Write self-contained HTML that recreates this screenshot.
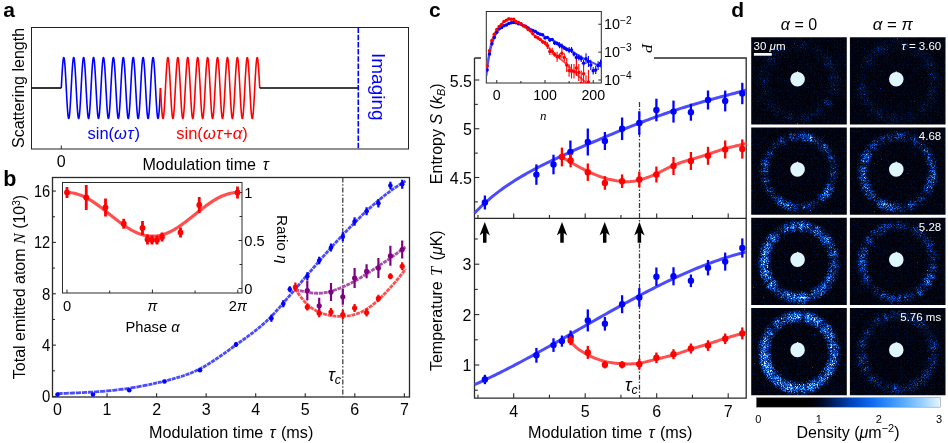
<!DOCTYPE html>
<html><head><meta charset="utf-8"><title>figure</title>
<style>html,body{margin:0;padding:0;background:#fff;}svg{display:block;isolation:isolate;}</style></head><body>
<svg width="948" height="443" viewBox="0 0 948 443">
<rect x="0" y="0" width="948" height="443" fill="#fff"/>
<g opacity="0.999">
<text x="3.2" y="17.2" font-size="21" text-anchor="start" fill="#000" font-family="Liberation Sans, sans-serif" font-weight="bold">a</text>
<text x="3.2" y="185.6" font-size="21.5" text-anchor="start" fill="#000" font-family="Liberation Sans, sans-serif" font-weight="bold">b</text>
<text x="429" y="17.2" font-size="21" text-anchor="start" fill="#000" font-family="Liberation Sans, sans-serif" font-weight="bold">c</text>
<text x="731.3" y="16.6" font-size="21" text-anchor="start" fill="#000" font-family="Liberation Sans, sans-serif" font-weight="bold">d</text>
<rect x="31.5" y="27.5" width="377.0" height="121.5" fill="none" stroke="#222" stroke-width="1"/>
<path d="M31.5 88.0L61.3 88.0" stroke="#000" stroke-width="1.6" fill="none"/>
<path d="M61.30 88.00L61.47 84.81L61.63 81.65L61.80 78.56L61.96 75.58L62.13 72.73L62.29 70.05L62.46 67.56L62.62 65.31L62.79 63.30L62.96 61.56L63.12 60.11L63.29 58.97L63.45 58.15L63.62 57.66L63.78 57.50L63.95 57.68L64.12 58.19L64.28 59.02L64.45 60.18L64.61 61.64L64.78 63.39L64.94 65.41L65.11 67.68L65.27 70.18L65.44 72.87L65.61 75.72L65.77 78.71L65.94 81.80L66.10 84.97L66.27 88.16L66.43 91.35L66.60 94.51L66.77 97.59L66.93 100.57L67.10 103.41L67.26 106.08L67.43 108.55L67.59 110.80L67.76 112.80L67.92 114.52L68.09 115.95L68.26 117.08L68.42 117.88L68.59 118.36L68.75 118.50L68.92 118.31L69.08 117.78L69.25 116.93L69.41 115.76L69.58 114.28L69.75 112.51L69.91 110.48L70.08 108.20L70.24 105.69L70.41 103.00L70.57 100.13L70.74 97.14L70.91 94.04L71.07 90.88L71.24 87.68L71.40 84.49L71.57 81.34L71.73 78.26L71.90 75.28L72.06 72.45L72.23 69.79L72.40 67.33L72.56 65.09L72.73 63.11L72.89 61.40L73.06 59.99L73.22 58.88L73.39 58.09L73.56 57.63L73.72 57.50L73.89 57.71L74.05 58.25L74.22 59.12L74.38 60.31L74.55 61.80L74.71 63.58L74.88 65.63L75.05 67.92L75.21 70.44L75.38 73.14L75.54 76.01L75.71 79.02L75.87 82.12L76.04 85.28L76.20 88.48L76.37 91.67L76.54 94.82L76.70 97.90L76.87 100.86L77.03 103.69L77.20 106.34L77.36 108.79L77.53 111.01L77.70 112.98L77.86 114.68L78.03 116.08L78.19 117.17L78.36 117.94L78.52 118.39L78.69 118.49L78.85 118.27L79.02 117.71L79.19 116.82L79.35 115.62L79.52 114.12L79.68 112.32L79.85 110.26L80.01 107.96L80.18 105.43L80.35 102.72L80.51 99.84L80.68 96.83L80.84 93.72L81.01 90.56L81.17 87.36L81.34 84.17L81.50 81.02L81.67 77.95L81.84 74.99L82.00 72.18L82.17 69.53L82.33 67.09L82.50 64.88L82.66 62.93L82.83 61.25L82.99 59.86L83.16 58.78L83.33 58.03L83.49 57.60L83.66 57.51L83.82 57.75L83.99 58.33L84.15 59.23L84.32 60.45L84.49 61.97L84.65 63.77L84.82 65.85L84.98 68.16L85.15 70.70L85.31 73.42L85.48 76.31L85.64 79.32L85.81 82.43L85.98 85.60L86.14 88.80L86.31 91.99L86.47 95.13L86.64 98.20L86.80 101.15L86.97 103.96L87.14 106.59L87.30 109.02L87.47 111.22L87.63 113.16L87.80 114.83L87.96 116.20L88.13 117.26L88.29 118.00L88.46 118.41L88.63 118.49L88.79 118.23L88.96 117.64L89.12 116.72L89.29 115.48L89.45 113.95L89.62 112.13L89.78 110.04L89.95 107.71L90.12 105.17L90.28 102.43L90.45 99.54L90.61 96.52L90.78 93.41L90.94 90.24L91.11 87.04L91.28 83.85L91.44 80.71L91.61 77.65L91.77 74.70L91.94 71.90L92.10 69.28L92.27 66.86L92.43 64.68L92.60 62.75L92.77 61.09L92.93 59.74L93.10 58.69L93.26 57.97L93.43 57.58L93.59 57.52L93.76 57.79L93.93 58.40L94.09 59.34L94.26 60.59L94.42 62.14L94.59 63.97L94.75 66.07L94.92 68.41L95.08 70.96L95.25 73.71L95.42 76.61L95.58 79.63L95.75 82.75L95.91 85.92L96.08 89.12L96.24 92.30L96.41 95.44L96.57 98.50L96.74 101.44L96.91 104.23L97.07 106.85L97.24 109.25L97.40 111.43L97.57 113.34L97.73 114.98L97.90 116.32L98.07 117.35L98.23 118.06L98.40 118.43L98.56 118.48L98.73 118.18L98.89 117.56L99.06 116.61L99.22 115.34L99.39 113.78L99.56 111.93L99.72 109.82L99.89 107.47L100.05 104.90L100.22 102.15L100.38 99.25L100.55 96.22L100.72 93.09L100.88 89.92L101.05 86.72L101.21 83.54L101.38 80.40L101.54 77.35L101.71 74.42L101.87 71.63L102.04 69.03L102.21 66.63L102.37 64.47L102.54 62.57L102.70 60.95L102.87 59.62L103.03 58.61L103.20 57.92L103.36 57.56L103.53 57.53L103.70 57.84L103.86 58.48L104.03 59.45L104.19 60.73L104.36 62.31L104.52 64.17L104.69 66.29L104.86 68.65L105.02 71.23L105.19 73.99L105.35 76.90L105.52 79.94L105.68 83.06L105.85 86.24L106.01 89.44L106.18 92.62L106.35 95.75L106.51 98.80L106.68 101.73L106.84 104.50L107.01 107.10L107.17 109.48L107.34 111.63L107.51 113.52L107.67 115.13L107.84 116.44L108.00 117.44L108.17 118.11L108.33 118.45L108.50 118.46L108.66 118.14L108.83 117.48L109.00 116.50L109.16 115.20L109.33 113.61L109.49 111.73L109.66 109.60L109.82 107.22L109.99 104.64L110.15 101.87L110.32 98.95L110.49 95.91L110.65 92.78L110.82 89.60L110.98 86.40L111.15 83.22L111.31 80.09L111.48 77.05L111.65 74.13L111.81 71.36L111.98 68.78L112.14 66.40L112.31 64.27L112.47 62.39L112.64 60.80L112.80 59.50L112.97 58.52L113.14 57.86L113.30 57.54L113.47 57.55L113.63 57.89L113.80 58.56L113.96 59.56L114.13 60.87L114.29 62.48L114.46 64.37L114.63 66.52L114.79 68.90L114.96 71.50L115.12 74.27L115.29 77.20L115.45 80.25L115.62 83.38L115.79 86.56L115.95 89.76L116.12 92.94L116.28 96.06L116.45 99.10L116.61 102.01L116.78 104.77L116.94 107.35L117.11 109.71L117.28 111.83L117.44 113.69L117.61 115.27L117.77 116.55L117.94 117.52L118.10 118.16L118.27 118.47L118.44 118.44L118.60 118.08L118.77 117.39L118.93 116.38L119.10 115.05L119.26 113.43L119.43 111.53L119.59 109.37L119.76 106.97L119.93 104.37L120.09 101.58L120.26 98.65L120.42 95.60L120.59 92.46L120.75 89.28L120.92 86.08L121.08 82.91L121.25 79.78L121.42 76.75L121.58 73.85L121.75 71.10L121.91 68.53L122.08 66.18L122.24 64.07L122.41 62.22L122.58 60.66L122.74 59.39L122.91 58.44L123.07 57.82L123.24 57.52L123.40 57.57L123.57 57.94L123.73 58.65L123.90 59.68L124.07 61.02L124.23 62.66L124.40 64.57L124.56 66.75L124.73 69.15L124.89 71.77L125.06 74.56L125.23 77.50L125.39 80.56L125.56 83.70L125.72 86.88L125.89 90.08L126.05 93.25L126.22 96.37L126.38 99.39L126.55 102.29L126.72 105.04L126.88 107.59L127.05 109.93L127.21 112.03L127.38 113.86L127.54 115.41L127.71 116.66L127.87 117.60L128.04 118.21L128.21 118.48L128.37 118.42L128.54 118.03L128.70 117.31L128.87 116.26L129.03 114.91L129.20 113.25L129.37 111.32L129.53 109.14L129.70 106.72L129.86 104.10L130.03 101.30L130.19 98.35L130.36 95.29L130.52 92.15L130.69 88.96L130.86 85.76L131.02 82.59L131.19 79.48L131.35 76.46L131.52 73.57L131.68 70.83L131.85 68.29L132.02 65.96L132.18 63.87L132.35 62.05L132.51 60.52L132.68 59.28L132.84 58.36L133.01 57.77L133.17 57.51L133.34 57.59L133.51 58.00L133.67 58.74L133.84 59.80L134.00 61.17L134.17 62.84L134.33 64.78L134.50 66.98L134.66 69.41L134.83 72.04L135.00 74.85L135.16 77.80L135.33 80.87L135.49 84.01L135.66 87.20L135.82 90.40L135.99 93.57L136.16 96.68L136.32 99.69L136.49 102.58L136.65 105.30L136.82 107.84L136.98 110.15L137.15 112.23L137.31 114.03L137.48 115.55L137.65 116.77L137.81 117.67L137.98 118.25L138.14 118.49L138.31 118.40L138.47 117.97L138.64 117.22L138.81 116.14L138.97 114.75L139.14 113.07L139.30 111.12L139.47 108.91L139.63 106.47L139.80 103.82L139.96 101.01L140.13 98.05L140.30 94.98L140.46 91.83L140.63 88.64L140.79 85.44L140.96 82.28L141.12 79.17L141.29 76.16L141.45 73.28L141.62 70.57L141.79 68.04L141.95 65.74L142.12 63.68L142.28 61.88L142.45 60.38L142.61 59.18L142.78 58.29L142.95 57.73L143.11 57.51L143.28 57.61L143.44 58.06L143.61 58.83L143.77 59.92L143.94 61.32L144.10 63.02L144.27 64.99L144.44 67.21L144.60 69.66L144.77 72.31L144.93 75.14L145.10 78.10L145.26 81.18L145.43 84.33L145.60 87.52L145.76 90.72L145.93 93.88L146.09 96.98L146.26 99.99L146.42 102.86L146.59 105.56L146.75 108.08L146.92 110.37L147.09 112.42L147.25 114.20L147.42 115.69L147.58 116.88L147.75 117.75L147.91 118.29L148.08 118.50L148.24 118.37L148.41 117.91L148.58 117.12L148.74 116.01L148.91 114.60L149.07 112.89L149.24 110.91L149.40 108.67L149.57 106.21L149.74 103.55L149.90 100.72L150.07 97.74L150.23 94.66L150.40 91.51L150.56 88.32L150.73 85.12L150.89 81.96L151.06 78.86L151.23 75.87L151.39 73.00L151.56 70.31L151.72 67.80L151.89 65.52L152.05 63.49L152.22 61.72L152.39 60.24L152.55 59.07L152.72 58.22L152.88 57.69L153.05 57.50L153.21 57.64L153.38 58.12L153.54 58.92L153.71 60.05L153.88 61.48L154.04 63.20L154.21 65.20L154.37 67.45L154.54 69.92L154.70 72.59L154.87 75.43L155.03 78.41L155.20 81.49L155.37 84.65L155.53 87.84L155.70 91.03L155.86 94.20L156.03 97.29L156.19 100.28L156.36 103.13L156.53 105.82L156.69 108.32L156.86 110.59L157.02 112.61L157.19 114.36L157.35 115.82L157.52 116.98L157.68 117.81L157.85 118.32L158.02 118.50L158.18 118.34L158.35 117.85L158.51 117.03L158.68 115.89L158.84 114.44L159.01 112.70L159.18 110.69L159.34 108.44L159.51 105.95L159.67 103.27L159.84 100.42L160.00 97.44L160.17 94.35L160.33 91.19L160.50 88.00" stroke="#0000ff" stroke-width="1.6" fill="none" stroke-linejoin="round"/>
<path d="M160.50 88.00L160.67 91.19L160.83 94.35L161.00 97.44L161.16 100.42L161.33 103.27L161.49 105.95L161.66 108.44L161.82 110.69L161.99 112.70L162.16 114.44L162.32 115.89L162.49 117.03L162.65 117.85L162.82 118.34L162.98 118.50L163.15 118.32L163.32 117.81L163.48 116.98L163.65 115.82L163.81 114.36L163.98 112.61L164.14 110.59L164.31 108.32L164.47 105.82L164.64 103.13L164.81 100.28L164.97 97.29L165.14 94.20L165.30 91.03L165.47 87.84L165.63 84.65L165.80 81.49L165.97 78.41L166.13 75.43L166.30 72.59L166.46 69.92L166.63 67.45L166.79 65.20L166.96 63.20L167.12 61.48L167.29 60.05L167.46 58.92L167.62 58.12L167.79 57.64L167.95 57.50L168.12 57.69L168.28 58.22L168.45 59.07L168.61 60.24L168.78 61.72L168.95 63.49L169.11 65.52L169.28 67.80L169.44 70.31L169.61 73.00L169.77 75.87L169.94 78.86L170.11 81.96L170.27 85.12L170.44 88.32L170.60 91.51L170.77 94.66L170.93 97.74L171.10 100.72L171.26 103.55L171.43 106.21L171.60 108.67L171.76 110.91L171.93 112.89L172.09 114.60L172.26 116.01L172.42 117.12L172.59 117.91L172.76 118.37L172.92 118.50L173.09 118.29L173.25 117.75L173.42 116.88L173.58 115.69L173.75 114.20L173.91 112.42L174.08 110.37L174.25 108.08L174.41 105.56L174.58 102.86L174.74 99.99L174.91 96.98L175.07 93.88L175.24 90.72L175.40 87.52L175.57 84.33L175.74 81.18L175.90 78.10L176.07 75.14L176.23 72.31L176.40 69.66L176.56 67.21L176.73 64.99L176.90 63.02L177.06 61.32L177.23 59.92L177.39 58.83L177.56 58.06L177.72 57.61L177.89 57.51L178.05 57.73L178.22 58.29L178.39 59.18L178.55 60.38L178.72 61.88L178.88 63.68L179.05 65.74L179.21 68.04L179.38 70.57L179.55 73.28L179.71 76.16L179.88 79.17L180.04 82.28L180.21 85.44L180.37 88.64L180.54 91.83L180.70 94.98L180.87 98.05L181.04 101.01L181.20 103.82L181.37 106.47L181.53 108.91L181.70 111.12L181.86 113.07L182.03 114.75L182.19 116.14L182.36 117.22L182.53 117.97L182.69 118.40L182.86 118.49L183.02 118.25L183.19 117.67L183.35 116.77L183.52 115.55L183.69 114.03L183.85 112.23L184.02 110.15L184.18 107.84L184.35 105.30L184.51 102.58L184.68 99.69L184.84 96.68L185.01 93.57L185.18 90.40L185.34 87.20L185.51 84.01L185.67 80.87L185.84 77.80L186.00 74.85L186.17 72.04L186.34 69.41L186.50 66.98L186.67 64.78L186.83 62.84L187.00 61.17L187.16 59.80L187.33 58.74L187.49 58.00L187.66 57.59L187.83 57.51L187.99 57.77L188.16 58.36L188.32 59.28L188.49 60.52L188.65 62.05L188.82 63.87L188.98 65.96L189.15 68.29L189.32 70.83L189.48 73.57L189.65 76.46L189.81 79.48L189.98 82.59L190.14 85.76L190.31 88.96L190.48 92.15L190.64 95.29L190.81 98.35L190.97 101.30L191.14 104.10L191.30 106.72L191.47 109.14L191.63 111.32L191.80 113.25L191.97 114.91L192.13 116.26L192.30 117.31L192.46 118.03L192.63 118.42L192.79 118.48L192.96 118.21L193.13 117.60L193.29 116.66L193.46 115.41L193.62 113.86L193.79 112.03L193.95 109.93L194.12 107.59L194.28 105.04L194.45 102.29L194.62 99.39L194.78 96.37L194.95 93.25L195.11 90.08L195.28 86.88L195.44 83.70L195.61 80.56L195.77 77.50L195.94 74.56L196.11 71.77L196.27 69.15L196.44 66.75L196.60 64.57L196.77 62.66L196.93 61.02L197.10 59.68L197.27 58.65L197.43 57.94L197.60 57.57L197.76 57.52L197.93 57.82L198.09 58.44L198.26 59.39L198.42 60.66L198.59 62.22L198.76 64.07L198.92 66.18L199.09 68.53L199.25 71.10L199.42 73.85L199.58 76.75L199.75 79.78L199.92 82.91L200.08 86.08L200.25 89.28L200.41 92.46L200.58 95.60L200.74 98.65L200.91 101.58L201.07 104.37L201.24 106.97L201.41 109.37L201.57 111.53L201.74 113.43L201.90 115.05L202.07 116.38L202.23 117.39L202.40 118.08L202.56 118.44L202.73 118.47L202.90 118.16L203.06 117.52L203.23 116.55L203.39 115.27L203.56 113.69L203.72 111.83L203.89 109.71L204.06 107.35L204.22 104.77L204.39 102.01L204.55 99.10L204.72 96.06L204.88 92.94L205.05 89.76L205.21 86.56L205.38 83.38L205.55 80.25L205.71 77.20L205.88 74.27L206.04 71.50L206.21 68.90L206.37 66.52L206.54 64.37L206.71 62.48L206.87 60.87L207.04 59.56L207.20 58.56L207.37 57.89L207.53 57.55L207.70 57.54L207.86 57.86L208.03 58.52L208.20 59.50L208.36 60.80L208.53 62.39L208.69 64.27L208.86 66.40L209.02 68.78L209.19 71.36L209.35 74.13L209.52 77.05L209.69 80.09L209.85 83.22L210.02 86.40L210.18 89.60L210.35 92.78L210.51 95.91L210.68 98.95L210.85 101.87L211.01 104.64L211.18 107.22L211.34 109.60L211.51 111.73L211.67 113.61L211.84 115.20L212.00 116.50L212.17 117.48L212.34 118.14L212.50 118.46L212.67 118.45L212.83 118.11L213.00 117.44L213.16 116.44L213.33 115.13L213.49 113.52L213.66 111.63L213.83 109.48L213.99 107.10L214.16 104.50L214.32 101.73L214.49 98.80L214.65 95.75L214.82 92.62L214.99 89.44L215.15 86.24L215.32 83.06L215.48 79.94L215.65 76.90L215.81 73.99L215.98 71.23L216.14 68.65L216.31 66.29L216.48 64.17L216.64 62.31L216.81 60.73L216.97 59.45L217.14 58.48L217.30 57.84L217.47 57.53L217.64 57.56L217.80 57.92L217.97 58.61L218.13 59.62L218.30 60.95L218.46 62.57L218.63 64.47L218.79 66.63L218.96 69.03L219.13 71.63L219.29 74.42L219.46 77.35L219.62 80.40L219.79 83.54L219.95 86.72L220.12 89.92L220.28 93.09L220.45 96.22L220.62 99.25L220.78 102.15L220.95 104.90L221.11 107.47L221.28 109.82L221.44 111.93L221.61 113.78L221.78 115.34L221.94 116.61L222.11 117.56L222.27 118.18L222.44 118.48L222.60 118.43L222.77 118.06L222.93 117.35L223.10 116.32L223.27 114.98L223.43 113.34L223.60 111.43L223.76 109.25L223.93 106.85L224.09 104.23L224.26 101.44L224.43 98.50L224.59 95.44L224.76 92.30L224.92 89.12L225.09 85.92L225.25 82.75L225.42 79.63L225.58 76.61L225.75 73.71L225.92 70.96L226.08 68.41L226.25 66.07L226.41 63.97L226.58 62.14L226.74 60.59L226.91 59.34L227.07 58.40L227.24 57.79L227.41 57.52L227.57 57.58L227.74 57.97L227.90 58.69L228.07 59.74L228.23 61.09L228.40 62.75L228.57 64.68L228.73 66.86L228.90 69.28L229.06 71.90L229.23 74.70L229.39 77.65L229.56 80.71L229.72 83.85L229.89 87.04L230.06 90.24L230.22 93.41L230.39 96.52L230.55 99.54L230.72 102.43L230.88 105.17L231.05 107.71L231.22 110.04L231.38 112.13L231.55 113.95L231.71 115.48L231.88 116.72L232.04 117.64L232.21 118.23L232.37 118.49L232.54 118.41L232.71 118.00L232.87 117.26L233.04 116.20L233.20 114.83L233.37 113.16L233.53 111.22L233.70 109.02L233.86 106.59L234.03 103.96L234.20 101.15L234.36 98.20L234.53 95.13L234.69 91.99L234.86 88.80L235.02 85.60L235.19 82.43L235.36 79.32L235.52 76.31L235.69 73.42L235.85 70.70L236.02 68.16L236.18 65.85L236.35 63.77L236.51 61.97L236.68 60.45L236.85 59.23L237.01 58.33L237.18 57.75L237.34 57.51L237.51 57.60L237.67 58.03L237.84 58.78L238.01 59.86L238.17 61.25L238.34 62.93L238.50 64.88L238.67 67.09L238.83 69.53L239.00 72.18L239.16 74.99L239.33 77.95L239.50 81.02L239.66 84.17L239.83 87.36L239.99 90.56L240.16 93.72L240.32 96.83L240.49 99.84L240.65 102.72L240.82 105.43L240.99 107.96L241.15 110.26L241.32 112.32L241.48 114.12L241.65 115.62L241.81 116.82L241.98 117.71L242.15 118.27L242.31 118.49L242.48 118.39L242.64 117.94L242.81 117.17L242.97 116.08L243.14 114.68L243.30 112.98L243.47 111.01L243.64 108.79L243.80 106.34L243.97 103.69L244.13 100.86L244.30 97.90L244.46 94.82L244.63 91.67L244.80 88.48L244.96 85.28L245.13 82.12L245.29 79.02L245.46 76.01L245.62 73.14L245.79 70.44L245.95 67.92L246.12 65.63L246.29 63.58L246.45 61.80L246.62 60.31L246.78 59.12L246.95 58.25L247.11 57.71L247.28 57.50L247.44 57.63L247.61 58.09L247.78 58.88L247.94 59.99L248.11 61.40L248.27 63.11L248.44 65.09L248.60 67.33L248.77 69.79L248.94 72.45L249.10 75.28L249.27 78.26L249.43 81.34L249.60 84.49L249.76 87.68L249.93 90.88L250.09 94.04L250.26 97.14L250.43 100.13L250.59 103.00L250.76 105.69L250.92 108.20L251.09 110.48L251.25 112.51L251.42 114.28L251.59 115.76L251.75 116.93L251.92 117.78L252.08 118.31L252.25 118.50L252.41 118.36L252.58 117.88L252.74 117.08L252.91 115.95L253.08 114.52L253.24 112.80L253.41 110.80L253.57 108.55L253.74 106.08L253.90 103.41L254.07 100.57L254.23 97.59L254.40 94.51L254.57 91.35L254.73 88.16L254.90 84.97L255.06 81.80L255.23 78.71L255.39 75.72L255.56 72.87L255.73 70.18L255.89 67.68L256.06 65.41L256.22 63.39L256.39 61.64L256.55 60.18L256.72 59.02L256.88 58.19L257.05 57.68L257.22 57.50L257.38 57.66L257.55 58.15L257.71 58.97L257.88 60.11L258.04 61.56L258.21 63.30L258.38 65.31L258.54 67.56L258.71 70.05L258.87 72.73L259.04 75.58L259.20 78.56L259.37 81.65L259.53 84.81L259.70 88.00" stroke="#ff0000" stroke-width="1.6" fill="none" stroke-linejoin="round"/>
<path d="M259.70 88.0L358 88.0" stroke="#000" stroke-width="1.6" fill="none"/>
<line x1="358.3" y1="27.5" x2="358.3" y2="149.0" stroke="#0000ff" stroke-width="1.6" stroke-dasharray="5.5 1.7"/>
<line x1="61.3" y1="149.0" x2="61.3" y2="145.5" stroke="#2a2a2a" stroke-width="1" />
<text x="61.3" y="166.8" font-size="16" text-anchor="middle" fill="#000" font-family="Liberation Sans, sans-serif" >0</text>
<text x="205.6" y="170" font-size="16.1" text-anchor="middle" fill="#000" font-family="Liberation Sans, sans-serif" >Modulation time <tspan font-style="italic" dx="2.2">τ</tspan></text>
<text x="0" y="0" font-size="16" text-anchor="middle" fill="#000" font-family="Liberation Sans, sans-serif" transform="translate(24.4,88) rotate(-90)">Scattering length</text>
<text x="0" y="0" font-size="19" text-anchor="middle" fill="#0000ff" font-family="Liberation Sans, sans-serif" transform="translate(372.2,86.8) rotate(90)">Imaging</text>
<text x="113.7" y="138.5" font-size="16.5" text-anchor="middle" fill="#0000ff" font-family="Liberation Sans, sans-serif" >sin(<tspan font-style="italic" letter-spacing="0.8">ωτ</tspan>)</text>
<text x="212" y="138.5" font-size="16.5" text-anchor="middle" fill="#ff0000" font-family="Liberation Sans, sans-serif" >sin(<tspan font-style="italic" letter-spacing="0.8">ωτ</tspan>+<tspan font-style="italic">α</tspan>)</text>
<rect x="52.5" y="177.5" width="357.0" height="219.5" fill="none" stroke="#2a2a2a" stroke-width="1.3"/>
<line x1="57.5" y1="397.0" x2="57.5" y2="393.2" stroke="#2a2a2a" stroke-width="1.1" />
<text x="57.5" y="415.3" font-size="16" text-anchor="middle" fill="#000" font-family="Liberation Sans, sans-serif" >0</text>
<line x1="107.05" y1="397.0" x2="107.05" y2="393.2" stroke="#2a2a2a" stroke-width="1.1" />
<text x="107.05" y="415.3" font-size="16" text-anchor="middle" fill="#000" font-family="Liberation Sans, sans-serif" >1</text>
<line x1="156.6" y1="397.0" x2="156.6" y2="393.2" stroke="#2a2a2a" stroke-width="1.1" />
<text x="156.6" y="415.3" font-size="16" text-anchor="middle" fill="#000" font-family="Liberation Sans, sans-serif" >2</text>
<line x1="206.14999999999998" y1="397.0" x2="206.14999999999998" y2="393.2" stroke="#2a2a2a" stroke-width="1.1" />
<text x="206.14999999999998" y="415.3" font-size="16" text-anchor="middle" fill="#000" font-family="Liberation Sans, sans-serif" >3</text>
<line x1="255.7" y1="397.0" x2="255.7" y2="393.2" stroke="#2a2a2a" stroke-width="1.1" />
<text x="255.7" y="415.3" font-size="16" text-anchor="middle" fill="#000" font-family="Liberation Sans, sans-serif" >4</text>
<line x1="305.25" y1="397.0" x2="305.25" y2="393.2" stroke="#2a2a2a" stroke-width="1.1" />
<text x="305.25" y="415.3" font-size="16" text-anchor="middle" fill="#000" font-family="Liberation Sans, sans-serif" >5</text>
<line x1="354.79999999999995" y1="397.0" x2="354.79999999999995" y2="393.2" stroke="#2a2a2a" stroke-width="1.1" />
<text x="354.79999999999995" y="415.3" font-size="16" text-anchor="middle" fill="#000" font-family="Liberation Sans, sans-serif" >6</text>
<line x1="404.34999999999997" y1="397.0" x2="404.34999999999997" y2="393.2" stroke="#2a2a2a" stroke-width="1.1" />
<text x="404.34999999999997" y="415.3" font-size="16" text-anchor="middle" fill="#000" font-family="Liberation Sans, sans-serif" >7</text>
<line x1="52.5" y1="396.5" x2="55.9" y2="396.5" stroke="#2a2a2a" stroke-width="1.1" />
<text x="50.2" y="402.4" font-size="16" text-anchor="end" fill="#000" font-family="Liberation Sans, sans-serif" textLength="8.3" lengthAdjust="spacingAndGlyphs">0</text>
<line x1="52.5" y1="370.82" x2="54.9" y2="370.82" stroke="#2a2a2a" stroke-width="1.1" />
<line x1="52.5" y1="345.14" x2="55.9" y2="345.14" stroke="#2a2a2a" stroke-width="1.1" />
<text x="50.2" y="351.03999999999996" font-size="16" text-anchor="end" fill="#000" font-family="Liberation Sans, sans-serif" textLength="8.3" lengthAdjust="spacingAndGlyphs">4</text>
<line x1="52.5" y1="319.46000000000004" x2="54.9" y2="319.46000000000004" stroke="#2a2a2a" stroke-width="1.1" />
<line x1="52.5" y1="293.78" x2="55.9" y2="293.78" stroke="#2a2a2a" stroke-width="1.1" />
<text x="50.2" y="299.67999999999995" font-size="16" text-anchor="end" fill="#000" font-family="Liberation Sans, sans-serif" textLength="8.3" lengthAdjust="spacingAndGlyphs">8</text>
<line x1="52.5" y1="268.1" x2="54.9" y2="268.1" stroke="#2a2a2a" stroke-width="1.1" />
<line x1="52.5" y1="242.42000000000002" x2="55.9" y2="242.42000000000002" stroke="#2a2a2a" stroke-width="1.1" />
<text x="50.2" y="248.32000000000002" font-size="16" text-anchor="end" fill="#000" font-family="Liberation Sans, sans-serif" textLength="16.2" lengthAdjust="spacingAndGlyphs">12</text>
<line x1="52.5" y1="216.74" x2="54.9" y2="216.74" stroke="#2a2a2a" stroke-width="1.1" />
<line x1="52.5" y1="191.06" x2="55.9" y2="191.06" stroke="#2a2a2a" stroke-width="1.1" />
<text x="50.2" y="196.96" font-size="16" text-anchor="end" fill="#000" font-family="Liberation Sans, sans-serif" textLength="16.2" lengthAdjust="spacingAndGlyphs">16</text>
<text x="231.2" y="438.3" font-size="16.2" text-anchor="middle" fill="#000" font-family="Liberation Sans, sans-serif" >Modulation time <tspan font-style="italic" dx="1.5">τ</tspan><tspan dx="1"> (ms)</tspan></text>
<text x="0" y="0" font-size="16" text-anchor="middle" fill="#000" font-family="Liberation Sans, sans-serif" transform="translate(24.7,287) rotate(-90)">Total emitted atom <tspan font-family="Liberation Serif, serif" font-style="italic">N</tspan> (10<tspan dy="-5" font-size="10">3</tspan><tspan dy="5">)</tspan></text>
<line x1="342.8" y1="177.5" x2="342.8" y2="397.0" stroke="#3a3a3a" stroke-width="1.25" stroke-dasharray="5 1.8 1.5 1.8"/>
<text x="341" y="381" font-size="17.5" text-anchor="end" fill="#000" font-family="Liberation Sans, sans-serif" ><tspan font-style="italic">τ</tspan><tspan font-style="italic" font-size="12.5" dy="3">c</tspan></text>
<path d="M57.50 393.60L59.25 393.54L61.00 393.48L62.75 393.41L64.49 393.35L66.24 393.29L67.99 393.22L69.74 393.16L71.49 393.09L73.24 393.02L74.99 392.95L76.74 392.87L78.48 392.79L80.23 392.71L81.98 392.63L83.73 392.54L85.48 392.45L87.23 392.36L88.98 392.26L90.73 392.15L92.47 392.05L94.22 391.93L95.97 391.81L97.72 391.69L99.47 391.56L101.22 391.43L102.97 391.29L104.72 391.14L106.46 390.98L108.21 390.82L109.96 390.65L111.71 390.48L113.46 390.30L115.21 390.11L116.96 389.91L118.71 389.70L120.45 389.48L122.20 389.26L123.95 389.02L125.70 388.78L127.45 388.53L129.20 388.26L130.95 387.99L132.70 387.71L134.44 387.42L136.19 387.12L137.94 386.80L139.69 386.48L141.44 386.16L143.19 385.82L144.94 385.47L146.69 385.12L148.43 384.76" stroke="#4a4aff" stroke-width="2.8" fill="none" stroke-dasharray="5.2 0.9"/>
<path d="M148.43 384.76L150.18 384.39L151.93 384.01L153.68 383.63L155.43 383.24L157.18 382.84L158.93 382.43L160.68 382.02L162.42 381.60L164.17 381.18L165.92 380.75L167.67 380.32L169.42 379.87L171.17 379.41L172.92 378.94L174.67 378.46L176.41 377.96L178.16 377.45L179.91 376.91L181.66 376.35L183.41 375.77L185.16 375.17L186.91 374.54L188.66 373.88L190.40 373.19L192.15 372.47L193.90 371.72L195.65 370.93L197.40 370.10L199.15 369.24L200.90 368.33L202.65 367.39L204.39 366.41L206.14 365.39L207.89 364.34L209.64 363.26L211.39 362.15L213.14 361.01L214.89 359.85L216.64 358.67L218.38 357.48L220.13 356.26L221.88 355.03L223.63 353.79L225.38 352.54L227.13 351.29L228.88 350.02L230.63 348.76L232.37 347.50L234.12 346.24L235.87 344.98L237.62 343.73L239.37 342.49L241.12 341.24L242.87 340.00L244.62 338.75L246.36 337.48L248.11 336.21L249.86 334.92L251.61 333.60L253.36 332.27L255.11 330.91L256.86 329.52L258.61 328.09L260.35 326.63L262.10 325.12L263.85 323.58L265.60 321.98L267.35 320.34L269.10 318.64L270.85 316.88L272.60 315.06L274.34 313.18L276.09 311.26L277.84 309.30L279.59 307.31L281.34 305.30L283.09 303.27L284.84 301.23L286.59 299.20L288.33 297.15L290.08 295.11L291.83 293.06L293.58 291.01L295.33 288.96L297.08 286.91L298.83 284.86L300.58 282.81L302.32 280.76L304.07 278.71L305.82 276.66L307.57 274.62L309.32 272.58L311.07 270.54L312.82 268.51L314.57 266.48L316.31 264.46L318.06 262.44L319.81 260.43L321.56 258.43L323.31 256.43L325.06 254.45L326.81 252.47L328.56 250.50L330.30 248.54L332.05 246.59L333.80 244.65L335.55 242.72L337.30 240.81L339.05 238.90L340.80 237.01L342.55 235.14L344.29 233.28L346.04 231.43L347.79 229.59L349.54 227.78L351.29 225.97L353.04 224.19L354.79 222.42L356.54 220.67L358.28 218.94L360.03 217.23L361.78 215.53L363.53 213.86L365.28 212.21L367.03 210.58L368.78 208.97L370.53 207.38L372.27 205.81L374.02 204.27L375.77 202.75L377.52 201.25L379.27 199.78L381.02 198.34L382.77 196.92L384.52 195.52L386.26 194.16L388.01 192.82L389.76 191.51L391.51 190.22L393.26 188.97L395.01 187.75L396.76 186.55L398.51 185.39L400.25 184.26L402.00 183.16L403.75 182.09L405.50 181.05" stroke="#4a4aff" stroke-width="2.8" fill="none" stroke-dasharray="4 0.8"/>
<path d="M295.25 289.50L296.36 289.75L297.48 290.01L298.59 290.26L299.70 290.52L300.82 290.78L301.93 291.04L303.05 291.29L304.16 291.53L305.27 291.76L306.39 291.99L307.50 292.20L308.61 292.40L309.73 292.58L310.84 292.75L311.95 292.89L313.07 293.02L314.18 293.12L315.30 293.20L316.41 293.25L317.52 293.27L318.64 293.27L319.75 293.23L320.86 293.16L321.98 293.06L323.09 292.92L324.20 292.76L325.32 292.58L326.43 292.36L327.55 292.13L328.66 291.87L329.77 291.58L330.89 291.28L332.00 290.96L333.11 290.62L334.23 290.26L335.34 289.89L336.45 289.49L337.57 289.09L338.68 288.66L339.80 288.23L340.91 287.77L342.02 287.31L343.14 286.83L344.25 286.34L345.36 285.84L346.48 285.33L347.59 284.80L348.70 284.26L349.82 283.71L350.93 283.15L352.05 282.57L353.16 281.98L354.27 281.37L355.39 280.76L356.50 280.13L357.61 279.48L358.73 278.83L359.84 278.16L360.95 277.49L362.07 276.80L363.18 276.11L364.30 275.41L365.41 274.70L366.52 273.99L367.64 273.26L368.75 272.54L369.86 271.81L370.98 271.07L372.09 270.34L373.20 269.60L374.32 268.86L375.43 268.12L376.55 267.38L377.66 266.64L378.77 265.91L379.89 265.17L381.00 264.44L382.11 263.70L383.23 262.97L384.34 262.23L385.45 261.48L386.57 260.73L387.68 259.97L388.80 259.20L389.91 258.42L391.02 257.63L392.14 256.82L393.25 256.01L394.36 255.18L395.48 254.35L396.59 253.52L397.70 252.69L398.82 251.85L399.93 251.03L401.05 250.20L402.16 249.38L403.27 248.58L404.39 247.78L405.50 247.00" stroke="#a850a8" stroke-width="2.8" fill="none" stroke-dasharray="4 0.8"/>
<path d="M295.25 288.50L296.36 290.39L297.48 292.18L298.59 293.89L299.70 295.50L300.82 297.02L301.93 298.46L303.05 299.82L304.16 301.10L305.27 302.31L306.39 303.44L307.50 304.50L308.61 305.50L309.73 306.43L310.84 307.30L311.95 308.11L313.07 308.87L314.18 309.57L315.30 310.23L316.41 310.84L317.52 311.40L318.64 311.93L319.75 312.41L320.86 312.86L321.98 313.28L323.09 313.67L324.20 314.02L325.32 314.34L326.43 314.64L327.55 314.91L328.66 315.16L329.77 315.38L330.89 315.58L332.00 315.76L333.11 315.92L334.23 316.06L335.34 316.18L336.45 316.28L337.57 316.35L338.68 316.41L339.80 316.44L340.91 316.44L342.02 316.43L343.14 316.38L344.25 316.31L345.36 316.22L346.48 316.10L347.59 315.96L348.70 315.79L349.82 315.60L350.93 315.38L352.05 315.13L353.16 314.86L354.27 314.56L355.39 314.24L356.50 313.89L357.61 313.51L358.73 313.10L359.84 312.65L360.95 312.18L362.07 311.66L363.18 311.12L364.30 310.53L365.41 309.90L366.52 309.24L367.64 308.53L368.75 307.78L369.86 306.99L370.98 306.16L372.09 305.30L373.20 304.41L374.32 303.48L375.43 302.53L376.55 301.55L377.66 300.54L378.77 299.51L379.89 298.46L381.00 297.39L382.11 296.30L383.23 295.19L384.34 294.06L385.45 292.91L386.57 291.75L387.68 290.56L388.80 289.36L389.91 288.15L391.02 286.92L392.14 285.68L393.25 284.42L394.36 283.14L395.48 281.84L396.59 280.52L397.70 279.17L398.82 277.81L399.93 276.41L401.05 274.99L402.16 273.54L403.27 272.06L404.39 270.55L405.50 269.00" stroke="#ff5050" stroke-width="2.8" fill="none" stroke-dasharray="4 0.8"/>
<line x1="57.50" y1="394.50" x2="57.50" y2="394.50" stroke="#0000ff" stroke-width="2.2"/>
<circle cx="57.50" cy="394.50" r="2.3" fill="#0000ff"/>
<line x1="93.00" y1="394.50" x2="93.00" y2="394.50" stroke="#0000ff" stroke-width="2.2"/>
<circle cx="93.00" cy="394.50" r="2.3" fill="#0000ff"/>
<line x1="129.25" y1="390.25" x2="129.25" y2="390.25" stroke="#0000ff" stroke-width="2.2"/>
<circle cx="129.25" cy="390.25" r="2.3" fill="#0000ff"/>
<line x1="164.50" y1="381.50" x2="164.50" y2="381.50" stroke="#0000ff" stroke-width="2.2"/>
<circle cx="164.50" cy="381.50" r="2.3" fill="#0000ff"/>
<line x1="200.00" y1="370.25" x2="200.00" y2="370.25" stroke="#0000ff" stroke-width="2.2"/>
<circle cx="200.00" cy="370.25" r="2.3" fill="#0000ff"/>
<line x1="236.00" y1="342.00" x2="236.00" y2="347.00" stroke="#0000ff" stroke-width="2.2"/>
<circle cx="236.00" cy="344.50" r="2.3" fill="#0000ff"/>
<line x1="271.40" y1="314.65" x2="271.40" y2="321.85" stroke="#0000ff" stroke-width="2.2"/>
<circle cx="271.40" cy="318.25" r="2.3" fill="#0000ff"/>
<line x1="283.30" y1="300.15" x2="283.30" y2="307.35" stroke="#0000ff" stroke-width="2.2"/>
<circle cx="283.30" cy="303.75" r="2.3" fill="#0000ff"/>
<line x1="289.80" y1="286.25" x2="289.80" y2="292.25" stroke="#0000ff" stroke-width="2.2"/>
<circle cx="289.80" cy="289.25" r="2.3" fill="#0000ff"/>
<line x1="307.30" y1="272.25" x2="307.30" y2="280.25" stroke="#0000ff" stroke-width="2.2"/>
<circle cx="307.30" cy="276.25" r="2.3" fill="#0000ff"/>
<line x1="319.20" y1="256.70" x2="319.20" y2="264.30" stroke="#0000ff" stroke-width="2.2"/>
<circle cx="319.20" cy="260.50" r="2.3" fill="#0000ff"/>
<line x1="331.00" y1="243.50" x2="331.00" y2="251.50" stroke="#0000ff" stroke-width="2.2"/>
<circle cx="331.00" cy="247.50" r="2.3" fill="#0000ff"/>
<line x1="342.80" y1="232.25" x2="342.80" y2="241.25" stroke="#0000ff" stroke-width="2.2"/>
<circle cx="342.80" cy="236.75" r="2.3" fill="#0000ff"/>
<line x1="354.60" y1="217.30" x2="354.60" y2="225.70" stroke="#0000ff" stroke-width="2.2"/>
<circle cx="354.60" cy="221.50" r="2.3" fill="#0000ff"/>
<line x1="366.60" y1="207.25" x2="366.60" y2="215.25" stroke="#0000ff" stroke-width="2.2"/>
<circle cx="366.60" cy="211.25" r="2.3" fill="#0000ff"/>
<line x1="378.40" y1="199.05" x2="378.40" y2="207.45" stroke="#0000ff" stroke-width="2.2"/>
<circle cx="378.40" cy="203.25" r="2.3" fill="#0000ff"/>
<line x1="390.40" y1="181.70" x2="390.40" y2="189.30" stroke="#0000ff" stroke-width="2.2"/>
<circle cx="390.40" cy="185.50" r="2.3" fill="#0000ff"/>
<line x1="402.20" y1="179.75" x2="402.20" y2="188.75" stroke="#0000ff" stroke-width="2.2"/>
<circle cx="402.20" cy="184.25" r="2.3" fill="#0000ff"/>
<line x1="307.30" y1="280.50" x2="307.30" y2="300.50" stroke="#800080" stroke-width="2.2"/>
<circle cx="307.30" cy="290.50" r="2.6" fill="#800080"/>
<line x1="319.20" y1="297.75" x2="319.20" y2="313.75" stroke="#800080" stroke-width="2.2"/>
<circle cx="319.20" cy="305.75" r="2.6" fill="#800080"/>
<line x1="331.00" y1="283.00" x2="331.00" y2="301.00" stroke="#800080" stroke-width="2.2"/>
<circle cx="331.00" cy="292.00" r="2.6" fill="#800080"/>
<line x1="342.80" y1="288.75" x2="342.80" y2="304.75" stroke="#800080" stroke-width="2.2"/>
<circle cx="342.80" cy="296.75" r="2.6" fill="#800080"/>
<line x1="354.60" y1="268.00" x2="354.60" y2="288.00" stroke="#800080" stroke-width="2.2"/>
<circle cx="354.60" cy="278.00" r="2.6" fill="#800080"/>
<line x1="366.60" y1="264.25" x2="366.60" y2="278.25" stroke="#800080" stroke-width="2.2"/>
<circle cx="366.60" cy="271.25" r="2.6" fill="#800080"/>
<line x1="378.40" y1="258.00" x2="378.40" y2="278.00" stroke="#800080" stroke-width="2.2"/>
<circle cx="378.40" cy="268.00" r="2.6" fill="#800080"/>
<line x1="390.40" y1="245.75" x2="390.40" y2="265.75" stroke="#800080" stroke-width="2.2"/>
<circle cx="390.40" cy="255.75" r="2.6" fill="#800080"/>
<line x1="402.20" y1="240.50" x2="402.20" y2="258.50" stroke="#800080" stroke-width="2.2"/>
<circle cx="402.20" cy="249.50" r="2.6" fill="#800080"/>
<line x1="295.40" y1="282.50" x2="295.40" y2="291.50" stroke="#ff0000" stroke-width="2.2"/>
<circle cx="295.40" cy="287.00" r="2.6" fill="#ff0000"/>
<line x1="307.30" y1="303.50" x2="307.30" y2="310.50" stroke="#ff0000" stroke-width="2.2"/>
<circle cx="307.30" cy="307.00" r="2.6" fill="#ff0000"/>
<line x1="319.20" y1="309.25" x2="319.20" y2="317.25" stroke="#ff0000" stroke-width="2.2"/>
<circle cx="319.20" cy="313.25" r="2.6" fill="#ff0000"/>
<line x1="331.00" y1="308.00" x2="331.00" y2="316.00" stroke="#ff0000" stroke-width="2.2"/>
<circle cx="331.00" cy="312.00" r="2.6" fill="#ff0000"/>
<line x1="342.80" y1="310.00" x2="342.80" y2="319.00" stroke="#ff0000" stroke-width="2.2"/>
<circle cx="342.80" cy="314.50" r="2.6" fill="#ff0000"/>
<line x1="354.60" y1="304.00" x2="354.60" y2="312.00" stroke="#ff0000" stroke-width="2.2"/>
<circle cx="354.60" cy="308.00" r="2.6" fill="#ff0000"/>
<line x1="366.60" y1="308.50" x2="366.60" y2="316.50" stroke="#ff0000" stroke-width="2.2"/>
<circle cx="366.60" cy="312.50" r="2.6" fill="#ff0000"/>
<line x1="378.40" y1="294.75" x2="378.40" y2="301.75" stroke="#ff0000" stroke-width="2.2"/>
<circle cx="378.40" cy="298.25" r="2.6" fill="#ff0000"/>
<line x1="390.40" y1="273.25" x2="390.40" y2="279.25" stroke="#ff0000" stroke-width="2.2"/>
<circle cx="390.40" cy="276.25" r="2.6" fill="#ff0000"/>
<line x1="402.20" y1="262.25" x2="402.20" y2="270.25" stroke="#ff0000" stroke-width="2.2"/>
<circle cx="402.20" cy="266.25" r="2.6" fill="#ff0000"/>
<rect x="62.5" y="182.5" width="179.5" height="110.5" fill="#fff" stroke="#2a2a2a" stroke-width="1"/>
<line x1="67.0" y1="293.0" x2="67.0" y2="289.5" stroke="#2a2a2a" stroke-width="1" />
<text x="67.0" y="311.3" font-size="14.7" text-anchor="middle" fill="#000" font-family="Liberation Sans, sans-serif" >0</text>
<line x1="109.7" y1="293.0" x2="109.7" y2="290.5" stroke="#2a2a2a" stroke-width="1" />
<line x1="152.4" y1="293.0" x2="152.4" y2="289.5" stroke="#2a2a2a" stroke-width="1" />
<text x="152.4" y="311.3" font-size="14.7" text-anchor="middle" fill="#000" font-family="Liberation Sans, sans-serif" ><tspan font-style="italic">π</tspan></text>
<line x1="195.10000000000002" y1="293.0" x2="195.10000000000002" y2="290.5" stroke="#2a2a2a" stroke-width="1" />
<line x1="237.8" y1="293.0" x2="237.8" y2="289.5" stroke="#2a2a2a" stroke-width="1" />
<text x="237.8" y="311.3" font-size="14.7" text-anchor="middle" fill="#000" font-family="Liberation Sans, sans-serif" >2<tspan font-style="italic">π</tspan></text>
<line x1="242.0" y1="288.5" x2="238.5" y2="288.5" stroke="#2a2a2a" stroke-width="1" />
<text x="244.3" y="293.7" font-size="14.7" text-anchor="start" fill="#000" font-family="Liberation Sans, sans-serif" >0</text>
<line x1="242.0" y1="264.5" x2="239.5" y2="264.5" stroke="#2a2a2a" stroke-width="1" />
<line x1="242.0" y1="240.5" x2="238.5" y2="240.5" stroke="#2a2a2a" stroke-width="1" />
<text x="244.3" y="245.7" font-size="14.7" text-anchor="start" fill="#000" font-family="Liberation Sans, sans-serif" >0.5</text>
<line x1="242.0" y1="216.5" x2="239.5" y2="216.5" stroke="#2a2a2a" stroke-width="1" />
<line x1="242.0" y1="192.5" x2="238.5" y2="192.5" stroke="#2a2a2a" stroke-width="1" />
<text x="244.3" y="197.7" font-size="14.7" text-anchor="start" fill="#000" font-family="Liberation Sans, sans-serif" >1</text>
<text x="152.5" y="332.3" font-size="14.7" text-anchor="middle" fill="#000" font-family="Liberation Sans, sans-serif" >Phase <tspan font-style="italic">α</tspan></text>
<text x="0" y="0" font-size="15.4" text-anchor="middle" fill="#000" font-family="Liberation Sans, sans-serif" transform="translate(276.5,239.3) rotate(90)">Ratio <tspan font-style="italic">η</tspan></text>
<path d="M67.00 192.50L68.44 192.53L69.87 192.62L71.31 192.77L72.74 192.99L74.18 193.26L75.61 193.59L77.05 193.97L78.48 194.42L79.92 194.92L81.35 195.47L82.79 196.08L84.22 196.74L85.66 197.45L87.09 198.20L88.53 199.00L89.96 199.84L91.40 200.72L92.84 201.64L94.27 202.60L95.71 203.59L97.14 204.61L98.58 205.65L100.01 206.72L101.45 207.81L102.88 208.92L104.32 210.04L105.75 211.18L107.19 212.32L108.62 213.48L110.06 214.63L111.49 215.78L112.93 216.93L114.36 218.07L115.80 219.20L117.24 220.32L118.67 221.42L120.11 222.50L121.54 223.56L122.98 224.59L124.41 225.59L125.85 226.56L127.28 227.50L128.72 228.40L130.15 229.27L131.59 230.09L133.02 230.86L134.46 231.59L135.89 232.28L137.33 232.91L138.76 233.49L140.20 234.02L141.64 234.49L143.07 234.91L144.51 235.27L145.94 235.57L147.38 235.81L148.81 235.99L150.25 236.11L151.68 236.17L153.12 236.17L154.55 236.11L155.99 235.99L157.42 235.81L158.86 235.57L160.29 235.27L161.73 234.91L163.16 234.49L164.60 234.02L166.04 233.49L167.47 232.91L168.91 232.28L170.34 231.59L171.78 230.86L173.21 230.09L174.65 229.27L176.08 228.40L177.52 227.50L178.95 226.56L180.39 225.59L181.82 224.59L183.26 223.56L184.69 222.50L186.13 221.42L187.56 220.32L189.00 219.20L190.44 218.07L191.87 216.93L193.31 215.78L194.74 214.63L196.18 213.48L197.61 212.32L199.05 211.18L200.48 210.04L201.92 208.92L203.35 207.81L204.79 206.72L206.22 205.65L207.66 204.61L209.09 203.59L210.53 202.60L211.96 201.64L213.40 200.72L214.84 199.84L216.27 199.00L217.71 198.20L219.14 197.45L220.58 196.74L222.01 196.08L223.45 195.47L224.88 194.92L226.32 194.42L227.75 193.97L229.19 193.59L230.62 193.26L232.06 192.99L233.49 192.77L234.93 192.62L236.36 192.53L237.80 192.50" stroke="#ff5050" stroke-width="3.2" fill="none"/>
<line x1="67.00" y1="187.00" x2="67.00" y2="198.00" stroke="#ff0000" stroke-width="2.8"/>
<circle cx="67.00" cy="192.50" r="2.9" fill="#ff0000"/>
<line x1="86.25" y1="185.00" x2="86.25" y2="210.00" stroke="#ff0000" stroke-width="2.8"/>
<circle cx="86.25" cy="197.50" r="2.9" fill="#ff0000"/>
<line x1="105.50" y1="198.50" x2="105.50" y2="216.50" stroke="#ff0000" stroke-width="2.8"/>
<circle cx="105.50" cy="207.50" r="2.9" fill="#ff0000"/>
<line x1="123.75" y1="218.75" x2="123.75" y2="228.75" stroke="#ff0000" stroke-width="2.8"/>
<circle cx="123.75" cy="223.75" r="2.9" fill="#ff0000"/>
<line x1="142.50" y1="221.00" x2="142.50" y2="235.00" stroke="#ff0000" stroke-width="2.8"/>
<circle cx="142.50" cy="228.00" r="2.9" fill="#ff0000"/>
<line x1="147.50" y1="234.50" x2="147.50" y2="244.50" stroke="#ff0000" stroke-width="2.8"/>
<circle cx="147.50" cy="239.50" r="2.9" fill="#ff0000"/>
<line x1="152.00" y1="235.50" x2="152.00" y2="244.50" stroke="#ff0000" stroke-width="2.8"/>
<circle cx="152.00" cy="240.00" r="2.9" fill="#ff0000"/>
<line x1="157.00" y1="235.50" x2="157.00" y2="244.50" stroke="#ff0000" stroke-width="2.8"/>
<circle cx="157.00" cy="240.00" r="2.9" fill="#ff0000"/>
<line x1="162.00" y1="232.50" x2="162.00" y2="241.50" stroke="#ff0000" stroke-width="2.8"/>
<circle cx="162.00" cy="237.00" r="2.9" fill="#ff0000"/>
<line x1="180.50" y1="227.50" x2="180.50" y2="237.50" stroke="#ff0000" stroke-width="2.8"/>
<circle cx="180.50" cy="232.50" r="2.9" fill="#ff0000"/>
<line x1="199.25" y1="197.00" x2="199.25" y2="213.00" stroke="#ff0000" stroke-width="2.8"/>
<circle cx="199.25" cy="205.00" r="2.9" fill="#ff0000"/>
<line x1="237.50" y1="186.50" x2="237.50" y2="198.50" stroke="#ff0000" stroke-width="2.8"/>
<circle cx="237.50" cy="192.50" r="2.9" fill="#ff0000"/>
<path d="M474.5 58.0L474.5 398.1L746.2 398.1L746.2 58.0L474.5 58.0" fill="none" stroke="#2a2a2a" stroke-width="1.3"/>
<line x1="474.5" y1="218.4" x2="746.2" y2="218.4" stroke="#2a2a2a" stroke-width="1.3" />
<line x1="477.95000000000005" y1="398.1" x2="477.95000000000005" y2="394.8" stroke="#2a2a2a" stroke-width="1.1" />
<line x1="477.95000000000005" y1="218.4" x2="477.95000000000005" y2="215.1" stroke="#2a2a2a" stroke-width="1.1" />
<line x1="513.7" y1="398.1" x2="513.7" y2="393.3" stroke="#2a2a2a" stroke-width="1.1" />
<line x1="513.7" y1="218.4" x2="513.7" y2="213.6" stroke="#2a2a2a" stroke-width="1.1" />
<text x="513.7" y="417" font-size="16" text-anchor="middle" fill="#000" font-family="Liberation Sans, sans-serif" >4</text>
<line x1="549.45" y1="398.1" x2="549.45" y2="394.8" stroke="#2a2a2a" stroke-width="1.1" />
<line x1="549.45" y1="218.4" x2="549.45" y2="215.1" stroke="#2a2a2a" stroke-width="1.1" />
<line x1="585.2" y1="398.1" x2="585.2" y2="393.3" stroke="#2a2a2a" stroke-width="1.1" />
<line x1="585.2" y1="218.4" x2="585.2" y2="213.6" stroke="#2a2a2a" stroke-width="1.1" />
<text x="585.2" y="417" font-size="16" text-anchor="middle" fill="#000" font-family="Liberation Sans, sans-serif" >5</text>
<line x1="620.95" y1="398.1" x2="620.95" y2="394.8" stroke="#2a2a2a" stroke-width="1.1" />
<line x1="620.95" y1="218.4" x2="620.95" y2="215.1" stroke="#2a2a2a" stroke-width="1.1" />
<line x1="656.7" y1="398.1" x2="656.7" y2="393.3" stroke="#2a2a2a" stroke-width="1.1" />
<line x1="656.7" y1="218.4" x2="656.7" y2="213.6" stroke="#2a2a2a" stroke-width="1.1" />
<text x="656.7" y="417" font-size="16" text-anchor="middle" fill="#000" font-family="Liberation Sans, sans-serif" >6</text>
<line x1="692.45" y1="398.1" x2="692.45" y2="394.8" stroke="#2a2a2a" stroke-width="1.1" />
<line x1="692.45" y1="218.4" x2="692.45" y2="215.1" stroke="#2a2a2a" stroke-width="1.1" />
<line x1="728.2" y1="398.1" x2="728.2" y2="393.3" stroke="#2a2a2a" stroke-width="1.1" />
<line x1="728.2" y1="218.4" x2="728.2" y2="213.6" stroke="#2a2a2a" stroke-width="1.1" />
<text x="728.2" y="417" font-size="16" text-anchor="middle" fill="#000" font-family="Liberation Sans, sans-serif" >7</text>
<line x1="474.5" y1="201.875" x2="477.8" y2="201.875" stroke="#2a2a2a" stroke-width="1.1" />
<line x1="474.5" y1="177.5" x2="479.3" y2="177.5" stroke="#2a2a2a" stroke-width="1.1" />
<text x="472" y="184.0" font-size="16" text-anchor="end" fill="#000" font-family="Liberation Sans, sans-serif" >4.5</text>
<line x1="474.5" y1="153.125" x2="477.8" y2="153.125" stroke="#2a2a2a" stroke-width="1.1" />
<line x1="474.5" y1="128.75" x2="479.3" y2="128.75" stroke="#2a2a2a" stroke-width="1.1" />
<text x="472" y="135.25" font-size="16" text-anchor="end" fill="#000" font-family="Liberation Sans, sans-serif" >5</text>
<line x1="474.5" y1="104.375" x2="477.8" y2="104.375" stroke="#2a2a2a" stroke-width="1.1" />
<line x1="474.5" y1="80.0" x2="479.3" y2="80.0" stroke="#2a2a2a" stroke-width="1.1" />
<text x="472" y="86.5" font-size="16" text-anchor="end" fill="#000" font-family="Liberation Sans, sans-serif" >5.5</text>
<line x1="474.5" y1="390.2" x2="477.8" y2="390.2" stroke="#2a2a2a" stroke-width="1.1" />
<line x1="474.5" y1="365.0" x2="479.3" y2="365.0" stroke="#2a2a2a" stroke-width="1.1" />
<text x="471.5" y="371.0" font-size="16" text-anchor="end" fill="#000" font-family="Liberation Sans, sans-serif" >1</text>
<line x1="474.5" y1="339.8" x2="477.8" y2="339.8" stroke="#2a2a2a" stroke-width="1.1" />
<line x1="474.5" y1="314.6" x2="479.3" y2="314.6" stroke="#2a2a2a" stroke-width="1.1" />
<text x="471.5" y="320.6" font-size="16" text-anchor="end" fill="#000" font-family="Liberation Sans, sans-serif" >2</text>
<line x1="474.5" y1="289.4" x2="477.8" y2="289.4" stroke="#2a2a2a" stroke-width="1.1" />
<line x1="474.5" y1="264.2" x2="479.3" y2="264.2" stroke="#2a2a2a" stroke-width="1.1" />
<text x="471.5" y="270.2" font-size="16" text-anchor="end" fill="#000" font-family="Liberation Sans, sans-serif" >3</text>
<line x1="474.5" y1="239.0" x2="477.8" y2="239.0" stroke="#2a2a2a" stroke-width="1.1" />
<text x="610.2" y="438.3" font-size="16.2" text-anchor="middle" fill="#000" font-family="Liberation Sans, sans-serif" >Modulation time <tspan font-style="italic" dx="1.5">τ</tspan><tspan dx="1"> (ms)</tspan></text>
<text x="0" y="0" font-size="16" text-anchor="middle" fill="#000" font-family="Liberation Sans, sans-serif" transform="translate(441.7,133.8) rotate(-90)">Entropy <tspan font-style="italic">S</tspan> (<tspan font-style="italic">k</tspan><tspan font-style="italic" font-size="11" dy="3">B</tspan><tspan dy="-3">)</tspan></text>
<text x="0" y="0" font-size="16" text-anchor="middle" fill="#000" font-family="Liberation Sans, sans-serif" transform="translate(442,300.7) rotate(-90)">Temperature <tspan font-family="Liberation Serif, serif" font-style="italic" dx="1">T</tspan><tspan dx="2"> (</tspan><tspan font-style="italic">μ</tspan>K)</text>
<line x1="639.5" y1="102" x2="639.5" y2="398.1" stroke="#3a3a3a" stroke-width="1.25" stroke-dasharray="5 1.8 1.5 1.8"/>
<text x="637.7" y="391" font-size="17.5" text-anchor="end" fill="#000" font-family="Liberation Sans, sans-serif" ><tspan font-style="italic">τ</tspan><tspan font-style="italic" font-size="12.5" dy="3">c</tspan></text>
<path d="M484.75 222L489.95 235.6L486.5 233L486.5 242.8L483.0 242.8L483.0 233L479.55 235.6Z" fill="#000"/>
<path d="M562 222L567.2 235.6L563.75 233L563.75 242.8L560.25 242.8L560.25 233L556.8 235.6Z" fill="#000"/>
<path d="M604.7 222L609.9000000000001 235.6L606.45 233L606.45 242.8L602.95 242.8L602.95 233L599.5 235.6Z" fill="#000"/>
<path d="M639.4 222L644.6 235.6L641.15 233L641.15 242.8L637.65 242.8L637.65 233L634.1999999999999 235.6Z" fill="#000"/>
<path d="M474.50 213.18L476.78 210.80L479.07 208.50L481.35 206.28L483.63 204.13L485.92 202.05L488.20 200.03L490.48 198.08L492.77 196.19L495.05 194.36L497.33 192.58L499.62 190.86L501.90 189.18L504.18 187.55L506.46 185.96L508.75 184.41L511.03 182.91L513.31 181.44L515.60 180.01L517.88 178.61L520.16 177.24L522.45 175.90L524.73 174.58L527.01 173.30L529.30 172.03L531.58 170.79L533.86 169.57L536.15 168.37L538.43 167.19L540.71 166.03L543.00 164.88L545.28 163.75L547.56 162.63L549.85 161.52L552.13 160.42L554.41 159.34L556.69 158.27L558.98 157.20L561.26 156.14L563.54 155.10L565.83 154.06L568.11 153.02L570.39 151.99L572.68 150.97L574.96 149.96L577.24 148.95L579.53 147.94L581.81 146.94L584.09 145.94L586.38 144.95L588.66 143.96L590.94 142.98L593.23 142.00L595.51 141.02L597.79 140.05L600.08 139.08L602.36 138.11L604.64 137.15L606.93 136.19L609.21 135.23L611.49 134.28L613.77 133.34L616.06 132.40L618.34 131.46L620.62 130.53L622.91 129.60L625.19 128.68L627.47 127.76L629.76 126.85L632.04 125.94L634.32 125.04L636.61 124.15L638.89 123.26L641.17 122.38L643.46 121.51L645.74 120.64L648.02 119.79L650.31 118.94L652.59 118.09L654.87 117.26L657.16 116.43L659.44 115.61L661.72 114.81L664.01 114.01L666.29 113.21L668.57 112.43L670.85 111.66L673.14 110.90L675.42 110.14L677.70 109.40L679.99 108.66L682.27 107.94L684.55 107.22L686.84 106.51L689.12 105.81L691.40 105.12L693.69 104.44L695.97 103.77L698.25 103.10L700.54 102.45L702.82 101.80L705.10 101.15L707.39 100.52L709.67 99.89L711.95 99.27L714.24 98.65L716.52 98.03L718.80 97.42L721.08 96.81L723.37 96.21L725.65 95.60L727.93 95.00L730.22 94.39L732.50 93.79L734.78 93.18L737.07 92.56L739.35 91.94L741.63 91.32L743.92 90.68L746.20 90.04" stroke="#4a4aff" stroke-width="3" fill="none"/>
<path d="M561.75 157.00L562.99 157.74L564.23 158.47L565.47 159.20L566.71 159.93L567.95 160.66L569.19 161.39L570.43 162.10L571.67 162.82L572.91 163.53L574.15 164.23L575.39 164.92L576.63 165.61L577.87 166.29L579.11 166.96L580.35 167.63L581.59 168.28L582.83 168.92L584.07 169.56L585.31 170.18L586.55 170.79L587.79 171.39L589.03 171.97L590.27 172.54L591.51 173.10L592.75 173.65L593.99 174.18L595.23 174.69L596.47 175.19L597.71 175.67L598.95 176.13L600.19 176.58L601.43 177.01L602.67 177.42L603.91 177.82L605.15 178.19L606.39 178.55L607.63 178.89L608.87 179.20L610.11 179.50L611.35 179.78L612.59 180.04L613.83 180.28L615.07 180.51L616.31 180.71L617.55 180.90L618.79 181.07L620.03 181.22L621.27 181.35L622.51 181.47L623.75 181.56L624.99 181.63L626.23 181.68L627.47 181.69L628.71 181.66L629.95 181.60L631.19 181.50L632.43 181.36L633.67 181.18L634.91 180.97L636.15 180.72L637.39 180.45L638.63 180.16L639.87 179.84L641.11 179.50L642.35 179.14L643.59 178.76L644.83 178.36L646.07 177.95L647.31 177.51L648.55 177.05L649.79 176.58L651.03 176.08L652.27 175.57L653.51 175.04L654.74 174.49L655.98 173.92L657.22 173.34L658.46 172.74L659.70 172.13L660.94 171.51L662.18 170.89L663.42 170.26L664.66 169.63L665.90 169.00L667.14 168.38L668.38 167.77L669.62 167.16L670.86 166.58L672.10 166.01L673.34 165.46L674.58 164.93L675.82 164.43L677.06 163.94L678.30 163.48L679.54 163.03L680.78 162.59L682.02 162.17L683.26 161.77L684.50 161.37L685.74 160.99L686.98 160.61L688.22 160.24L689.46 159.87L690.70 159.51L691.94 159.16L693.18 158.80L694.42 158.44L695.66 158.09L696.90 157.73L698.14 157.37L699.38 157.01L700.62 156.64L701.86 156.27L703.10 155.90L704.34 155.51L705.58 155.12L706.82 154.72L708.06 154.31L709.30 153.90L710.54 153.47L711.78 153.04L713.02 152.61L714.26 152.18L715.50 151.74L716.74 151.31L717.98 150.89L719.22 150.47L720.46 150.06L721.70 149.66L722.94 149.27L724.18 148.89L725.42 148.54L726.66 148.19L727.90 147.87L729.14 147.55L730.38 147.24L731.62 146.94L732.86 146.65L734.10 146.36L735.34 146.07L736.58 145.79L737.82 145.50L739.06 145.21L740.30 144.92L741.54 144.61L742.78 144.30L744.02 143.98L745.26 143.65L746.50 143.30" stroke="#ff5050" stroke-width="3" fill="none"/>
<path d="M474.50 384.66L476.78 383.64L479.06 382.61L481.34 381.56L483.63 380.51L485.91 379.44L488.19 378.36L490.47 377.27L492.75 376.17L495.03 375.06L497.32 373.94L499.60 372.81L501.88 371.67L504.16 370.52L506.44 369.36L508.72 368.19L511.00 367.01L513.29 365.82L515.57 364.63L517.85 363.43L520.13 362.22L522.41 361.00L524.69 359.78L526.97 358.55L529.26 357.31L531.54 356.07L533.82 354.82L536.10 353.57L538.38 352.31L540.66 351.04L542.95 349.78L545.23 348.50L547.51 347.22L549.79 345.94L552.07 344.66L554.35 343.37L556.63 342.08L558.92 340.78L561.20 339.49L563.48 338.19L565.76 336.89L568.04 335.59L570.32 334.28L572.61 332.98L574.89 331.67L577.17 330.37L579.45 329.06L581.73 327.75L584.01 326.45L586.29 325.14L588.58 323.84L590.86 322.53L593.14 321.23L595.42 319.93L597.70 318.63L599.98 317.34L602.26 316.04L604.55 314.75L606.83 313.47L609.11 312.18L611.39 310.90L613.67 309.63L615.95 308.35L618.24 307.09L620.52 305.82L622.80 304.57L625.08 303.31L627.36 302.07L629.64 300.83L631.92 299.59L634.21 298.37L636.49 297.14L638.77 295.93L641.05 294.72L643.33 293.52L645.61 292.33L647.89 291.15L650.18 289.98L652.46 288.81L654.74 287.65L657.02 286.51L659.30 285.37L661.58 284.24L663.87 283.12L666.15 282.01L668.43 280.92L670.71 279.83L672.99 278.76L675.27 277.69L677.55 276.64L679.84 275.60L682.12 274.58L684.40 273.56L686.68 272.56L688.96 271.57L691.24 270.60L693.53 269.64L695.81 268.69L698.09 267.76L700.37 266.84L702.65 265.94L704.93 265.05L707.21 264.18L709.50 263.32L711.78 262.48L714.06 261.66L716.34 260.85L718.62 260.06L720.90 259.28L723.18 258.53L725.47 257.79L727.75 257.07L730.03 256.37L732.31 255.68L734.59 255.02L736.87 254.37L739.16 253.75L741.44 253.14L743.72 252.55L746.00 251.99" stroke="#4a4aff" stroke-width="3" fill="none"/>
<path d="M570.60 341.80L571.78 343.10L572.95 344.32L574.13 345.47L575.31 346.56L576.49 347.58L577.66 348.53L578.84 349.43L580.02 350.28L581.19 351.09L582.37 351.85L583.55 352.57L584.73 353.25L585.90 353.90L587.08 354.53L588.26 355.13L589.43 355.71L590.61 356.28L591.79 356.82L592.97 357.34L594.14 357.84L595.32 358.32L596.50 358.77L597.68 359.21L598.85 359.62L600.03 360.02L601.21 360.39L602.38 360.73L603.56 361.06L604.74 361.36L605.92 361.64L607.09 361.90L608.27 362.13L609.45 362.35L610.62 362.55L611.80 362.73L612.98 362.89L614.16 363.04L615.33 363.17L616.51 363.29L617.69 363.40L618.86 363.49L620.04 363.58L621.22 363.65L622.40 363.72L623.57 363.77L624.75 363.82L625.93 363.86L627.10 363.89L628.28 363.90L629.46 363.90L630.64 363.88L631.81 363.85L632.99 363.80L634.17 363.73L635.34 363.64L636.52 363.53L637.70 363.40L638.88 363.25L640.05 363.07L641.23 362.86L642.41 362.64L643.59 362.40L644.76 362.14L645.94 361.86L647.12 361.58L648.29 361.28L649.47 360.98L650.65 360.67L651.83 360.35L653.00 360.04L654.18 359.73L655.36 359.42L656.53 359.12L657.71 358.82L658.89 358.53L660.07 358.25L661.24 357.97L662.42 357.69L663.60 357.41L664.77 357.14L665.95 356.85L667.13 356.57L668.31 356.28L669.48 355.98L670.66 355.68L671.84 355.36L673.01 355.04L674.19 354.70L675.37 354.35L676.55 353.98L677.72 353.61L678.90 353.23L680.08 352.84L681.26 352.45L682.43 352.05L683.61 351.65L684.79 351.25L685.96 350.85L687.14 350.45L688.32 350.05L689.50 349.66L690.67 349.27L691.85 348.90L693.03 348.52L694.20 348.16L695.38 347.80L696.56 347.44L697.74 347.09L698.91 346.74L700.09 346.39L701.27 346.04L702.44 345.69L703.62 345.34L704.80 344.98L705.98 344.63L707.15 344.26L708.33 343.90L709.51 343.52L710.68 343.14L711.86 342.76L713.04 342.38L714.22 341.99L715.39 341.60L716.57 341.21L717.75 340.82L718.92 340.43L720.10 340.04L721.28 339.65L722.46 339.27L723.63 338.89L724.81 338.52L725.99 338.16L727.17 337.80L728.34 337.44L729.52 337.09L730.70 336.74L731.87 336.40L733.05 336.06L734.23 335.72L735.41 335.38L736.58 335.05L737.76 334.71L738.94 334.37L740.11 334.03L741.29 333.69L742.47 333.35L743.65 333.00L744.82 332.65L746.00 332.30" stroke="#ff5050" stroke-width="3" fill="none"/>
<line x1="484.90" y1="195.50" x2="484.90" y2="209.50" stroke="#0000ff" stroke-width="2.3"/>
<circle cx="484.90" cy="202.50" r="3.2" fill="#0000ff"/>
<line x1="536.40" y1="164.40" x2="536.40" y2="184.80" stroke="#0000ff" stroke-width="2.3"/>
<circle cx="536.40" cy="174.60" r="3.2" fill="#0000ff"/>
<line x1="553.50" y1="154.70" x2="553.50" y2="174.30" stroke="#0000ff" stroke-width="2.3"/>
<circle cx="553.50" cy="164.50" r="3.2" fill="#0000ff"/>
<line x1="570.40" y1="140.50" x2="570.40" y2="163.50" stroke="#0000ff" stroke-width="2.3"/>
<circle cx="570.40" cy="152.00" r="3.2" fill="#0000ff"/>
<line x1="587.80" y1="128.50" x2="587.80" y2="155.50" stroke="#0000ff" stroke-width="2.3"/>
<circle cx="587.80" cy="142.00" r="3.2" fill="#0000ff"/>
<line x1="604.90" y1="132.00" x2="604.90" y2="150.00" stroke="#0000ff" stroke-width="2.3"/>
<circle cx="604.90" cy="141.00" r="3.2" fill="#0000ff"/>
<line x1="622.10" y1="117.50" x2="622.10" y2="140.10" stroke="#0000ff" stroke-width="2.3"/>
<circle cx="622.10" cy="128.80" r="3.2" fill="#0000ff"/>
<line x1="639.30" y1="111.20" x2="639.30" y2="134.80" stroke="#0000ff" stroke-width="2.3"/>
<circle cx="639.30" cy="123.00" r="3.2" fill="#0000ff"/>
<line x1="656.40" y1="98.70" x2="656.40" y2="121.30" stroke="#0000ff" stroke-width="2.3"/>
<circle cx="656.40" cy="110.00" r="3.2" fill="#0000ff"/>
<line x1="673.50" y1="100.60" x2="673.50" y2="122.60" stroke="#0000ff" stroke-width="2.3"/>
<circle cx="673.50" cy="111.60" r="3.2" fill="#0000ff"/>
<line x1="690.90" y1="103.70" x2="690.90" y2="120.70" stroke="#0000ff" stroke-width="2.3"/>
<circle cx="690.90" cy="112.20" r="3.2" fill="#0000ff"/>
<line x1="708.00" y1="90.50" x2="708.00" y2="109.50" stroke="#0000ff" stroke-width="2.3"/>
<circle cx="708.00" cy="100.00" r="3.2" fill="#0000ff"/>
<line x1="725.20" y1="90.60" x2="725.20" y2="111.40" stroke="#0000ff" stroke-width="2.3"/>
<circle cx="725.20" cy="101.00" r="3.2" fill="#0000ff"/>
<line x1="742.30" y1="82.80" x2="742.30" y2="104.20" stroke="#0000ff" stroke-width="2.3"/>
<circle cx="742.30" cy="93.50" r="3.2" fill="#0000ff"/>
<line x1="561.90" y1="147.60" x2="561.90" y2="166.40" stroke="#ff0000" stroke-width="2.3"/>
<circle cx="561.90" cy="157.00" r="3.2" fill="#ff0000"/>
<line x1="570.60" y1="153.70" x2="570.60" y2="167.30" stroke="#ff0000" stroke-width="2.3"/>
<circle cx="570.60" cy="160.50" r="3.2" fill="#ff0000"/>
<line x1="587.80" y1="163.50" x2="587.80" y2="180.90" stroke="#ff0000" stroke-width="2.3"/>
<circle cx="587.80" cy="172.20" r="3.2" fill="#ff0000"/>
<line x1="604.90" y1="176.20" x2="604.90" y2="189.80" stroke="#ff0000" stroke-width="2.3"/>
<circle cx="604.90" cy="183.00" r="3.2" fill="#ff0000"/>
<line x1="622.10" y1="174.40" x2="622.10" y2="188.00" stroke="#ff0000" stroke-width="2.3"/>
<circle cx="622.10" cy="181.20" r="3.2" fill="#ff0000"/>
<line x1="639.30" y1="171.50" x2="639.30" y2="187.30" stroke="#ff0000" stroke-width="2.3"/>
<circle cx="639.30" cy="179.40" r="3.2" fill="#ff0000"/>
<line x1="656.40" y1="166.50" x2="656.40" y2="182.50" stroke="#ff0000" stroke-width="2.3"/>
<circle cx="656.40" cy="174.50" r="3.2" fill="#ff0000"/>
<line x1="673.50" y1="157.00" x2="673.50" y2="175.00" stroke="#ff0000" stroke-width="2.3"/>
<circle cx="673.50" cy="166.00" r="3.2" fill="#ff0000"/>
<line x1="690.90" y1="152.00" x2="690.90" y2="170.00" stroke="#ff0000" stroke-width="2.3"/>
<circle cx="690.90" cy="161.00" r="3.2" fill="#ff0000"/>
<line x1="708.00" y1="146.80" x2="708.00" y2="164.80" stroke="#ff0000" stroke-width="2.3"/>
<circle cx="708.00" cy="155.80" r="3.2" fill="#ff0000"/>
<line x1="725.20" y1="140.50" x2="725.20" y2="158.50" stroke="#ff0000" stroke-width="2.3"/>
<circle cx="725.20" cy="149.50" r="3.2" fill="#ff0000"/>
<line x1="742.30" y1="139.40" x2="742.30" y2="158.60" stroke="#ff0000" stroke-width="2.3"/>
<circle cx="742.30" cy="149.00" r="3.2" fill="#ff0000"/>
<line x1="484.90" y1="374.80" x2="484.90" y2="384.20" stroke="#0000ff" stroke-width="2.3"/>
<circle cx="484.90" cy="379.50" r="3.2" fill="#0000ff"/>
<line x1="536.40" y1="347.90" x2="536.40" y2="362.70" stroke="#0000ff" stroke-width="2.3"/>
<circle cx="536.40" cy="355.30" r="3.2" fill="#0000ff"/>
<line x1="553.50" y1="338.30" x2="553.50" y2="351.90" stroke="#0000ff" stroke-width="2.3"/>
<circle cx="553.50" cy="345.10" r="3.2" fill="#0000ff"/>
<line x1="561.90" y1="335.50" x2="561.90" y2="346.70" stroke="#0000ff" stroke-width="2.3"/>
<circle cx="561.90" cy="341.10" r="3.2" fill="#0000ff"/>
<line x1="570.60" y1="330.50" x2="570.60" y2="343.30" stroke="#0000ff" stroke-width="2.3"/>
<circle cx="570.60" cy="336.90" r="3.2" fill="#0000ff"/>
<line x1="587.80" y1="309.40" x2="587.80" y2="331.40" stroke="#0000ff" stroke-width="2.3"/>
<circle cx="587.80" cy="320.40" r="3.2" fill="#0000ff"/>
<line x1="604.90" y1="317.00" x2="604.90" y2="330.60" stroke="#0000ff" stroke-width="2.3"/>
<circle cx="604.90" cy="323.80" r="3.2" fill="#0000ff"/>
<line x1="622.10" y1="295.20" x2="622.10" y2="313.20" stroke="#0000ff" stroke-width="2.3"/>
<circle cx="622.10" cy="304.20" r="3.2" fill="#0000ff"/>
<line x1="639.30" y1="288.10" x2="639.30" y2="306.70" stroke="#0000ff" stroke-width="2.3"/>
<circle cx="639.30" cy="297.40" r="3.2" fill="#0000ff"/>
<line x1="656.40" y1="267.50" x2="656.40" y2="285.90" stroke="#0000ff" stroke-width="2.3"/>
<circle cx="656.40" cy="276.70" r="3.2" fill="#0000ff"/>
<line x1="673.50" y1="267.30" x2="673.50" y2="285.30" stroke="#0000ff" stroke-width="2.3"/>
<circle cx="673.50" cy="276.30" r="3.2" fill="#0000ff"/>
<line x1="690.90" y1="274.50" x2="690.90" y2="287.10" stroke="#0000ff" stroke-width="2.3"/>
<circle cx="690.90" cy="280.80" r="3.2" fill="#0000ff"/>
<line x1="708.00" y1="260.00" x2="708.00" y2="275.40" stroke="#0000ff" stroke-width="2.3"/>
<circle cx="708.00" cy="267.70" r="3.2" fill="#0000ff"/>
<line x1="725.20" y1="252.60" x2="725.20" y2="270.60" stroke="#0000ff" stroke-width="2.3"/>
<circle cx="725.20" cy="261.60" r="3.2" fill="#0000ff"/>
<line x1="742.30" y1="238.40" x2="742.30" y2="257.60" stroke="#0000ff" stroke-width="2.3"/>
<circle cx="742.30" cy="248.00" r="3.2" fill="#0000ff"/>
<line x1="570.60" y1="336.10" x2="570.60" y2="345.10" stroke="#ff0000" stroke-width="2.3"/>
<circle cx="570.60" cy="340.60" r="3.2" fill="#ff0000"/>
<line x1="587.80" y1="345.90" x2="587.80" y2="358.90" stroke="#ff0000" stroke-width="2.3"/>
<circle cx="587.80" cy="352.40" r="3.2" fill="#ff0000"/>
<line x1="604.90" y1="361.20" x2="604.90" y2="368.40" stroke="#ff0000" stroke-width="2.3"/>
<circle cx="604.90" cy="364.80" r="3.2" fill="#ff0000"/>
<line x1="622.10" y1="361.20" x2="622.10" y2="368.40" stroke="#ff0000" stroke-width="2.3"/>
<circle cx="622.10" cy="364.80" r="3.2" fill="#ff0000"/>
<line x1="639.30" y1="359.00" x2="639.30" y2="369.60" stroke="#ff0000" stroke-width="2.3"/>
<circle cx="639.30" cy="364.30" r="3.2" fill="#ff0000"/>
<line x1="656.40" y1="352.50" x2="656.40" y2="363.10" stroke="#ff0000" stroke-width="2.3"/>
<circle cx="656.40" cy="357.80" r="3.2" fill="#ff0000"/>
<line x1="673.50" y1="349.20" x2="673.50" y2="359.20" stroke="#ff0000" stroke-width="2.3"/>
<circle cx="673.50" cy="354.20" r="3.2" fill="#ff0000"/>
<line x1="690.90" y1="343.50" x2="690.90" y2="353.50" stroke="#ff0000" stroke-width="2.3"/>
<circle cx="690.90" cy="348.50" r="3.2" fill="#ff0000"/>
<line x1="708.00" y1="340.30" x2="708.00" y2="350.90" stroke="#ff0000" stroke-width="2.3"/>
<circle cx="708.00" cy="345.60" r="3.2" fill="#ff0000"/>
<line x1="725.20" y1="333.50" x2="725.20" y2="344.10" stroke="#ff0000" stroke-width="2.3"/>
<circle cx="725.20" cy="338.80" r="3.2" fill="#ff0000"/>
<line x1="742.30" y1="327.40" x2="742.30" y2="339.40" stroke="#ff0000" stroke-width="2.3"/>
<circle cx="742.30" cy="333.40" r="3.2" fill="#ff0000"/>
<rect x="481" y="4" width="173" height="96" fill="#fff"/>
<rect x="486.3" y="11.5" width="114.99999999999994" height="71.5" fill="#fff" stroke="#2a2a2a" stroke-width="1"/>
<line x1="496.75" y1="83.0" x2="496.75" y2="80.0" stroke="#2a2a2a" stroke-width="1" />
<text x="496.75" y="99.8" font-size="14.2" text-anchor="middle" fill="#000" font-family="Liberation Sans, sans-serif" >0</text>
<line x1="520.875" y1="83.0" x2="520.875" y2="81.0" stroke="#2a2a2a" stroke-width="1" />
<line x1="545.0" y1="83.0" x2="545.0" y2="80.0" stroke="#2a2a2a" stroke-width="1" />
<text x="545.0" y="99.8" font-size="14.2" text-anchor="middle" fill="#000" font-family="Liberation Sans, sans-serif" >100</text>
<line x1="569.125" y1="83.0" x2="569.125" y2="81.0" stroke="#2a2a2a" stroke-width="1" />
<line x1="593.25" y1="83.0" x2="593.25" y2="80.0" stroke="#2a2a2a" stroke-width="1" />
<text x="593.25" y="99.8" font-size="14.2" text-anchor="middle" fill="#000" font-family="Liberation Sans, sans-serif" >200</text>
<line x1="601.3" y1="24.25" x2="598.3" y2="24.25" stroke="#2a2a2a" stroke-width="1" />
<text x="604.0" y="29.05" font-size="14.4" text-anchor="start" fill="#000" font-family="Liberation Sans, sans-serif" >10<tspan font-size="10.2" dy="-5.5">−2</tspan></text>
<line x1="601.3" y1="52.125" x2="598.3" y2="52.125" stroke="#2a2a2a" stroke-width="1" />
<text x="604.0" y="56.925" font-size="14.4" text-anchor="start" fill="#000" font-family="Liberation Sans, sans-serif" >10<tspan font-size="10.2" dy="-5.5">−3</tspan></text>
<line x1="601.3" y1="80.0" x2="598.3" y2="80.0" stroke="#2a2a2a" stroke-width="1" />
<text x="604.0" y="84.8" font-size="14.4" text-anchor="start" fill="#000" font-family="Liberation Sans, sans-serif" >10<tspan font-size="10.2" dy="-5.5">−4</tspan></text>
<text x="543.2" y="119.7" font-size="13" text-anchor="middle" fill="#000" font-family="Liberation Serif, serif" font-style="italic">n</text>
<text x="0" y="0" font-size="15.5" text-anchor="middle" fill="#000" font-family="Liberation Serif, serif" font-style="italic" transform="translate(642.3,48.3) rotate(90)">P</text>
<clipPath id="cj"><rect x="486.3" y="11.5" width="114.99999999999994" height="71.5"/></clipPath>
<g clip-path="url(#cj)">
<path d="M486.40 71.00L487.71 61.29L489.02 53.13L490.33 46.90L491.65 41.63L492.96 37.38L494.27 34.27L495.58 31.77L496.89 29.67L498.20 27.88L499.51 26.30L500.83 24.82L502.14 23.41L503.45 22.15L504.76 21.10L506.07 20.34L507.38 19.83L508.69 19.38L510.01 19.05L511.32 18.90L512.63 19.09L513.94 19.69L515.25 20.52L516.56 21.40L517.87 22.16L519.18 22.87L520.50 23.58L521.81 24.32L523.12 25.11L524.43 25.95L525.74 26.88L527.05 27.97L528.36 29.25L529.68 30.67L530.99 32.13L532.30 33.55L533.61 34.88L534.92 36.02L536.23 37.05L537.54 38.00L538.86 38.90L540.17 39.80L541.48 40.72L542.79 41.69L544.10 42.75L545.41 43.94L546.72 45.28L548.04 46.72L549.35 48.22L550.66 49.75L551.97 51.25L553.28 52.68L554.59 54.00L555.90 55.20L557.22 56.33L558.53 57.41L559.84 58.47L561.15 59.51L562.46 60.58L563.77 61.69L565.08 62.86L566.39 64.10L567.71 65.38L569.02 66.70L570.33 68.03L571.64 69.37L572.95 70.69L574.26 71.99L575.57 73.24L576.89 74.46L578.20 75.66L579.51 76.84L580.82 78.02L582.13 79.21L583.44 80.42L584.75 81.67L586.07 82.95L587.38 84.27L588.69 85.63L590.00 87.00" stroke="#ff5050" stroke-width="2" fill="none"/>
<path d="M486.40 76.00L487.86 64.26L489.33 54.97L490.79 48.32L492.25 42.96L493.72 38.86L495.18 35.57L496.64 32.73L498.11 30.42L499.57 28.73L501.03 27.49L502.50 26.46L503.96 25.60L505.42 24.90L506.89 24.31L508.35 23.74L509.81 23.21L511.28 22.78L512.74 22.49L514.20 22.40L515.67 22.60L517.13 23.04L518.59 23.61L520.06 24.21L521.52 24.78L522.98 25.40L524.45 26.07L525.91 26.79L527.37 27.53L528.84 28.27L530.30 29.00L531.76 29.76L533.23 30.53L534.69 31.31L536.15 32.09L537.62 32.86L539.08 33.61L540.54 34.35L542.01 35.09L543.47 35.83L544.93 36.57L546.39 37.30L547.86 38.02L549.32 38.72L550.78 39.43L552.25 40.14L553.71 40.88L555.17 41.66L556.64 42.47L558.10 43.31L559.56 44.17L561.03 45.05L562.49 45.93L563.95 46.80L565.42 47.66L566.88 48.52L568.34 49.38L569.81 50.25L571.27 51.11L572.73 51.97L574.20 52.83L575.66 53.69L577.12 54.57L578.59 55.46L580.05 56.34L581.51 57.21L582.98 58.05L584.44 58.85L585.90 59.61L587.37 60.32L588.83 61.00L590.29 61.66L591.76 62.31L593.22 62.96L594.68 63.62L596.15 64.29L597.61 64.97L599.07 65.64L600.54 66.32L602.00 67.00" stroke="#4a4aff" stroke-width="2" fill="none"/>
<line x1="487.1" y1="69.5" x2="487.1" y2="70.3" stroke="#0000ff" stroke-width="1.1"/><circle cx="487.1" cy="69.9" r="1.75" fill="#0000ff"/>
<line x1="489.5" y1="53.7" x2="489.5" y2="54.5" stroke="#0000ff" stroke-width="1.1"/><circle cx="489.5" cy="54.1" r="1.75" fill="#0000ff"/>
<line x1="491.9" y1="43.3" x2="491.9" y2="44.1" stroke="#0000ff" stroke-width="1.1"/><circle cx="491.9" cy="43.7" r="1.75" fill="#0000ff"/>
<line x1="494.3" y1="37.0" x2="494.3" y2="37.8" stroke="#0000ff" stroke-width="1.1"/><circle cx="494.3" cy="37.4" r="1.75" fill="#0000ff"/>
<line x1="496.8" y1="31.8" x2="496.8" y2="32.6" stroke="#0000ff" stroke-width="1.1"/><circle cx="496.8" cy="32.2" r="1.75" fill="#0000ff"/>
<line x1="499.2" y1="28.4" x2="499.2" y2="29.2" stroke="#0000ff" stroke-width="1.1"/><circle cx="499.2" cy="28.8" r="1.75" fill="#0000ff"/>
<line x1="501.6" y1="27.1" x2="501.6" y2="27.9" stroke="#0000ff" stroke-width="1.1"/><circle cx="501.6" cy="27.5" r="1.75" fill="#0000ff"/>
<line x1="504.0" y1="25.4" x2="504.0" y2="26.2" stroke="#0000ff" stroke-width="1.1"/><circle cx="504.0" cy="25.8" r="1.75" fill="#0000ff"/>
<line x1="506.4" y1="24.7" x2="506.4" y2="25.5" stroke="#0000ff" stroke-width="1.1"/><circle cx="506.4" cy="25.1" r="1.75" fill="#0000ff"/>
<line x1="508.8" y1="23.1" x2="508.8" y2="23.9" stroke="#0000ff" stroke-width="1.1"/><circle cx="508.8" cy="23.5" r="1.75" fill="#0000ff"/>
<line x1="511.2" y1="22.4" x2="511.2" y2="23.2" stroke="#0000ff" stroke-width="1.1"/><circle cx="511.2" cy="22.8" r="1.75" fill="#0000ff"/>
<line x1="513.6" y1="22.0" x2="513.6" y2="22.8" stroke="#0000ff" stroke-width="1.1"/><circle cx="513.6" cy="22.4" r="1.75" fill="#0000ff"/>
<line x1="516.0" y1="22.4" x2="516.0" y2="23.2" stroke="#0000ff" stroke-width="1.1"/><circle cx="516.0" cy="22.8" r="1.75" fill="#0000ff"/>
<line x1="518.5" y1="23.3" x2="518.5" y2="24.1" stroke="#0000ff" stroke-width="1.1"/><circle cx="518.5" cy="23.7" r="1.75" fill="#0000ff"/>
<line x1="520.9" y1="23.7" x2="520.9" y2="24.5" stroke="#0000ff" stroke-width="1.1"/><circle cx="520.9" cy="24.1" r="1.75" fill="#0000ff"/>
<line x1="523.3" y1="25.3" x2="523.3" y2="26.1" stroke="#0000ff" stroke-width="1.1"/><circle cx="523.3" cy="25.7" r="1.75" fill="#0000ff"/>
<line x1="525.7" y1="25.9" x2="525.7" y2="26.7" stroke="#0000ff" stroke-width="1.1"/><circle cx="525.7" cy="26.3" r="1.75" fill="#0000ff"/>
<line x1="528.1" y1="27.5" x2="528.1" y2="28.3" stroke="#0000ff" stroke-width="1.1"/><circle cx="528.1" cy="27.9" r="1.75" fill="#0000ff"/>
<line x1="530.5" y1="29.5" x2="530.5" y2="30.3" stroke="#0000ff" stroke-width="1.1"/><circle cx="530.5" cy="29.9" r="1.75" fill="#0000ff"/>
<line x1="532.9" y1="30.0" x2="532.9" y2="30.8" stroke="#0000ff" stroke-width="1.1"/><circle cx="532.9" cy="30.4" r="1.75" fill="#0000ff"/>
<line x1="535.4" y1="31.2" x2="535.4" y2="32.0" stroke="#0000ff" stroke-width="1.1"/><circle cx="535.4" cy="31.6" r="1.75" fill="#0000ff"/>
<line x1="537.8" y1="32.7" x2="537.8" y2="33.7" stroke="#0000ff" stroke-width="1.1"/><circle cx="537.8" cy="33.2" r="1.75" fill="#0000ff"/>
<line x1="540.2" y1="33.3" x2="540.2" y2="35.1" stroke="#0000ff" stroke-width="1.1"/><circle cx="540.2" cy="34.2" r="1.75" fill="#0000ff"/>
<line x1="542.6" y1="33.8" x2="542.6" y2="35.7" stroke="#0000ff" stroke-width="1.1"/><circle cx="542.6" cy="34.8" r="1.75" fill="#0000ff"/>
<line x1="545.0" y1="37.2" x2="545.0" y2="38.9" stroke="#0000ff" stroke-width="1.1"/><circle cx="545.0" cy="38.0" r="1.75" fill="#0000ff"/>
<line x1="547.4" y1="36.2" x2="547.4" y2="38.5" stroke="#0000ff" stroke-width="1.1"/><circle cx="547.4" cy="37.4" r="1.75" fill="#0000ff"/>
<line x1="549.8" y1="38.0" x2="549.8" y2="41.8" stroke="#0000ff" stroke-width="1.1"/><circle cx="549.8" cy="39.9" r="1.75" fill="#0000ff"/>
<line x1="552.2" y1="37.9" x2="552.2" y2="41.1" stroke="#0000ff" stroke-width="1.1"/><circle cx="552.2" cy="39.5" r="1.75" fill="#0000ff"/>
<line x1="554.6" y1="40.7" x2="554.6" y2="45.1" stroke="#0000ff" stroke-width="1.1"/><circle cx="554.6" cy="42.9" r="1.75" fill="#0000ff"/>
<line x1="557.1" y1="41.8" x2="557.1" y2="45.3" stroke="#0000ff" stroke-width="1.1"/><circle cx="557.1" cy="43.6" r="1.75" fill="#0000ff"/>
<line x1="559.5" y1="42.3" x2="559.5" y2="48.2" stroke="#0000ff" stroke-width="1.1"/><circle cx="559.5" cy="45.3" r="1.75" fill="#0000ff"/>
<line x1="561.9" y1="43.5" x2="561.9" y2="49.1" stroke="#0000ff" stroke-width="1.1"/><circle cx="561.9" cy="46.3" r="1.75" fill="#0000ff"/>
<line x1="564.3" y1="46.1" x2="564.3" y2="49.9" stroke="#0000ff" stroke-width="1.1"/><circle cx="564.3" cy="48.0" r="1.75" fill="#0000ff"/>
<line x1="566.7" y1="47.4" x2="566.7" y2="51.3" stroke="#0000ff" stroke-width="1.1"/><circle cx="566.7" cy="49.4" r="1.75" fill="#0000ff"/>
<line x1="569.1" y1="47.1" x2="569.1" y2="53.3" stroke="#0000ff" stroke-width="1.1"/><circle cx="569.1" cy="50.2" r="1.75" fill="#0000ff"/>
<line x1="571.5" y1="47.0" x2="571.5" y2="53.0" stroke="#0000ff" stroke-width="1.1"/><circle cx="571.5" cy="50.0" r="1.75" fill="#0000ff"/>
<line x1="574.0" y1="51.5" x2="574.0" y2="56.4" stroke="#0000ff" stroke-width="1.1"/><circle cx="574.0" cy="54.0" r="1.75" fill="#0000ff"/>
<line x1="576.4" y1="53.8" x2="576.4" y2="61.5" stroke="#0000ff" stroke-width="1.1"/><circle cx="576.4" cy="57.6" r="1.75" fill="#0000ff"/>
<line x1="578.8" y1="54.5" x2="578.8" y2="60.4" stroke="#0000ff" stroke-width="1.1"/><circle cx="578.8" cy="57.5" r="1.75" fill="#0000ff"/>
<line x1="581.2" y1="55.6" x2="581.2" y2="62.0" stroke="#0000ff" stroke-width="1.1"/><circle cx="581.2" cy="58.8" r="1.75" fill="#0000ff"/>
<line x1="583.6" y1="59.7" x2="583.6" y2="66.6" stroke="#0000ff" stroke-width="1.1"/><circle cx="583.6" cy="63.2" r="1.75" fill="#0000ff"/>
<line x1="586.0" y1="53.3" x2="586.0" y2="64.1" stroke="#0000ff" stroke-width="1.1"/><circle cx="586.0" cy="58.7" r="1.75" fill="#0000ff"/>
<line x1="588.4" y1="56.0" x2="588.4" y2="67.1" stroke="#0000ff" stroke-width="1.1"/><circle cx="588.4" cy="61.5" r="1.75" fill="#0000ff"/>
<line x1="590.8" y1="59.8" x2="590.8" y2="69.9" stroke="#0000ff" stroke-width="1.1"/><circle cx="590.8" cy="64.9" r="1.75" fill="#0000ff"/>
<line x1="593.2" y1="66.9" x2="593.2" y2="74.4" stroke="#0000ff" stroke-width="1.1"/><circle cx="593.2" cy="70.7" r="1.75" fill="#0000ff"/>
<line x1="595.7" y1="65.8" x2="595.7" y2="74.0" stroke="#0000ff" stroke-width="1.1"/><circle cx="595.7" cy="69.9" r="1.75" fill="#0000ff"/>
<line x1="598.1" y1="61.3" x2="598.1" y2="70.0" stroke="#0000ff" stroke-width="1.1"/><circle cx="598.1" cy="65.6" r="1.75" fill="#0000ff"/>
<line x1="600.5" y1="59.5" x2="600.5" y2="66.8" stroke="#0000ff" stroke-width="1.1"/><circle cx="600.5" cy="63.2" r="1.75" fill="#0000ff"/>
<line x1="487.1" y1="65.6" x2="487.1" y2="66.4" stroke="#ff0000" stroke-width="1.1"/><circle cx="487.1" cy="66.0" r="1.75" fill="#ff0000"/>
<line x1="489.5" y1="50.4" x2="489.5" y2="51.2" stroke="#ff0000" stroke-width="1.1"/><circle cx="489.5" cy="50.8" r="1.75" fill="#ff0000"/>
<line x1="491.9" y1="40.0" x2="491.9" y2="40.8" stroke="#ff0000" stroke-width="1.1"/><circle cx="491.9" cy="40.4" r="1.75" fill="#ff0000"/>
<line x1="494.3" y1="33.9" x2="494.3" y2="34.7" stroke="#ff0000" stroke-width="1.1"/><circle cx="494.3" cy="34.3" r="1.75" fill="#ff0000"/>
<line x1="496.8" y1="29.0" x2="496.8" y2="29.8" stroke="#ff0000" stroke-width="1.1"/><circle cx="496.8" cy="29.4" r="1.75" fill="#ff0000"/>
<line x1="499.2" y1="26.1" x2="499.2" y2="26.9" stroke="#ff0000" stroke-width="1.1"/><circle cx="499.2" cy="26.5" r="1.75" fill="#ff0000"/>
<line x1="501.6" y1="24.0" x2="501.6" y2="24.8" stroke="#ff0000" stroke-width="1.1"/><circle cx="501.6" cy="24.4" r="1.75" fill="#ff0000"/>
<line x1="504.0" y1="21.0" x2="504.0" y2="21.8" stroke="#ff0000" stroke-width="1.1"/><circle cx="504.0" cy="21.4" r="1.75" fill="#ff0000"/>
<line x1="506.4" y1="19.8" x2="506.4" y2="20.6" stroke="#ff0000" stroke-width="1.1"/><circle cx="506.4" cy="20.2" r="1.75" fill="#ff0000"/>
<line x1="508.8" y1="18.4" x2="508.8" y2="19.2" stroke="#ff0000" stroke-width="1.1"/><circle cx="508.8" cy="18.8" r="1.75" fill="#ff0000"/>
<line x1="511.2" y1="18.8" x2="511.2" y2="19.6" stroke="#ff0000" stroke-width="1.1"/><circle cx="511.2" cy="19.2" r="1.75" fill="#ff0000"/>
<line x1="513.6" y1="18.9" x2="513.6" y2="19.7" stroke="#ff0000" stroke-width="1.1"/><circle cx="513.6" cy="19.3" r="1.75" fill="#ff0000"/>
<line x1="516.0" y1="21.3" x2="516.0" y2="22.1" stroke="#ff0000" stroke-width="1.1"/><circle cx="516.0" cy="21.7" r="1.75" fill="#ff0000"/>
<line x1="518.5" y1="22.2" x2="518.5" y2="23.0" stroke="#ff0000" stroke-width="1.1"/><circle cx="518.5" cy="22.6" r="1.75" fill="#ff0000"/>
<line x1="520.9" y1="23.4" x2="520.9" y2="24.2" stroke="#ff0000" stroke-width="1.1"/><circle cx="520.9" cy="23.8" r="1.75" fill="#ff0000"/>
<line x1="523.3" y1="25.3" x2="523.3" y2="26.1" stroke="#ff0000" stroke-width="1.1"/><circle cx="523.3" cy="25.7" r="1.75" fill="#ff0000"/>
<line x1="525.7" y1="26.6" x2="525.7" y2="27.4" stroke="#ff0000" stroke-width="1.1"/><circle cx="525.7" cy="27.0" r="1.75" fill="#ff0000"/>
<line x1="528.1" y1="29.0" x2="528.1" y2="29.8" stroke="#ff0000" stroke-width="1.1"/><circle cx="528.1" cy="29.4" r="1.75" fill="#ff0000"/>
<line x1="530.5" y1="30.1" x2="530.5" y2="31.5" stroke="#ff0000" stroke-width="1.1"/><circle cx="530.5" cy="30.8" r="1.75" fill="#ff0000"/>
<line x1="532.9" y1="32.9" x2="532.9" y2="34.7" stroke="#ff0000" stroke-width="1.1"/><circle cx="532.9" cy="33.8" r="1.75" fill="#ff0000"/>
<line x1="535.4" y1="35.9" x2="535.4" y2="37.8" stroke="#ff0000" stroke-width="1.1"/><circle cx="535.4" cy="36.8" r="1.75" fill="#ff0000"/>
<line x1="537.8" y1="36.5" x2="537.8" y2="39.2" stroke="#ff0000" stroke-width="1.1"/><circle cx="537.8" cy="37.8" r="1.75" fill="#ff0000"/>
<line x1="540.2" y1="37.9" x2="540.2" y2="40.9" stroke="#ff0000" stroke-width="1.1"/><circle cx="540.2" cy="39.4" r="1.75" fill="#ff0000"/>
<line x1="542.6" y1="39.7" x2="542.6" y2="43.7" stroke="#ff0000" stroke-width="1.1"/><circle cx="542.6" cy="41.7" r="1.75" fill="#ff0000"/>
<line x1="545.0" y1="40.6" x2="545.0" y2="45.0" stroke="#ff0000" stroke-width="1.1"/><circle cx="545.0" cy="42.8" r="1.75" fill="#ff0000"/>
<line x1="547.4" y1="42.2" x2="547.4" y2="49.1" stroke="#ff0000" stroke-width="1.1"/><circle cx="547.4" cy="45.6" r="1.75" fill="#ff0000"/>
<line x1="549.8" y1="48.1" x2="549.8" y2="54.9" stroke="#ff0000" stroke-width="1.1"/><circle cx="549.8" cy="51.5" r="1.75" fill="#ff0000"/>
<line x1="552.2" y1="47.7" x2="552.2" y2="54.7" stroke="#ff0000" stroke-width="1.1"/><circle cx="552.2" cy="51.2" r="1.75" fill="#ff0000"/>
<line x1="554.6" y1="52.1" x2="554.6" y2="56.8" stroke="#ff0000" stroke-width="1.1"/><circle cx="554.6" cy="54.4" r="1.75" fill="#ff0000"/>
<line x1="557.1" y1="51.7" x2="557.1" y2="61.7" stroke="#ff0000" stroke-width="1.1"/><circle cx="557.1" cy="56.7" r="1.75" fill="#ff0000"/>
<line x1="559.5" y1="53.4" x2="559.5" y2="58.9" stroke="#ff0000" stroke-width="1.1"/><circle cx="559.5" cy="56.1" r="1.75" fill="#ff0000"/>
<line x1="561.9" y1="48.4" x2="561.9" y2="58.2" stroke="#ff0000" stroke-width="1.1"/><circle cx="561.9" cy="53.3" r="1.75" fill="#ff0000"/>
<line x1="564.3" y1="53.2" x2="564.3" y2="61.5" stroke="#ff0000" stroke-width="1.1"/><circle cx="564.3" cy="57.4" r="1.75" fill="#ff0000"/>
<line x1="566.7" y1="58.1" x2="566.7" y2="71.9" stroke="#ff0000" stroke-width="1.1"/><circle cx="566.7" cy="65.0" r="1.75" fill="#ff0000"/>
<line x1="569.1" y1="64.3" x2="569.1" y2="76.8" stroke="#ff0000" stroke-width="1.1"/><circle cx="569.1" cy="70.5" r="1.75" fill="#ff0000"/>
<line x1="571.5" y1="64.0" x2="571.5" y2="78.6" stroke="#ff0000" stroke-width="1.1"/><circle cx="571.5" cy="71.3" r="1.75" fill="#ff0000"/>
<line x1="574.0" y1="64.0" x2="574.0" y2="78.4" stroke="#ff0000" stroke-width="1.1"/><circle cx="574.0" cy="71.2" r="1.75" fill="#ff0000"/>
<line x1="576.4" y1="59.8" x2="576.4" y2="76.1" stroke="#ff0000" stroke-width="1.1"/><circle cx="576.4" cy="68.0" r="1.75" fill="#ff0000"/>
<line x1="578.8" y1="64.0" x2="578.8" y2="80.9" stroke="#ff0000" stroke-width="1.1"/><circle cx="578.8" cy="72.5" r="1.75" fill="#ff0000"/>
<line x1="581.2" y1="70.5" x2="581.2" y2="96.5" stroke="#ff0000" stroke-width="1.1"/><circle cx="581.2" cy="83.5" r="1.75" fill="#ff0000"/>
<line x1="583.6" y1="64.8" x2="583.6" y2="82.8" stroke="#ff0000" stroke-width="1.1"/><circle cx="583.6" cy="73.8" r="1.75" fill="#ff0000"/>
<line x1="586.0" y1="75.3" x2="586.0" y2="98.6" stroke="#ff0000" stroke-width="1.1"/><circle cx="586.0" cy="86.9" r="1.75" fill="#ff0000"/>
<line x1="588.4" y1="69.8" x2="588.4" y2="94.2" stroke="#ff0000" stroke-width="1.1"/><circle cx="588.4" cy="82.0" r="1.75" fill="#ff0000"/>
</g>
<text x="799" y="30.4" font-size="16" text-anchor="middle" fill="#000" font-family="Liberation Sans, sans-serif" ><tspan font-style="italic">α</tspan> = 0</text>
<text x="892.8" y="30.4" font-size="16" text-anchor="middle" fill="#000" font-family="Liberation Sans, sans-serif" textLength="40" lengthAdjust="spacingAndGlyphs"><tspan font-style="italic">α</tspan> = <tspan font-style="italic">π</tspan></text>
<defs>
<filter id="nf0" x="0" y="0" width="1" height="1" filterUnits="objectBoundingBox" color-interpolation-filters="sRGB"><feGaussianBlur in="SourceGraphic" stdDeviation="0.8" result="base"/><feTurbulence type="turbulence" baseFrequency="1.3" numOctaves="1" seed="3" result="t"/><feColorMatrix in="t" type="matrix" values="1 0 0 0 0 1 0 0 0 0 1 0 0 0 0 0 0 0 0 1" result="g"/><feGaussianBlur in="g" stdDeviation="0.6" result="n"/><feComposite in="base" in2="n" operator="arithmetic" k1="2.0" k2="0.66" k3="0.36" k4="0" result="m"/><feComponentTransfer in="m" result="c"><feFuncR type="table" tableValues="0.000 0.000 0.000 0.000 0.000 0.000 0.020 0.060 0.120 0.250 0.420 0.650 0.880"/><feFuncG type="table" tableValues="0.000 0.010 0.030 0.060 0.100 0.170 0.270 0.380 0.490 0.620 0.740 0.860 0.960"/><feFuncB type="table" tableValues="0.020 0.050 0.100 0.180 0.300 0.500 0.720 0.880 0.960 1.000 1.000 1.000 1.000"/></feComponentTransfer><feGaussianBlur in="c" stdDeviation="0.5"/></filter>
<filter id="nf1" x="0" y="0" width="1" height="1" filterUnits="objectBoundingBox" color-interpolation-filters="sRGB"><feGaussianBlur in="SourceGraphic" stdDeviation="0.8" result="base"/><feTurbulence type="turbulence" baseFrequency="1.3" numOctaves="1" seed="10" result="t"/><feColorMatrix in="t" type="matrix" values="1 0 0 0 0 1 0 0 0 0 1 0 0 0 0 0 0 0 0 1" result="g"/><feGaussianBlur in="g" stdDeviation="0.6" result="n"/><feComposite in="base" in2="n" operator="arithmetic" k1="2.0" k2="0.66" k3="0.36" k4="0" result="m"/><feComponentTransfer in="m" result="c"><feFuncR type="table" tableValues="0.000 0.000 0.000 0.000 0.000 0.000 0.020 0.060 0.120 0.250 0.420 0.650 0.880"/><feFuncG type="table" tableValues="0.000 0.010 0.030 0.060 0.100 0.170 0.270 0.380 0.490 0.620 0.740 0.860 0.960"/><feFuncB type="table" tableValues="0.020 0.050 0.100 0.180 0.300 0.500 0.720 0.880 0.960 1.000 1.000 1.000 1.000"/></feComponentTransfer><feGaussianBlur in="c" stdDeviation="0.5"/></filter>
<filter id="nf2" x="0" y="0" width="1" height="1" filterUnits="objectBoundingBox" color-interpolation-filters="sRGB"><feGaussianBlur in="SourceGraphic" stdDeviation="0.8" result="base"/><feTurbulence type="turbulence" baseFrequency="1.3" numOctaves="1" seed="17" result="t"/><feColorMatrix in="t" type="matrix" values="1 0 0 0 0 1 0 0 0 0 1 0 0 0 0 0 0 0 0 1" result="g"/><feGaussianBlur in="g" stdDeviation="0.6" result="n"/><feComposite in="base" in2="n" operator="arithmetic" k1="2.0" k2="0.66" k3="0.36" k4="0" result="m"/><feComponentTransfer in="m" result="c"><feFuncR type="table" tableValues="0.000 0.000 0.000 0.000 0.000 0.000 0.020 0.060 0.120 0.250 0.420 0.650 0.880"/><feFuncG type="table" tableValues="0.000 0.010 0.030 0.060 0.100 0.170 0.270 0.380 0.490 0.620 0.740 0.860 0.960"/><feFuncB type="table" tableValues="0.020 0.050 0.100 0.180 0.300 0.500 0.720 0.880 0.960 1.000 1.000 1.000 1.000"/></feComponentTransfer><feGaussianBlur in="c" stdDeviation="0.5"/></filter>
<filter id="nf3" x="0" y="0" width="1" height="1" filterUnits="objectBoundingBox" color-interpolation-filters="sRGB"><feGaussianBlur in="SourceGraphic" stdDeviation="0.8" result="base"/><feTurbulence type="turbulence" baseFrequency="1.3" numOctaves="1" seed="24" result="t"/><feColorMatrix in="t" type="matrix" values="1 0 0 0 0 1 0 0 0 0 1 0 0 0 0 0 0 0 0 1" result="g"/><feGaussianBlur in="g" stdDeviation="0.6" result="n"/><feComposite in="base" in2="n" operator="arithmetic" k1="2.0" k2="0.66" k3="0.36" k4="0" result="m"/><feComponentTransfer in="m" result="c"><feFuncR type="table" tableValues="0.000 0.000 0.000 0.000 0.000 0.000 0.020 0.060 0.120 0.250 0.420 0.650 0.880"/><feFuncG type="table" tableValues="0.000 0.010 0.030 0.060 0.100 0.170 0.270 0.380 0.490 0.620 0.740 0.860 0.960"/><feFuncB type="table" tableValues="0.020 0.050 0.100 0.180 0.300 0.500 0.720 0.880 0.960 1.000 1.000 1.000 1.000"/></feComponentTransfer><feGaussianBlur in="c" stdDeviation="0.5"/></filter>
<filter id="nf4" x="0" y="0" width="1" height="1" filterUnits="objectBoundingBox" color-interpolation-filters="sRGB"><feGaussianBlur in="SourceGraphic" stdDeviation="0.8" result="base"/><feTurbulence type="turbulence" baseFrequency="1.3" numOctaves="1" seed="31" result="t"/><feColorMatrix in="t" type="matrix" values="1 0 0 0 0 1 0 0 0 0 1 0 0 0 0 0 0 0 0 1" result="g"/><feGaussianBlur in="g" stdDeviation="0.6" result="n"/><feComposite in="base" in2="n" operator="arithmetic" k1="2.0" k2="0.66" k3="0.36" k4="0" result="m"/><feComponentTransfer in="m" result="c"><feFuncR type="table" tableValues="0.000 0.000 0.000 0.000 0.000 0.000 0.020 0.060 0.120 0.250 0.420 0.650 0.880"/><feFuncG type="table" tableValues="0.000 0.010 0.030 0.060 0.100 0.170 0.270 0.380 0.490 0.620 0.740 0.860 0.960"/><feFuncB type="table" tableValues="0.020 0.050 0.100 0.180 0.300 0.500 0.720 0.880 0.960 1.000 1.000 1.000 1.000"/></feComponentTransfer><feGaussianBlur in="c" stdDeviation="0.5"/></filter>
<filter id="nf5" x="0" y="0" width="1" height="1" filterUnits="objectBoundingBox" color-interpolation-filters="sRGB"><feGaussianBlur in="SourceGraphic" stdDeviation="0.8" result="base"/><feTurbulence type="turbulence" baseFrequency="1.3" numOctaves="1" seed="38" result="t"/><feColorMatrix in="t" type="matrix" values="1 0 0 0 0 1 0 0 0 0 1 0 0 0 0 0 0 0 0 1" result="g"/><feGaussianBlur in="g" stdDeviation="0.6" result="n"/><feComposite in="base" in2="n" operator="arithmetic" k1="2.0" k2="0.66" k3="0.36" k4="0" result="m"/><feComponentTransfer in="m" result="c"><feFuncR type="table" tableValues="0.000 0.000 0.000 0.000 0.000 0.000 0.020 0.060 0.120 0.250 0.420 0.650 0.880"/><feFuncG type="table" tableValues="0.000 0.010 0.030 0.060 0.100 0.170 0.270 0.380 0.490 0.620 0.740 0.860 0.960"/><feFuncB type="table" tableValues="0.020 0.050 0.100 0.180 0.300 0.500 0.720 0.880 0.960 1.000 1.000 1.000 1.000"/></feComponentTransfer><feGaussianBlur in="c" stdDeviation="0.5"/></filter>
<filter id="nf6" x="0" y="0" width="1" height="1" filterUnits="objectBoundingBox" color-interpolation-filters="sRGB"><feGaussianBlur in="SourceGraphic" stdDeviation="0.8" result="base"/><feTurbulence type="turbulence" baseFrequency="1.3" numOctaves="1" seed="45" result="t"/><feColorMatrix in="t" type="matrix" values="1 0 0 0 0 1 0 0 0 0 1 0 0 0 0 0 0 0 0 1" result="g"/><feGaussianBlur in="g" stdDeviation="0.6" result="n"/><feComposite in="base" in2="n" operator="arithmetic" k1="2.0" k2="0.66" k3="0.36" k4="0" result="m"/><feComponentTransfer in="m" result="c"><feFuncR type="table" tableValues="0.000 0.000 0.000 0.000 0.000 0.000 0.020 0.060 0.120 0.250 0.420 0.650 0.880"/><feFuncG type="table" tableValues="0.000 0.010 0.030 0.060 0.100 0.170 0.270 0.380 0.490 0.620 0.740 0.860 0.960"/><feFuncB type="table" tableValues="0.020 0.050 0.100 0.180 0.300 0.500 0.720 0.880 0.960 1.000 1.000 1.000 1.000"/></feComponentTransfer><feGaussianBlur in="c" stdDeviation="0.5"/></filter>
<filter id="nf7" x="0" y="0" width="1" height="1" filterUnits="objectBoundingBox" color-interpolation-filters="sRGB"><feGaussianBlur in="SourceGraphic" stdDeviation="0.8" result="base"/><feTurbulence type="turbulence" baseFrequency="1.3" numOctaves="1" seed="52" result="t"/><feColorMatrix in="t" type="matrix" values="1 0 0 0 0 1 0 0 0 0 1 0 0 0 0 0 0 0 0 1" result="g"/><feGaussianBlur in="g" stdDeviation="0.6" result="n"/><feComposite in="base" in2="n" operator="arithmetic" k1="2.0" k2="0.66" k3="0.36" k4="0" result="m"/><feComponentTransfer in="m" result="c"><feFuncR type="table" tableValues="0.000 0.000 0.000 0.000 0.000 0.000 0.020 0.060 0.120 0.250 0.420 0.650 0.880"/><feFuncG type="table" tableValues="0.000 0.010 0.030 0.060 0.100 0.170 0.270 0.380 0.490 0.620 0.740 0.860 0.960"/><feFuncB type="table" tableValues="0.020 0.050 0.100 0.180 0.300 0.500 0.720 0.880 0.960 1.000 1.000 1.000 1.000"/></feComponentTransfer><feGaussianBlur in="c" stdDeviation="0.5"/></filter>
</defs>
<clipPath id="ic0"><rect x="751.20" y="37.30" width="95.6" height="87.3"/></clipPath>
<g clip-path="url(#ic0)"><g filter="url(#nf0)" fill="none" stroke="#fff">
<rect x="748.20" y="34.30" width="101.6" height="93.3" fill="#0c0c0c" stroke="none"/>
<path d="M763.5 81.6A35.5 36.6 0 1 1 834.5 81.6A35.5 36.6 0 1 1 763.5 81.6Z" stroke-opacity="0.0183" stroke-width="13.8"/>
<path d="M763.5 81.6A35.5 36.6 0 1 1 834.5 81.6A35.5 36.6 0 1 1 763.5 81.6Z" stroke-opacity="0.0207" stroke-width="6.4"/>
<path d="M812.2 47.7A35.5 36.6 0 0 1 832.5 93.6M829.7 99.9A35.5 36.6 0 0 1 825.8 105.5M823.5 108.1A35.5 36.6 0 0 1 772.2 105.5M770.1 102.8A35.5 36.6 0 0 1 766.7 66.4M768.3 63.3A35.5 36.6 0 0 1 772.2 57.7M774.5 55.1A35.5 36.6 0 0 1 782.7 49.1M785.8 47.7A35.5 36.6 0 0 1 789.0 46.5M792.3 45.7A35.5 36.6 0 0 1 809.0 46.5" stroke-opacity="0.0183" stroke-width="13.8"/>
<path d="M812.2 47.7A35.5 36.6 0 0 1 832.5 93.6M829.7 99.9A35.5 36.6 0 0 1 825.8 105.5M823.5 108.1A35.5 36.6 0 0 1 772.2 105.5M770.1 102.8A35.5 36.6 0 0 1 766.7 66.4M768.3 63.3A35.5 36.6 0 0 1 772.2 57.7M774.5 55.1A35.5 36.6 0 0 1 782.7 49.1M785.8 47.7A35.5 36.6 0 0 1 789.0 46.5M792.3 45.7A35.5 36.6 0 0 1 809.0 46.5" stroke-opacity="0.0207" stroke-width="6.4"/>
<path d="M812.2 47.7A35.5 36.6 0 0 1 815.3 49.1M818.2 50.8A35.5 36.6 0 0 1 820.9 52.9M823.5 55.1A35.5 36.6 0 0 1 832.5 93.6M829.7 99.9A35.5 36.6 0 0 1 825.8 105.5M823.5 108.1A35.5 36.6 0 0 1 799.0 118.2M795.6 118.0A35.5 36.6 0 0 1 785.8 115.5M779.8 112.4A35.5 36.6 0 0 1 772.2 105.5M770.1 102.8A35.5 36.6 0 0 1 768.3 99.9M765.5 93.6A35.5 36.6 0 0 1 764.5 90.2M763.9 86.8A35.5 36.6 0 0 1 763.5 79.9M763.9 76.4A35.5 36.6 0 0 1 765.5 69.6M768.3 63.3A35.5 36.6 0 0 1 772.2 57.7M774.5 55.1A35.5 36.6 0 0 1 782.7 49.1M785.8 47.7A35.5 36.6 0 0 1 789.0 46.5M795.6 45.2A35.5 36.6 0 0 1 809.0 46.5" stroke-opacity="0.0183" stroke-width="13.8"/>
<path d="M812.2 47.7A35.5 36.6 0 0 1 815.3 49.1M818.2 50.8A35.5 36.6 0 0 1 820.9 52.9M823.5 55.1A35.5 36.6 0 0 1 832.5 93.6M829.7 99.9A35.5 36.6 0 0 1 825.8 105.5M823.5 108.1A35.5 36.6 0 0 1 799.0 118.2M795.6 118.0A35.5 36.6 0 0 1 785.8 115.5M779.8 112.4A35.5 36.6 0 0 1 772.2 105.5M770.1 102.8A35.5 36.6 0 0 1 768.3 99.9M765.5 93.6A35.5 36.6 0 0 1 764.5 90.2M763.9 86.8A35.5 36.6 0 0 1 763.5 79.9M763.9 76.4A35.5 36.6 0 0 1 765.5 69.6M768.3 63.3A35.5 36.6 0 0 1 772.2 57.7M774.5 55.1A35.5 36.6 0 0 1 782.7 49.1M785.8 47.7A35.5 36.6 0 0 1 789.0 46.5M795.6 45.2A35.5 36.6 0 0 1 809.0 46.5" stroke-opacity="0.0207" stroke-width="6.4"/>
<path d="M799.0 45.0A35.5 36.6 0 0 1 805.7 45.7M823.5 55.1A35.5 36.6 0 0 1 825.8 57.7M827.9 60.4A35.5 36.6 0 0 1 832.5 69.6M834.1 76.4A35.5 36.6 0 0 1 832.5 93.6M829.7 99.9A35.5 36.6 0 0 1 825.8 105.5M820.9 110.3A35.5 36.6 0 0 1 818.2 112.4M809.0 116.7A35.5 36.6 0 0 1 805.7 117.5M792.3 117.5A35.5 36.6 0 0 1 789.0 116.7M779.8 112.4A35.5 36.6 0 0 1 774.5 108.1M765.5 93.6A35.5 36.6 0 0 1 764.5 90.2M763.5 83.3A35.5 36.6 0 0 1 763.5 79.9M764.5 73.0A35.5 36.6 0 0 1 765.5 69.6M768.3 63.3A35.5 36.6 0 0 1 772.2 57.7M779.8 50.8A35.5 36.6 0 0 1 782.7 49.1" stroke-opacity="0.0183" stroke-width="13.8"/>
<path d="M799.0 45.0A35.5 36.6 0 0 1 805.7 45.7M823.5 55.1A35.5 36.6 0 0 1 825.8 57.7M827.9 60.4A35.5 36.6 0 0 1 832.5 69.6M834.1 76.4A35.5 36.6 0 0 1 832.5 93.6M829.7 99.9A35.5 36.6 0 0 1 825.8 105.5M820.9 110.3A35.5 36.6 0 0 1 818.2 112.4M809.0 116.7A35.5 36.6 0 0 1 805.7 117.5M792.3 117.5A35.5 36.6 0 0 1 789.0 116.7M779.8 112.4A35.5 36.6 0 0 1 774.5 108.1M765.5 93.6A35.5 36.6 0 0 1 764.5 90.2M763.5 83.3A35.5 36.6 0 0 1 763.5 79.9M764.5 73.0A35.5 36.6 0 0 1 765.5 69.6M768.3 63.3A35.5 36.6 0 0 1 772.2 57.7M779.8 50.8A35.5 36.6 0 0 1 782.7 49.1" stroke-opacity="0.0207" stroke-width="6.4"/>
<path d="M827.9 60.4A35.5 36.6 0 0 1 829.7 63.3M834.1 76.4A35.5 36.6 0 0 1 834.5 79.9M834.5 83.3A35.5 36.6 0 0 1 834.1 86.8M833.5 90.2A35.5 36.6 0 0 1 832.5 93.6M829.7 99.9A35.5 36.6 0 0 1 825.8 105.5M792.3 117.5A35.5 36.6 0 0 1 789.0 116.7M763.5 83.3A35.5 36.6 0 0 1 763.5 79.9M770.1 60.4A35.5 36.6 0 0 1 772.2 57.7M779.8 50.8A35.5 36.6 0 0 1 782.7 49.1" stroke-opacity="0.0183" stroke-width="13.8"/>
<path d="M827.9 60.4A35.5 36.6 0 0 1 829.7 63.3M834.1 76.4A35.5 36.6 0 0 1 834.5 79.9M834.5 83.3A35.5 36.6 0 0 1 834.1 86.8M833.5 90.2A35.5 36.6 0 0 1 832.5 93.6M829.7 99.9A35.5 36.6 0 0 1 825.8 105.5M792.3 117.5A35.5 36.6 0 0 1 789.0 116.7M763.5 83.3A35.5 36.6 0 0 1 763.5 79.9M770.1 60.4A35.5 36.6 0 0 1 772.2 57.7M779.8 50.8A35.5 36.6 0 0 1 782.7 49.1" stroke-opacity="0.0207" stroke-width="6.4"/>
<path d="M834.1 76.4A35.5 36.6 0 0 1 834.5 79.9M827.9 102.8A35.5 36.6 0 0 1 825.8 105.5" stroke-opacity="0.0183" stroke-width="13.8"/>
<path d="M834.1 76.4A35.5 36.6 0 0 1 834.5 79.9M827.9 102.8A35.5 36.6 0 0 1 825.8 105.5" stroke-opacity="0.0207" stroke-width="6.4"/>
<path d="M827.9 102.8A35.5 36.6 0 0 1 825.8 105.5" stroke-opacity="0.0183" stroke-width="13.8"/>
<path d="M827.9 102.8A35.5 36.6 0 0 1 825.8 105.5" stroke-opacity="0.0207" stroke-width="6.4"/>
</g></g>
<path d="M790.30 79.10a7.3 7.2 0 0 1 6.5 -7.1l0.6 -0.9 0.8 0.8a7.3 7.3 0 1 1 -7.9 7.2Z" fill="#dff6ff"/>
<clipPath id="ic1"><rect x="849.90" y="37.30" width="95.6" height="87.3"/></clipPath>
<g clip-path="url(#ic1)"><g filter="url(#nf1)" fill="none" stroke="#fff">
<rect x="846.90" y="34.30" width="101.6" height="93.3" fill="#0c0c0c" stroke="none"/>
<path d="M861.7 81.6A36.0 37.1 0 1 1 933.7 81.6A36.0 37.1 0 1 1 861.7 81.6Z" stroke-opacity="0.0183" stroke-width="13.8"/>
<path d="M861.7 81.6A36.0 37.1 0 1 1 933.7 81.6A36.0 37.1 0 1 1 861.7 81.6Z" stroke-opacity="0.0207" stroke-width="6.4"/>
<path d="M914.2 48.6A36.0 37.1 0 0 1 917.2 112.8M914.2 114.6A36.0 37.1 0 0 1 862.7 72.9M863.7 69.5A36.0 37.1 0 0 1 911.1 47.2" stroke-opacity="0.0183" stroke-width="13.8"/>
<path d="M914.2 48.6A36.0 37.1 0 0 1 917.2 112.8M914.2 114.6A36.0 37.1 0 0 1 862.7 72.9M863.7 69.5A36.0 37.1 0 0 1 911.1 47.2" stroke-opacity="0.0207" stroke-width="6.4"/>
<path d="M904.5 45.2A36.0 37.1 0 0 1 907.8 46.0M914.2 48.6A36.0 37.1 0 0 1 922.5 54.8M924.9 57.3A36.0 37.1 0 0 1 933.7 79.8M933.7 83.4A36.0 37.1 0 0 1 928.9 100.1M927.0 103.1A36.0 37.1 0 0 1 920.0 110.7M914.2 114.6A36.0 37.1 0 0 1 911.1 116.0M904.5 118.0A36.0 37.1 0 0 1 901.1 118.5M897.7 118.7A36.0 37.1 0 0 1 887.6 117.2M884.3 116.0A36.0 37.1 0 0 1 861.7 83.4M861.7 79.8A36.0 37.1 0 0 1 862.1 76.3M863.7 69.5A36.0 37.1 0 0 1 865.0 66.2M866.5 63.1A36.0 37.1 0 0 1 870.5 57.3M872.9 54.8A36.0 37.1 0 0 1 887.6 46.0M890.9 45.2A36.0 37.1 0 0 1 894.3 44.7" stroke-opacity="0.0183" stroke-width="13.8"/>
<path d="M904.5 45.2A36.0 37.1 0 0 1 907.8 46.0M914.2 48.6A36.0 37.1 0 0 1 922.5 54.8M924.9 57.3A36.0 37.1 0 0 1 933.7 79.8M933.7 83.4A36.0 37.1 0 0 1 928.9 100.1M927.0 103.1A36.0 37.1 0 0 1 920.0 110.7M914.2 114.6A36.0 37.1 0 0 1 911.1 116.0M904.5 118.0A36.0 37.1 0 0 1 901.1 118.5M897.7 118.7A36.0 37.1 0 0 1 887.6 117.2M884.3 116.0A36.0 37.1 0 0 1 861.7 83.4M861.7 79.8A36.0 37.1 0 0 1 862.1 76.3M863.7 69.5A36.0 37.1 0 0 1 865.0 66.2M866.5 63.1A36.0 37.1 0 0 1 870.5 57.3M872.9 54.8A36.0 37.1 0 0 1 887.6 46.0M890.9 45.2A36.0 37.1 0 0 1 894.3 44.7" stroke-opacity="0.0207" stroke-width="6.4"/>
<path d="M904.5 45.2A36.0 37.1 0 0 1 907.8 46.0M924.9 57.3A36.0 37.1 0 0 1 927.0 60.1M928.9 63.1A36.0 37.1 0 0 1 930.4 66.2M932.7 72.9A36.0 37.1 0 0 1 933.7 79.8M933.7 83.4A36.0 37.1 0 0 1 933.3 86.9M932.7 90.3A36.0 37.1 0 0 1 931.7 93.7M930.4 97.0A36.0 37.1 0 0 1 928.9 100.1M924.9 105.9A36.0 37.1 0 0 1 920.0 110.7M914.2 114.6A36.0 37.1 0 0 1 911.1 116.0M904.5 118.0A36.0 37.1 0 0 1 901.1 118.5M897.7 118.7A36.0 37.1 0 0 1 890.9 118.0M881.2 114.6A36.0 37.1 0 0 1 878.2 112.8M875.4 110.7A36.0 37.1 0 0 1 872.9 108.4M865.0 97.0A36.0 37.1 0 0 1 861.7 83.4M866.5 63.1A36.0 37.1 0 0 1 868.4 60.1M872.9 54.8A36.0 37.1 0 0 1 875.4 52.5M878.2 50.4A36.0 37.1 0 0 1 887.6 46.0" stroke-opacity="0.0183" stroke-width="13.8"/>
<path d="M904.5 45.2A36.0 37.1 0 0 1 907.8 46.0M924.9 57.3A36.0 37.1 0 0 1 927.0 60.1M928.9 63.1A36.0 37.1 0 0 1 930.4 66.2M932.7 72.9A36.0 37.1 0 0 1 933.7 79.8M933.7 83.4A36.0 37.1 0 0 1 933.3 86.9M932.7 90.3A36.0 37.1 0 0 1 931.7 93.7M930.4 97.0A36.0 37.1 0 0 1 928.9 100.1M924.9 105.9A36.0 37.1 0 0 1 920.0 110.7M914.2 114.6A36.0 37.1 0 0 1 911.1 116.0M904.5 118.0A36.0 37.1 0 0 1 901.1 118.5M897.7 118.7A36.0 37.1 0 0 1 890.9 118.0M881.2 114.6A36.0 37.1 0 0 1 878.2 112.8M875.4 110.7A36.0 37.1 0 0 1 872.9 108.4M865.0 97.0A36.0 37.1 0 0 1 861.7 83.4M866.5 63.1A36.0 37.1 0 0 1 868.4 60.1M872.9 54.8A36.0 37.1 0 0 1 875.4 52.5M878.2 50.4A36.0 37.1 0 0 1 887.6 46.0" stroke-opacity="0.0207" stroke-width="6.4"/>
<path d="M904.5 45.2A36.0 37.1 0 0 1 907.8 46.0M928.9 63.1A36.0 37.1 0 0 1 930.4 66.2M932.7 90.3A36.0 37.1 0 0 1 931.7 93.7M894.3 118.5A36.0 37.1 0 0 1 890.9 118.0M881.2 114.6A36.0 37.1 0 0 1 878.2 112.8M862.7 90.3A36.0 37.1 0 0 1 862.1 86.9M866.5 63.1A36.0 37.1 0 0 1 868.4 60.1M878.2 50.4A36.0 37.1 0 0 1 881.2 48.6M884.3 47.2A36.0 37.1 0 0 1 887.6 46.0" stroke-opacity="0.0183" stroke-width="13.8"/>
<path d="M904.5 45.2A36.0 37.1 0 0 1 907.8 46.0M928.9 63.1A36.0 37.1 0 0 1 930.4 66.2M932.7 90.3A36.0 37.1 0 0 1 931.7 93.7M894.3 118.5A36.0 37.1 0 0 1 890.9 118.0M881.2 114.6A36.0 37.1 0 0 1 878.2 112.8M862.7 90.3A36.0 37.1 0 0 1 862.1 86.9M866.5 63.1A36.0 37.1 0 0 1 868.4 60.1M878.2 50.4A36.0 37.1 0 0 1 881.2 48.6M884.3 47.2A36.0 37.1 0 0 1 887.6 46.0" stroke-opacity="0.0207" stroke-width="6.4"/>
<path d="M884.3 47.2A36.0 37.1 0 0 1 887.6 46.0" stroke-opacity="0.0183" stroke-width="13.8"/>
<path d="M884.3 47.2A36.0 37.1 0 0 1 887.6 46.0" stroke-opacity="0.0207" stroke-width="6.4"/>
</g></g>
<path d="M889.00 79.10a7.3 7.2 0 0 1 6.5 -7.1l0.6 -0.9 0.8 0.8a7.3 7.3 0 1 1 -7.9 7.2Z" fill="#dff6ff"/>
<clipPath id="ic2"><rect x="751.20" y="127.53" width="95.6" height="87.3"/></clipPath>
<g clip-path="url(#ic2)"><g filter="url(#nf2)" fill="none" stroke="#fff">
<rect x="748.20" y="124.53" width="101.6" height="93.3" fill="#0c0c0c" stroke="none"/>
<path d="M764.5 171.8A34.5 35.5 0 1 1 833.5 171.8A34.5 35.5 0 1 1 764.5 171.8Z" stroke-opacity="0.0183" stroke-width="10.5"/>
<path d="M764.5 171.8A34.5 35.5 0 1 1 833.5 171.8A34.5 35.5 0 1 1 764.5 171.8Z" stroke-opacity="0.0207" stroke-width="4.9"/>
<path d="M764.5 171.8A34.5 35.5 0 1 1 833.5 171.8A34.5 35.5 0 1 1 764.5 171.8Z" stroke-opacity="0.0183" stroke-width="10.5"/>
<path d="M764.5 171.8A34.5 35.5 0 1 1 833.5 171.8A34.5 35.5 0 1 1 764.5 171.8Z" stroke-opacity="0.0207" stroke-width="4.9"/>
<path d="M764.5 171.8A34.5 35.5 0 1 1 833.5 171.8A34.5 35.5 0 1 1 764.5 171.8Z" stroke-opacity="0.0183" stroke-width="10.5"/>
<path d="M764.5 171.8A34.5 35.5 0 1 1 833.5 171.8A34.5 35.5 0 1 1 764.5 171.8Z" stroke-opacity="0.0207" stroke-width="4.9"/>
<path d="M772.9 148.6A34.5 35.5 0 0 1 786.2 138.8M789.3 137.7A34.5 35.5 0 1 1 770.9 151.2" stroke-opacity="0.0183" stroke-width="10.5"/>
<path d="M772.9 148.6A34.5 35.5 0 0 1 786.2 138.8M789.3 137.7A34.5 35.5 0 1 1 770.9 151.2" stroke-opacity="0.0207" stroke-width="4.9"/>
<path d="M799.0 207.4A34.5 35.5 0 0 1 767.6 186.6M766.4 183.5A34.5 35.5 0 0 1 764.9 176.9M764.5 173.5A34.5 35.5 0 0 1 770.9 151.2M772.9 148.6A34.5 35.5 0 0 1 786.2 138.8M789.3 137.7A34.5 35.5 0 1 1 802.3 207.2" stroke-opacity="0.0183" stroke-width="10.5"/>
<path d="M799.0 207.4A34.5 35.5 0 0 1 767.6 186.6M766.4 183.5A34.5 35.5 0 0 1 764.9 176.9M764.5 173.5A34.5 35.5 0 0 1 770.9 151.2M772.9 148.6A34.5 35.5 0 0 1 786.2 138.8M789.3 137.7A34.5 35.5 0 1 1 802.3 207.2" stroke-opacity="0.0207" stroke-width="4.9"/>
<path d="M832.5 163.5A34.5 35.5 0 0 1 820.3 199.8M814.8 203.4A34.5 35.5 0 0 1 802.3 207.2M799.0 207.4A34.5 35.5 0 0 1 767.6 186.6M766.4 183.5A34.5 35.5 0 0 1 764.9 176.9M764.5 173.5A34.5 35.5 0 0 1 767.6 157.1M769.1 154.1A34.5 35.5 0 0 1 770.9 151.2M775.2 146.1A34.5 35.5 0 0 1 786.2 138.8M789.3 137.7A34.5 35.5 0 0 1 831.6 160.2" stroke-opacity="0.0183" stroke-width="10.5"/>
<path d="M832.5 163.5A34.5 35.5 0 0 1 820.3 199.8M814.8 203.4A34.5 35.5 0 0 1 802.3 207.2M799.0 207.4A34.5 35.5 0 0 1 767.6 186.6M766.4 183.5A34.5 35.5 0 0 1 764.9 176.9M764.5 173.5A34.5 35.5 0 0 1 767.6 157.1M769.1 154.1A34.5 35.5 0 0 1 770.9 151.2M775.2 146.1A34.5 35.5 0 0 1 786.2 138.8M789.3 137.7A34.5 35.5 0 0 1 831.6 160.2" stroke-opacity="0.0207" stroke-width="4.9"/>
<path d="M833.1 166.8A34.5 35.5 0 0 1 832.5 180.2M831.6 183.5A34.5 35.5 0 0 1 820.3 199.8M814.8 203.4A34.5 35.5 0 0 1 808.7 205.9M805.5 206.7A34.5 35.5 0 0 1 802.3 207.2M799.0 207.4A34.5 35.5 0 0 1 772.9 195.1M770.9 192.4A34.5 35.5 0 0 1 767.6 186.6M766.4 183.5A34.5 35.5 0 0 1 764.9 176.9M764.5 173.5A34.5 35.5 0 0 1 766.4 160.2M769.1 154.1A34.5 35.5 0 0 1 770.9 151.2M775.2 146.1A34.5 35.5 0 0 1 786.2 138.8M789.3 137.7A34.5 35.5 0 0 1 831.6 160.2" stroke-opacity="0.0183" stroke-width="10.5"/>
<path d="M833.1 166.8A34.5 35.5 0 0 1 832.5 180.2M831.6 183.5A34.5 35.5 0 0 1 820.3 199.8M814.8 203.4A34.5 35.5 0 0 1 808.7 205.9M805.5 206.7A34.5 35.5 0 0 1 802.3 207.2M799.0 207.4A34.5 35.5 0 0 1 772.9 195.1M770.9 192.4A34.5 35.5 0 0 1 767.6 186.6M766.4 183.5A34.5 35.5 0 0 1 764.9 176.9M764.5 173.5A34.5 35.5 0 0 1 766.4 160.2M769.1 154.1A34.5 35.5 0 0 1 770.9 151.2M775.2 146.1A34.5 35.5 0 0 1 786.2 138.8M789.3 137.7A34.5 35.5 0 0 1 831.6 160.2" stroke-opacity="0.0207" stroke-width="4.9"/>
<path d="M822.8 146.1A34.5 35.5 0 0 1 828.9 154.1M830.4 157.1A34.5 35.5 0 0 1 831.6 160.2M833.1 166.8A34.5 35.5 0 0 1 833.1 176.9M831.6 183.5A34.5 35.5 0 0 1 820.3 199.8M814.8 203.4A34.5 35.5 0 0 1 808.7 205.9M805.5 206.7A34.5 35.5 0 0 1 802.3 207.2M799.0 207.4A34.5 35.5 0 0 1 775.2 197.5M770.9 192.4A34.5 35.5 0 0 1 767.6 186.6M766.4 183.5A34.5 35.5 0 0 1 765.5 180.2M764.5 173.5A34.5 35.5 0 0 1 766.4 160.2M769.1 154.1A34.5 35.5 0 0 1 770.9 151.2M780.3 141.9A34.5 35.5 0 0 1 786.2 138.8M789.3 137.7A34.5 35.5 0 0 1 817.7 141.9" stroke-opacity="0.0183" stroke-width="10.5"/>
<path d="M822.8 146.1A34.5 35.5 0 0 1 828.9 154.1M830.4 157.1A34.5 35.5 0 0 1 831.6 160.2M833.1 166.8A34.5 35.5 0 0 1 833.1 176.9M831.6 183.5A34.5 35.5 0 0 1 820.3 199.8M814.8 203.4A34.5 35.5 0 0 1 808.7 205.9M805.5 206.7A34.5 35.5 0 0 1 802.3 207.2M799.0 207.4A34.5 35.5 0 0 1 775.2 197.5M770.9 192.4A34.5 35.5 0 0 1 767.6 186.6M766.4 183.5A34.5 35.5 0 0 1 765.5 180.2M764.5 173.5A34.5 35.5 0 0 1 766.4 160.2M769.1 154.1A34.5 35.5 0 0 1 770.9 151.2M780.3 141.9A34.5 35.5 0 0 1 786.2 138.8M789.3 137.7A34.5 35.5 0 0 1 817.7 141.9" stroke-opacity="0.0207" stroke-width="4.9"/>
<path d="M799.0 136.3A34.5 35.5 0 0 1 817.7 141.9M822.8 146.1A34.5 35.5 0 0 1 827.1 151.2M830.4 157.1A34.5 35.5 0 0 1 831.6 160.2M833.1 166.8A34.5 35.5 0 0 1 833.1 176.9M830.4 186.6A34.5 35.5 0 0 1 820.3 199.8M811.8 204.8A34.5 35.5 0 0 1 808.7 205.9M805.5 206.7A34.5 35.5 0 0 1 802.3 207.2M799.0 207.4A34.5 35.5 0 0 1 777.7 199.8M770.9 192.4A34.5 35.5 0 0 1 769.1 189.6M766.4 183.5A34.5 35.5 0 0 1 765.5 180.2M764.5 173.5A34.5 35.5 0 0 1 764.5 170.1M764.9 166.8A34.5 35.5 0 0 1 766.4 160.2M769.1 154.1A34.5 35.5 0 0 1 770.9 151.2M780.3 141.9A34.5 35.5 0 0 1 783.2 140.2M789.3 137.7A34.5 35.5 0 0 1 795.7 136.5" stroke-opacity="0.0183" stroke-width="10.5"/>
<path d="M799.0 136.3A34.5 35.5 0 0 1 817.7 141.9M822.8 146.1A34.5 35.5 0 0 1 827.1 151.2M830.4 157.1A34.5 35.5 0 0 1 831.6 160.2M833.1 166.8A34.5 35.5 0 0 1 833.1 176.9M830.4 186.6A34.5 35.5 0 0 1 820.3 199.8M811.8 204.8A34.5 35.5 0 0 1 808.7 205.9M805.5 206.7A34.5 35.5 0 0 1 802.3 207.2M799.0 207.4A34.5 35.5 0 0 1 777.7 199.8M770.9 192.4A34.5 35.5 0 0 1 769.1 189.6M766.4 183.5A34.5 35.5 0 0 1 765.5 180.2M764.5 173.5A34.5 35.5 0 0 1 764.5 170.1M764.9 166.8A34.5 35.5 0 0 1 766.4 160.2M769.1 154.1A34.5 35.5 0 0 1 770.9 151.2M780.3 141.9A34.5 35.5 0 0 1 783.2 140.2M789.3 137.7A34.5 35.5 0 0 1 795.7 136.5" stroke-opacity="0.0207" stroke-width="4.9"/>
<path d="M799.0 136.3A34.5 35.5 0 0 1 817.7 141.9M822.8 146.1A34.5 35.5 0 0 1 827.1 151.2M830.4 157.1A34.5 35.5 0 0 1 831.6 160.2M833.5 170.1A34.5 35.5 0 0 1 833.1 176.9M830.4 186.6A34.5 35.5 0 0 1 820.3 199.8M805.5 206.7A34.5 35.5 0 0 1 802.3 207.2M799.0 207.4A34.5 35.5 0 0 1 795.7 207.2M792.5 206.7A34.5 35.5 0 0 1 777.7 199.8M770.9 192.4A34.5 35.5 0 0 1 769.1 189.6M766.4 183.5A34.5 35.5 0 0 1 765.5 180.2M764.5 173.5A34.5 35.5 0 0 1 764.5 170.1M764.9 166.8A34.5 35.5 0 0 1 766.4 160.2M769.1 154.1A34.5 35.5 0 0 1 770.9 151.2M780.3 141.9A34.5 35.5 0 0 1 783.2 140.2M789.3 137.7A34.5 35.5 0 0 1 792.5 136.9" stroke-opacity="0.0183" stroke-width="10.5"/>
<path d="M799.0 136.3A34.5 35.5 0 0 1 817.7 141.9M822.8 146.1A34.5 35.5 0 0 1 827.1 151.2M830.4 157.1A34.5 35.5 0 0 1 831.6 160.2M833.5 170.1A34.5 35.5 0 0 1 833.1 176.9M830.4 186.6A34.5 35.5 0 0 1 820.3 199.8M805.5 206.7A34.5 35.5 0 0 1 802.3 207.2M799.0 207.4A34.5 35.5 0 0 1 795.7 207.2M792.5 206.7A34.5 35.5 0 0 1 777.7 199.8M770.9 192.4A34.5 35.5 0 0 1 769.1 189.6M766.4 183.5A34.5 35.5 0 0 1 765.5 180.2M764.5 173.5A34.5 35.5 0 0 1 764.5 170.1M764.9 166.8A34.5 35.5 0 0 1 766.4 160.2M769.1 154.1A34.5 35.5 0 0 1 770.9 151.2M780.3 141.9A34.5 35.5 0 0 1 783.2 140.2M789.3 137.7A34.5 35.5 0 0 1 792.5 136.9" stroke-opacity="0.0207" stroke-width="4.9"/>
<path d="M799.0 136.3A34.5 35.5 0 0 1 814.8 140.2M822.8 146.1A34.5 35.5 0 0 1 827.1 151.2M830.4 157.1A34.5 35.5 0 0 1 831.6 160.2M833.5 170.1A34.5 35.5 0 0 1 833.1 176.9M830.4 186.6A34.5 35.5 0 0 1 820.3 199.8M805.5 206.7A34.5 35.5 0 0 1 802.3 207.2M792.5 206.7A34.5 35.5 0 0 1 777.7 199.8M766.4 183.5A34.5 35.5 0 0 1 765.5 180.2M764.5 173.5A34.5 35.5 0 0 1 764.5 170.1M764.9 166.8A34.5 35.5 0 0 1 766.4 160.2M769.1 154.1A34.5 35.5 0 0 1 770.9 151.2M780.3 141.9A34.5 35.5 0 0 1 783.2 140.2M789.3 137.7A34.5 35.5 0 0 1 792.5 136.9" stroke-opacity="0.0183" stroke-width="10.5"/>
<path d="M799.0 136.3A34.5 35.5 0 0 1 814.8 140.2M822.8 146.1A34.5 35.5 0 0 1 827.1 151.2M830.4 157.1A34.5 35.5 0 0 1 831.6 160.2M833.5 170.1A34.5 35.5 0 0 1 833.1 176.9M830.4 186.6A34.5 35.5 0 0 1 820.3 199.8M805.5 206.7A34.5 35.5 0 0 1 802.3 207.2M792.5 206.7A34.5 35.5 0 0 1 777.7 199.8M766.4 183.5A34.5 35.5 0 0 1 765.5 180.2M764.5 173.5A34.5 35.5 0 0 1 764.5 170.1M764.9 166.8A34.5 35.5 0 0 1 766.4 160.2M769.1 154.1A34.5 35.5 0 0 1 770.9 151.2M780.3 141.9A34.5 35.5 0 0 1 783.2 140.2M789.3 137.7A34.5 35.5 0 0 1 792.5 136.9" stroke-opacity="0.0207" stroke-width="4.9"/>
<path d="M799.0 136.3A34.5 35.5 0 0 1 811.8 138.8M822.8 146.1A34.5 35.5 0 0 1 827.1 151.2M830.4 157.1A34.5 35.5 0 0 1 831.6 160.2M833.5 173.5A34.5 35.5 0 0 1 833.1 176.9M830.4 186.6A34.5 35.5 0 0 1 820.3 199.8M805.5 206.7A34.5 35.5 0 0 1 802.3 207.2M792.5 206.7A34.5 35.5 0 0 1 777.7 199.8M766.4 183.5A34.5 35.5 0 0 1 765.5 180.2M764.5 173.5A34.5 35.5 0 0 1 764.5 170.1M764.9 166.8A34.5 35.5 0 0 1 766.4 160.2M769.1 154.1A34.5 35.5 0 0 1 770.9 151.2M780.3 141.9A34.5 35.5 0 0 1 783.2 140.2M789.3 137.7A34.5 35.5 0 0 1 792.5 136.9" stroke-opacity="0.0183" stroke-width="10.5"/>
<path d="M799.0 136.3A34.5 35.5 0 0 1 811.8 138.8M822.8 146.1A34.5 35.5 0 0 1 827.1 151.2M830.4 157.1A34.5 35.5 0 0 1 831.6 160.2M833.5 173.5A34.5 35.5 0 0 1 833.1 176.9M830.4 186.6A34.5 35.5 0 0 1 820.3 199.8M805.5 206.7A34.5 35.5 0 0 1 802.3 207.2M792.5 206.7A34.5 35.5 0 0 1 777.7 199.8M766.4 183.5A34.5 35.5 0 0 1 765.5 180.2M764.5 173.5A34.5 35.5 0 0 1 764.5 170.1M764.9 166.8A34.5 35.5 0 0 1 766.4 160.2M769.1 154.1A34.5 35.5 0 0 1 770.9 151.2M780.3 141.9A34.5 35.5 0 0 1 783.2 140.2M789.3 137.7A34.5 35.5 0 0 1 792.5 136.9" stroke-opacity="0.0207" stroke-width="4.9"/>
<path d="M802.3 136.5A34.5 35.5 0 0 1 811.8 138.8M822.8 146.1A34.5 35.5 0 0 1 827.1 151.2M830.4 157.1A34.5 35.5 0 0 1 831.6 160.2M830.4 186.6A34.5 35.5 0 0 1 820.3 199.8M792.5 206.7A34.5 35.5 0 0 1 777.7 199.8M766.4 183.5A34.5 35.5 0 0 1 765.5 180.2M764.5 173.5A34.5 35.5 0 0 1 764.5 170.1M764.9 166.8A34.5 35.5 0 0 1 766.4 160.2M780.3 141.9A34.5 35.5 0 0 1 783.2 140.2" stroke-opacity="0.0183" stroke-width="10.5"/>
<path d="M802.3 136.5A34.5 35.5 0 0 1 811.8 138.8M822.8 146.1A34.5 35.5 0 0 1 827.1 151.2M830.4 157.1A34.5 35.5 0 0 1 831.6 160.2M830.4 186.6A34.5 35.5 0 0 1 820.3 199.8M792.5 206.7A34.5 35.5 0 0 1 777.7 199.8M766.4 183.5A34.5 35.5 0 0 1 765.5 180.2M764.5 173.5A34.5 35.5 0 0 1 764.5 170.1M764.9 166.8A34.5 35.5 0 0 1 766.4 160.2M780.3 141.9A34.5 35.5 0 0 1 783.2 140.2" stroke-opacity="0.0207" stroke-width="4.9"/>
<path d="M802.3 136.5A34.5 35.5 0 0 1 811.8 138.8M822.8 146.1A34.5 35.5 0 0 1 825.1 148.6M830.4 186.6A34.5 35.5 0 0 1 820.3 199.8M792.5 206.7A34.5 35.5 0 0 1 777.7 199.8M766.4 183.5A34.5 35.5 0 0 1 765.5 180.2M764.5 173.5A34.5 35.5 0 0 1 764.5 170.1M764.9 166.8A34.5 35.5 0 0 1 766.4 160.2M780.3 141.9A34.5 35.5 0 0 1 783.2 140.2" stroke-opacity="0.0183" stroke-width="10.5"/>
<path d="M802.3 136.5A34.5 35.5 0 0 1 811.8 138.8M822.8 146.1A34.5 35.5 0 0 1 825.1 148.6M830.4 186.6A34.5 35.5 0 0 1 820.3 199.8M792.5 206.7A34.5 35.5 0 0 1 777.7 199.8M766.4 183.5A34.5 35.5 0 0 1 765.5 180.2M764.5 173.5A34.5 35.5 0 0 1 764.5 170.1M764.9 166.8A34.5 35.5 0 0 1 766.4 160.2M780.3 141.9A34.5 35.5 0 0 1 783.2 140.2" stroke-opacity="0.0207" stroke-width="4.9"/>
<path d="M802.3 136.5A34.5 35.5 0 0 1 811.8 138.8M822.8 146.1A34.5 35.5 0 0 1 825.1 148.6M830.4 186.6A34.5 35.5 0 0 1 822.8 197.5M792.5 206.7A34.5 35.5 0 0 1 786.2 204.8M783.2 203.4A34.5 35.5 0 0 1 777.7 199.8M764.5 173.5A34.5 35.5 0 0 1 764.5 170.1M764.9 166.8A34.5 35.5 0 0 1 766.4 160.2" stroke-opacity="0.0183" stroke-width="10.5"/>
<path d="M802.3 136.5A34.5 35.5 0 0 1 811.8 138.8M822.8 146.1A34.5 35.5 0 0 1 825.1 148.6M830.4 186.6A34.5 35.5 0 0 1 822.8 197.5M792.5 206.7A34.5 35.5 0 0 1 786.2 204.8M783.2 203.4A34.5 35.5 0 0 1 777.7 199.8M764.5 173.5A34.5 35.5 0 0 1 764.5 170.1M764.9 166.8A34.5 35.5 0 0 1 766.4 160.2" stroke-opacity="0.0207" stroke-width="4.9"/>
<path d="M802.3 136.5A34.5 35.5 0 0 1 811.8 138.8M822.8 146.1A34.5 35.5 0 0 1 825.1 148.6M830.4 186.6A34.5 35.5 0 0 1 822.8 197.5M792.5 206.7A34.5 35.5 0 0 1 786.2 204.8M783.2 203.4A34.5 35.5 0 0 1 777.7 199.8M764.5 173.5A34.5 35.5 0 0 1 764.5 170.1M764.9 166.8A34.5 35.5 0 0 1 766.4 160.2" stroke-opacity="0.0183" stroke-width="10.5"/>
<path d="M802.3 136.5A34.5 35.5 0 0 1 811.8 138.8M822.8 146.1A34.5 35.5 0 0 1 825.1 148.6M830.4 186.6A34.5 35.5 0 0 1 822.8 197.5M792.5 206.7A34.5 35.5 0 0 1 786.2 204.8M783.2 203.4A34.5 35.5 0 0 1 777.7 199.8M764.5 173.5A34.5 35.5 0 0 1 764.5 170.1M764.9 166.8A34.5 35.5 0 0 1 766.4 160.2" stroke-opacity="0.0207" stroke-width="4.9"/>
<path d="M805.5 136.9A34.5 35.5 0 0 1 811.8 138.8M830.4 186.6A34.5 35.5 0 0 1 822.8 197.5M792.5 206.7A34.5 35.5 0 0 1 786.2 204.8M780.3 201.7A34.5 35.5 0 0 1 777.7 199.8M764.5 173.5A34.5 35.5 0 0 1 764.5 170.1M764.9 166.8A34.5 35.5 0 0 1 765.5 163.5" stroke-opacity="0.0183" stroke-width="10.5"/>
<path d="M805.5 136.9A34.5 35.5 0 0 1 811.8 138.8M830.4 186.6A34.5 35.5 0 0 1 822.8 197.5M792.5 206.7A34.5 35.5 0 0 1 786.2 204.8M780.3 201.7A34.5 35.5 0 0 1 777.7 199.8M764.5 173.5A34.5 35.5 0 0 1 764.5 170.1M764.9 166.8A34.5 35.5 0 0 1 765.5 163.5" stroke-opacity="0.0207" stroke-width="4.9"/>
<path d="M808.7 137.7A34.5 35.5 0 0 1 811.8 138.8M827.1 192.4A34.5 35.5 0 0 1 825.1 195.1M789.3 205.9A34.5 35.5 0 0 1 786.2 204.8M780.3 201.7A34.5 35.5 0 0 1 777.7 199.8M764.5 173.5A34.5 35.5 0 0 1 764.5 170.1" stroke-opacity="0.0183" stroke-width="10.5"/>
<path d="M808.7 137.7A34.5 35.5 0 0 1 811.8 138.8M827.1 192.4A34.5 35.5 0 0 1 825.1 195.1M789.3 205.9A34.5 35.5 0 0 1 786.2 204.8M780.3 201.7A34.5 35.5 0 0 1 777.7 199.8M764.5 173.5A34.5 35.5 0 0 1 764.5 170.1" stroke-opacity="0.0207" stroke-width="4.9"/>
<path d="M808.7 137.7A34.5 35.5 0 0 1 811.8 138.8M827.1 192.4A34.5 35.5 0 0 1 825.1 195.1M789.3 205.9A34.5 35.5 0 0 1 786.2 204.8M764.5 173.5A34.5 35.5 0 0 1 764.5 170.1" stroke-opacity="0.0183" stroke-width="10.5"/>
<path d="M808.7 137.7A34.5 35.5 0 0 1 811.8 138.8M827.1 192.4A34.5 35.5 0 0 1 825.1 195.1M789.3 205.9A34.5 35.5 0 0 1 786.2 204.8M764.5 173.5A34.5 35.5 0 0 1 764.5 170.1" stroke-opacity="0.0207" stroke-width="4.9"/>
<path d="M808.7 137.7A34.5 35.5 0 0 1 811.8 138.8M827.1 192.4A34.5 35.5 0 0 1 825.1 195.1" stroke-opacity="0.0183" stroke-width="10.5"/>
<path d="M808.7 137.7A34.5 35.5 0 0 1 811.8 138.8M827.1 192.4A34.5 35.5 0 0 1 825.1 195.1" stroke-opacity="0.0207" stroke-width="4.9"/>
<path d="M808.7 137.7A34.5 35.5 0 0 1 811.8 138.8M827.1 192.4A34.5 35.5 0 0 1 825.1 195.1" stroke-opacity="0.0183" stroke-width="10.5"/>
<path d="M808.7 137.7A34.5 35.5 0 0 1 811.8 138.8M827.1 192.4A34.5 35.5 0 0 1 825.1 195.1" stroke-opacity="0.0207" stroke-width="4.9"/>
<path d="M808.7 137.7A34.5 35.5 0 0 1 811.8 138.8M827.1 192.4A34.5 35.5 0 0 1 825.1 195.1" stroke-opacity="0.0183" stroke-width="10.5"/>
<path d="M808.7 137.7A34.5 35.5 0 0 1 811.8 138.8M827.1 192.4A34.5 35.5 0 0 1 825.1 195.1" stroke-opacity="0.0207" stroke-width="4.9"/>
</g></g>
<path d="M790.30 169.33a7.3 7.2 0 0 1 6.5 -7.1l0.6 -0.9 0.8 0.8a7.3 7.3 0 1 1 -7.9 7.2Z" fill="#dff6ff"/>
<clipPath id="ic3"><rect x="849.90" y="127.53" width="95.6" height="87.3"/></clipPath>
<g clip-path="url(#ic3)"><g filter="url(#nf3)" fill="none" stroke="#fff">
<rect x="846.90" y="124.53" width="101.6" height="93.3" fill="#0c0c0c" stroke="none"/>
<path d="M862.7 171.8A35.0 36.1 0 1 1 932.7 171.8A35.0 36.1 0 1 1 862.7 171.8Z" stroke-opacity="0.0183" stroke-width="11.1"/>
<path d="M862.7 171.8A35.0 36.1 0 1 1 932.7 171.8A35.0 36.1 0 1 1 862.7 171.8Z" stroke-opacity="0.0207" stroke-width="5.2"/>
<path d="M862.7 171.8A35.0 36.1 0 1 1 932.7 171.8A35.0 36.1 0 1 1 862.7 171.8Z" stroke-opacity="0.0183" stroke-width="11.1"/>
<path d="M862.7 171.8A35.0 36.1 0 1 1 932.7 171.8A35.0 36.1 0 1 1 862.7 171.8Z" stroke-opacity="0.0207" stroke-width="5.2"/>
<path d="M862.7 171.8A35.0 36.1 0 1 1 932.7 171.8A35.0 36.1 0 1 1 862.7 171.8Z" stroke-opacity="0.0183" stroke-width="11.1"/>
<path d="M862.7 171.8A35.0 36.1 0 1 1 932.7 171.8A35.0 36.1 0 1 1 862.7 171.8Z" stroke-opacity="0.0207" stroke-width="5.2"/>
<path d="M910.7 138.4A35.0 36.1 0 1 1 907.6 137.2" stroke-opacity="0.0183" stroke-width="11.1"/>
<path d="M910.7 138.4A35.0 36.1 0 1 1 907.6 137.2" stroke-opacity="0.0207" stroke-width="5.2"/>
<path d="M910.7 138.4A35.0 36.1 0 0 1 921.9 145.7M924.2 148.2A35.0 36.1 0 0 1 926.2 192.7M921.9 197.9A35.0 36.1 0 0 1 919.3 200.2M916.6 202.2A35.0 36.1 0 0 1 907.6 206.4M904.3 207.2A35.0 36.1 0 0 1 884.7 138.4M887.8 137.2A35.0 36.1 0 0 1 891.1 136.4M894.4 135.9A35.0 36.1 0 0 1 907.6 137.2" stroke-opacity="0.0183" stroke-width="11.1"/>
<path d="M910.7 138.4A35.0 36.1 0 0 1 921.9 145.7M924.2 148.2A35.0 36.1 0 0 1 926.2 192.7M921.9 197.9A35.0 36.1 0 0 1 919.3 200.2M916.6 202.2A35.0 36.1 0 0 1 907.6 206.4M904.3 207.2A35.0 36.1 0 0 1 884.7 138.4M887.8 137.2A35.0 36.1 0 0 1 891.1 136.4M894.4 135.9A35.0 36.1 0 0 1 907.6 137.2" stroke-opacity="0.0207" stroke-width="5.2"/>
<path d="M910.7 138.4A35.0 36.1 0 0 1 921.9 145.7M924.2 148.2A35.0 36.1 0 0 1 926.2 192.7M921.9 197.9A35.0 36.1 0 0 1 919.3 200.2M916.6 202.2A35.0 36.1 0 0 1 907.6 206.4M904.3 207.2A35.0 36.1 0 0 1 869.2 150.9M871.2 148.2A35.0 36.1 0 0 1 878.8 141.5M881.7 139.8A35.0 36.1 0 0 1 884.7 138.4M887.8 137.2A35.0 36.1 0 0 1 891.1 136.4M894.4 135.9A35.0 36.1 0 0 1 907.6 137.2" stroke-opacity="0.0183" stroke-width="11.1"/>
<path d="M910.7 138.4A35.0 36.1 0 0 1 921.9 145.7M924.2 148.2A35.0 36.1 0 0 1 926.2 192.7M921.9 197.9A35.0 36.1 0 0 1 919.3 200.2M916.6 202.2A35.0 36.1 0 0 1 907.6 206.4M904.3 207.2A35.0 36.1 0 0 1 869.2 150.9M871.2 148.2A35.0 36.1 0 0 1 878.8 141.5M881.7 139.8A35.0 36.1 0 0 1 884.7 138.4M887.8 137.2A35.0 36.1 0 0 1 891.1 136.4M894.4 135.9A35.0 36.1 0 0 1 907.6 137.2" stroke-opacity="0.0207" stroke-width="5.2"/>
<path d="M910.7 138.4A35.0 36.1 0 0 1 921.9 145.7M924.2 148.2A35.0 36.1 0 0 1 926.2 192.7M921.9 197.9A35.0 36.1 0 0 1 919.3 200.2M916.6 202.2A35.0 36.1 0 0 1 907.6 206.4M904.3 207.2A35.0 36.1 0 0 1 878.8 202.2M873.5 197.9A35.0 36.1 0 0 1 869.2 150.9M871.2 148.2A35.0 36.1 0 0 1 878.8 141.5M881.7 139.8A35.0 36.1 0 0 1 884.7 138.4M887.8 137.2A35.0 36.1 0 0 1 891.1 136.4M894.4 135.9A35.0 36.1 0 0 1 907.6 137.2" stroke-opacity="0.0183" stroke-width="11.1"/>
<path d="M910.7 138.4A35.0 36.1 0 0 1 921.9 145.7M924.2 148.2A35.0 36.1 0 0 1 926.2 192.7M921.9 197.9A35.0 36.1 0 0 1 919.3 200.2M916.6 202.2A35.0 36.1 0 0 1 907.6 206.4M904.3 207.2A35.0 36.1 0 0 1 878.8 202.2M873.5 197.9A35.0 36.1 0 0 1 869.2 150.9M871.2 148.2A35.0 36.1 0 0 1 878.8 141.5M881.7 139.8A35.0 36.1 0 0 1 884.7 138.4M887.8 137.2A35.0 36.1 0 0 1 891.1 136.4M894.4 135.9A35.0 36.1 0 0 1 907.6 137.2" stroke-opacity="0.0207" stroke-width="5.2"/>
<path d="M910.7 138.4A35.0 36.1 0 0 1 916.6 141.5M924.2 148.2A35.0 36.1 0 0 1 928.0 153.8M929.5 156.9A35.0 36.1 0 0 1 926.2 192.7M921.9 197.9A35.0 36.1 0 0 1 919.3 200.2M913.7 203.9A35.0 36.1 0 0 1 907.6 206.4M904.3 207.2A35.0 36.1 0 0 1 878.8 202.2M873.5 197.9A35.0 36.1 0 0 1 863.1 166.7M863.7 163.3A35.0 36.1 0 0 1 869.2 150.9M871.2 148.2A35.0 36.1 0 0 1 878.8 141.5M881.7 139.8A35.0 36.1 0 0 1 884.7 138.4M887.8 137.2A35.0 36.1 0 0 1 891.1 136.4M894.4 135.9A35.0 36.1 0 0 1 904.3 136.4" stroke-opacity="0.0183" stroke-width="11.1"/>
<path d="M910.7 138.4A35.0 36.1 0 0 1 916.6 141.5M924.2 148.2A35.0 36.1 0 0 1 928.0 153.8M929.5 156.9A35.0 36.1 0 0 1 926.2 192.7M921.9 197.9A35.0 36.1 0 0 1 919.3 200.2M913.7 203.9A35.0 36.1 0 0 1 907.6 206.4M904.3 207.2A35.0 36.1 0 0 1 878.8 202.2M873.5 197.9A35.0 36.1 0 0 1 863.1 166.7M863.7 163.3A35.0 36.1 0 0 1 869.2 150.9M871.2 148.2A35.0 36.1 0 0 1 878.8 141.5M881.7 139.8A35.0 36.1 0 0 1 884.7 138.4M887.8 137.2A35.0 36.1 0 0 1 891.1 136.4M894.4 135.9A35.0 36.1 0 0 1 904.3 136.4" stroke-opacity="0.0207" stroke-width="5.2"/>
<path d="M913.7 139.8A35.0 36.1 0 0 1 916.6 141.5M924.2 148.2A35.0 36.1 0 0 1 928.0 153.8M929.5 156.9A35.0 36.1 0 0 1 926.2 192.7M921.9 197.9A35.0 36.1 0 0 1 919.3 200.2M913.7 203.9A35.0 36.1 0 0 1 907.6 206.4M901.0 207.7A35.0 36.1 0 0 1 878.8 202.2M873.5 197.9A35.0 36.1 0 0 1 863.1 166.7M863.7 163.3A35.0 36.1 0 0 1 869.2 150.9M871.2 148.2A35.0 36.1 0 0 1 876.1 143.5M887.8 137.2A35.0 36.1 0 0 1 891.1 136.4M894.4 135.9A35.0 36.1 0 0 1 901.0 135.9" stroke-opacity="0.0183" stroke-width="11.1"/>
<path d="M913.7 139.8A35.0 36.1 0 0 1 916.6 141.5M924.2 148.2A35.0 36.1 0 0 1 928.0 153.8M929.5 156.9A35.0 36.1 0 0 1 926.2 192.7M921.9 197.9A35.0 36.1 0 0 1 919.3 200.2M913.7 203.9A35.0 36.1 0 0 1 907.6 206.4M901.0 207.7A35.0 36.1 0 0 1 878.8 202.2M873.5 197.9A35.0 36.1 0 0 1 863.1 166.7M863.7 163.3A35.0 36.1 0 0 1 869.2 150.9M871.2 148.2A35.0 36.1 0 0 1 876.1 143.5M887.8 137.2A35.0 36.1 0 0 1 891.1 136.4M894.4 135.9A35.0 36.1 0 0 1 901.0 135.9" stroke-opacity="0.0207" stroke-width="5.2"/>
<path d="M924.2 148.2A35.0 36.1 0 0 1 926.2 150.9M929.5 156.9A35.0 36.1 0 0 1 928.0 189.9M921.9 197.9A35.0 36.1 0 0 1 919.3 200.2M913.7 203.9A35.0 36.1 0 0 1 907.6 206.4M901.0 207.7A35.0 36.1 0 0 1 878.8 202.2M873.5 197.9A35.0 36.1 0 0 1 863.1 166.7M863.7 163.3A35.0 36.1 0 0 1 869.2 150.9M871.2 148.2A35.0 36.1 0 0 1 876.1 143.5M887.8 137.2A35.0 36.1 0 0 1 891.1 136.4M894.4 135.9A35.0 36.1 0 0 1 901.0 135.9" stroke-opacity="0.0183" stroke-width="11.1"/>
<path d="M924.2 148.2A35.0 36.1 0 0 1 926.2 150.9M929.5 156.9A35.0 36.1 0 0 1 928.0 189.9M921.9 197.9A35.0 36.1 0 0 1 919.3 200.2M913.7 203.9A35.0 36.1 0 0 1 907.6 206.4M901.0 207.7A35.0 36.1 0 0 1 878.8 202.2M873.5 197.9A35.0 36.1 0 0 1 863.1 166.7M863.7 163.3A35.0 36.1 0 0 1 869.2 150.9M871.2 148.2A35.0 36.1 0 0 1 876.1 143.5M887.8 137.2A35.0 36.1 0 0 1 891.1 136.4M894.4 135.9A35.0 36.1 0 0 1 901.0 135.9" stroke-opacity="0.0207" stroke-width="5.2"/>
<path d="M897.7 135.8A35.0 36.1 0 0 1 901.0 135.9M924.2 148.2A35.0 36.1 0 0 1 926.2 150.9M929.5 156.9A35.0 36.1 0 0 1 932.3 166.7M932.7 170.1A35.0 36.1 0 0 1 928.0 189.9M921.9 197.9A35.0 36.1 0 0 1 919.3 200.2M913.7 203.9A35.0 36.1 0 0 1 907.6 206.4M894.4 207.7A35.0 36.1 0 0 1 878.8 202.2M873.5 197.9A35.0 36.1 0 0 1 863.1 166.7M863.7 163.3A35.0 36.1 0 0 1 869.2 150.9M873.5 145.7A35.0 36.1 0 0 1 876.1 143.5M887.8 137.2A35.0 36.1 0 0 1 891.1 136.4" stroke-opacity="0.0183" stroke-width="11.1"/>
<path d="M897.7 135.8A35.0 36.1 0 0 1 901.0 135.9M924.2 148.2A35.0 36.1 0 0 1 926.2 150.9M929.5 156.9A35.0 36.1 0 0 1 932.3 166.7M932.7 170.1A35.0 36.1 0 0 1 928.0 189.9M921.9 197.9A35.0 36.1 0 0 1 919.3 200.2M913.7 203.9A35.0 36.1 0 0 1 907.6 206.4M894.4 207.7A35.0 36.1 0 0 1 878.8 202.2M873.5 197.9A35.0 36.1 0 0 1 863.1 166.7M863.7 163.3A35.0 36.1 0 0 1 869.2 150.9M873.5 145.7A35.0 36.1 0 0 1 876.1 143.5M887.8 137.2A35.0 36.1 0 0 1 891.1 136.4" stroke-opacity="0.0207" stroke-width="5.2"/>
<path d="M924.2 148.2A35.0 36.1 0 0 1 926.2 150.9M932.7 170.1A35.0 36.1 0 0 1 928.0 189.9M921.9 197.9A35.0 36.1 0 0 1 919.3 200.2M910.7 205.3A35.0 36.1 0 0 1 907.6 206.4M894.4 207.7A35.0 36.1 0 0 1 878.8 202.2M873.5 197.9A35.0 36.1 0 0 1 871.2 195.4M869.2 192.7A35.0 36.1 0 0 1 863.1 166.7M863.7 163.3A35.0 36.1 0 0 1 869.2 150.9M887.8 137.2A35.0 36.1 0 0 1 891.1 136.4" stroke-opacity="0.0183" stroke-width="11.1"/>
<path d="M924.2 148.2A35.0 36.1 0 0 1 926.2 150.9M932.7 170.1A35.0 36.1 0 0 1 928.0 189.9M921.9 197.9A35.0 36.1 0 0 1 919.3 200.2M910.7 205.3A35.0 36.1 0 0 1 907.6 206.4M894.4 207.7A35.0 36.1 0 0 1 878.8 202.2M873.5 197.9A35.0 36.1 0 0 1 871.2 195.4M869.2 192.7A35.0 36.1 0 0 1 863.1 166.7M863.7 163.3A35.0 36.1 0 0 1 869.2 150.9M887.8 137.2A35.0 36.1 0 0 1 891.1 136.4" stroke-opacity="0.0207" stroke-width="5.2"/>
<path d="M932.7 173.5A35.0 36.1 0 0 1 928.0 189.9M910.7 205.3A35.0 36.1 0 0 1 907.6 206.4M894.4 207.7A35.0 36.1 0 0 1 878.8 202.2M869.2 192.7A35.0 36.1 0 0 1 863.1 166.7M863.7 163.3A35.0 36.1 0 0 1 867.4 153.8" stroke-opacity="0.0183" stroke-width="11.1"/>
<path d="M932.7 173.5A35.0 36.1 0 0 1 928.0 189.9M910.7 205.3A35.0 36.1 0 0 1 907.6 206.4M894.4 207.7A35.0 36.1 0 0 1 878.8 202.2M869.2 192.7A35.0 36.1 0 0 1 863.1 166.7M863.7 163.3A35.0 36.1 0 0 1 867.4 153.8" stroke-opacity="0.0207" stroke-width="5.2"/>
<path d="M932.7 173.5A35.0 36.1 0 0 1 930.8 183.6M929.5 186.8A35.0 36.1 0 0 1 928.0 189.9M910.7 205.3A35.0 36.1 0 0 1 907.6 206.4M894.4 207.7A35.0 36.1 0 0 1 878.8 202.2M869.2 192.7A35.0 36.1 0 0 1 864.6 183.6M863.7 180.3A35.0 36.1 0 0 1 863.1 166.7M863.7 163.3A35.0 36.1 0 0 1 867.4 153.8" stroke-opacity="0.0183" stroke-width="11.1"/>
<path d="M932.7 173.5A35.0 36.1 0 0 1 930.8 183.6M929.5 186.8A35.0 36.1 0 0 1 928.0 189.9M910.7 205.3A35.0 36.1 0 0 1 907.6 206.4M894.4 207.7A35.0 36.1 0 0 1 878.8 202.2M869.2 192.7A35.0 36.1 0 0 1 864.6 183.6M863.7 180.3A35.0 36.1 0 0 1 863.1 166.7M863.7 163.3A35.0 36.1 0 0 1 867.4 153.8" stroke-opacity="0.0207" stroke-width="5.2"/>
<path d="M932.3 177.0A35.0 36.1 0 0 1 930.8 183.6M910.7 205.3A35.0 36.1 0 0 1 907.6 206.4M891.1 207.2A35.0 36.1 0 0 1 878.8 202.2M869.2 192.7A35.0 36.1 0 0 1 864.6 183.6M863.7 180.3A35.0 36.1 0 0 1 862.7 173.5M862.7 170.1A35.0 36.1 0 0 1 863.1 166.7M863.7 163.3A35.0 36.1 0 0 1 867.4 153.8" stroke-opacity="0.0183" stroke-width="11.1"/>
<path d="M932.3 177.0A35.0 36.1 0 0 1 930.8 183.6M910.7 205.3A35.0 36.1 0 0 1 907.6 206.4M891.1 207.2A35.0 36.1 0 0 1 878.8 202.2M869.2 192.7A35.0 36.1 0 0 1 864.6 183.6M863.7 180.3A35.0 36.1 0 0 1 862.7 173.5M862.7 170.1A35.0 36.1 0 0 1 863.1 166.7M863.7 163.3A35.0 36.1 0 0 1 867.4 153.8" stroke-opacity="0.0207" stroke-width="5.2"/>
<path d="M932.3 177.0A35.0 36.1 0 0 1 930.8 183.6M910.7 205.3A35.0 36.1 0 0 1 907.6 206.4M891.1 207.2A35.0 36.1 0 0 1 878.8 202.2M869.2 192.7A35.0 36.1 0 0 1 867.4 189.9M865.9 186.8A35.0 36.1 0 0 1 864.6 183.6M863.7 180.3A35.0 36.1 0 0 1 862.7 173.5M862.7 170.1A35.0 36.1 0 0 1 863.1 166.7M863.7 163.3A35.0 36.1 0 0 1 867.4 153.8" stroke-opacity="0.0183" stroke-width="11.1"/>
<path d="M932.3 177.0A35.0 36.1 0 0 1 930.8 183.6M910.7 205.3A35.0 36.1 0 0 1 907.6 206.4M891.1 207.2A35.0 36.1 0 0 1 878.8 202.2M869.2 192.7A35.0 36.1 0 0 1 867.4 189.9M865.9 186.8A35.0 36.1 0 0 1 864.6 183.6M863.7 180.3A35.0 36.1 0 0 1 862.7 173.5M862.7 170.1A35.0 36.1 0 0 1 863.1 166.7M863.7 163.3A35.0 36.1 0 0 1 867.4 153.8" stroke-opacity="0.0207" stroke-width="5.2"/>
<path d="M891.1 207.2A35.0 36.1 0 0 1 887.8 206.4M884.7 205.3A35.0 36.1 0 0 1 878.8 202.2M869.2 192.7A35.0 36.1 0 0 1 867.4 189.9M862.7 170.1A35.0 36.1 0 0 1 863.1 166.7M863.7 163.3A35.0 36.1 0 0 1 864.6 160.0M865.9 156.9A35.0 36.1 0 0 1 867.4 153.8" stroke-opacity="0.0183" stroke-width="11.1"/>
<path d="M891.1 207.2A35.0 36.1 0 0 1 887.8 206.4M884.7 205.3A35.0 36.1 0 0 1 878.8 202.2M869.2 192.7A35.0 36.1 0 0 1 867.4 189.9M862.7 170.1A35.0 36.1 0 0 1 863.1 166.7M863.7 163.3A35.0 36.1 0 0 1 864.6 160.0M865.9 156.9A35.0 36.1 0 0 1 867.4 153.8" stroke-opacity="0.0207" stroke-width="5.2"/>
<path d="M884.7 205.3A35.0 36.1 0 0 1 878.8 202.2M862.7 170.1A35.0 36.1 0 0 1 863.1 166.7M863.7 163.3A35.0 36.1 0 0 1 864.6 160.0M865.9 156.9A35.0 36.1 0 0 1 867.4 153.8" stroke-opacity="0.0183" stroke-width="11.1"/>
<path d="M884.7 205.3A35.0 36.1 0 0 1 878.8 202.2M862.7 170.1A35.0 36.1 0 0 1 863.1 166.7M863.7 163.3A35.0 36.1 0 0 1 864.6 160.0M865.9 156.9A35.0 36.1 0 0 1 867.4 153.8" stroke-opacity="0.0207" stroke-width="5.2"/>
<path d="M884.7 205.3A35.0 36.1 0 0 1 878.8 202.2M865.9 156.9A35.0 36.1 0 0 1 867.4 153.8" stroke-opacity="0.0183" stroke-width="11.1"/>
<path d="M884.7 205.3A35.0 36.1 0 0 1 878.8 202.2M865.9 156.9A35.0 36.1 0 0 1 867.4 153.8" stroke-opacity="0.0207" stroke-width="5.2"/>
<path d="M884.7 205.3A35.0 36.1 0 0 1 881.7 203.9M865.9 156.9A35.0 36.1 0 0 1 867.4 153.8" stroke-opacity="0.0183" stroke-width="11.1"/>
<path d="M884.7 205.3A35.0 36.1 0 0 1 881.7 203.9M865.9 156.9A35.0 36.1 0 0 1 867.4 153.8" stroke-opacity="0.0207" stroke-width="5.2"/>
<path d="M884.7 205.3A35.0 36.1 0 0 1 881.7 203.9M865.9 156.9A35.0 36.1 0 0 1 867.4 153.8" stroke-opacity="0.0183" stroke-width="11.1"/>
<path d="M884.7 205.3A35.0 36.1 0 0 1 881.7 203.9M865.9 156.9A35.0 36.1 0 0 1 867.4 153.8" stroke-opacity="0.0207" stroke-width="5.2"/>
<path d="M884.7 205.3A35.0 36.1 0 0 1 881.7 203.9M865.9 156.9A35.0 36.1 0 0 1 867.4 153.8" stroke-opacity="0.0183" stroke-width="11.1"/>
<path d="M884.7 205.3A35.0 36.1 0 0 1 881.7 203.9M865.9 156.9A35.0 36.1 0 0 1 867.4 153.8" stroke-opacity="0.0207" stroke-width="5.2"/>
<path d="M884.7 205.3A35.0 36.1 0 0 1 881.7 203.9M865.9 156.9A35.0 36.1 0 0 1 867.4 153.8" stroke-opacity="0.0183" stroke-width="11.1"/>
<path d="M884.7 205.3A35.0 36.1 0 0 1 881.7 203.9M865.9 156.9A35.0 36.1 0 0 1 867.4 153.8" stroke-opacity="0.0207" stroke-width="5.2"/>
<path d="M884.7 205.3A35.0 36.1 0 0 1 881.7 203.9M865.9 156.9A35.0 36.1 0 0 1 867.4 153.8" stroke-opacity="0.0183" stroke-width="11.1"/>
<path d="M884.7 205.3A35.0 36.1 0 0 1 881.7 203.9M865.9 156.9A35.0 36.1 0 0 1 867.4 153.8" stroke-opacity="0.0207" stroke-width="5.2"/>
<path d="M865.9 156.9A35.0 36.1 0 0 1 867.4 153.8" stroke-opacity="0.0183" stroke-width="11.1"/>
<path d="M865.9 156.9A35.0 36.1 0 0 1 867.4 153.8" stroke-opacity="0.0207" stroke-width="5.2"/>
</g></g>
<path d="M889.00 169.33a7.3 7.2 0 0 1 6.5 -7.1l0.6 -0.9 0.8 0.8a7.3 7.3 0 1 1 -7.9 7.2Z" fill="#dff6ff"/>
<clipPath id="ic4"><rect x="751.20" y="217.76" width="95.6" height="87.3"/></clipPath>
<g clip-path="url(#ic4)"><g filter="url(#nf4)" fill="none" stroke="#fff">
<rect x="748.20" y="214.76" width="101.6" height="93.3" fill="#0c0c0c" stroke="none"/>
<path d="M764.0 262.1A35.0 36.1 0 1 1 834.0 262.1A35.0 36.1 0 1 1 764.0 262.1Z" stroke-opacity="0.0183" stroke-width="12.0"/>
<path d="M764.0 262.1A35.0 36.1 0 1 1 834.0 262.1A35.0 36.1 0 1 1 764.0 262.1Z" stroke-opacity="0.0207" stroke-width="5.6"/>
<path d="M764.0 262.1A35.0 36.1 0 1 1 834.0 262.1A35.0 36.1 0 1 1 764.0 262.1Z" stroke-opacity="0.0183" stroke-width="12.0"/>
<path d="M764.0 262.1A35.0 36.1 0 1 1 834.0 262.1A35.0 36.1 0 1 1 764.0 262.1Z" stroke-opacity="0.0207" stroke-width="5.6"/>
<path d="M764.0 262.1A35.0 36.1 0 1 1 834.0 262.1A35.0 36.1 0 1 1 764.0 262.1Z" stroke-opacity="0.0183" stroke-width="12.0"/>
<path d="M764.0 262.1A35.0 36.1 0 1 1 834.0 262.1A35.0 36.1 0 1 1 764.0 262.1Z" stroke-opacity="0.0207" stroke-width="5.6"/>
<path d="M764.0 262.1A35.0 36.1 0 1 1 834.0 262.1A35.0 36.1 0 1 1 764.0 262.1Z" stroke-opacity="0.0183" stroke-width="12.0"/>
<path d="M764.0 262.1A35.0 36.1 0 1 1 834.0 262.1A35.0 36.1 0 1 1 764.0 262.1Z" stroke-opacity="0.0207" stroke-width="5.6"/>
<path d="M764.0 262.1A35.0 36.1 0 1 1 834.0 262.1A35.0 36.1 0 1 1 764.0 262.1Z" stroke-opacity="0.0183" stroke-width="12.0"/>
<path d="M764.0 262.1A35.0 36.1 0 1 1 834.0 262.1A35.0 36.1 0 1 1 764.0 262.1Z" stroke-opacity="0.0207" stroke-width="5.6"/>
<path d="M764.0 262.1A35.0 36.1 0 1 1 834.0 262.1A35.0 36.1 0 1 1 764.0 262.1Z" stroke-opacity="0.0183" stroke-width="12.0"/>
<path d="M764.0 262.1A35.0 36.1 0 1 1 834.0 262.1A35.0 36.1 0 1 1 764.0 262.1Z" stroke-opacity="0.0207" stroke-width="5.6"/>
<path d="M808.9 296.6A35.0 36.1 0 1 1 812.0 295.5" stroke-opacity="0.0183" stroke-width="12.0"/>
<path d="M808.9 296.6A35.0 36.1 0 1 1 812.0 295.5" stroke-opacity="0.0207" stroke-width="5.6"/>
<path d="M808.9 296.6A35.0 36.1 0 0 1 777.4 233.7M780.1 231.7A35.0 36.1 0 1 1 812.0 295.5" stroke-opacity="0.0183" stroke-width="12.0"/>
<path d="M808.9 296.6A35.0 36.1 0 0 1 777.4 233.7M780.1 231.7A35.0 36.1 0 1 1 812.0 295.5" stroke-opacity="0.0207" stroke-width="5.6"/>
<path d="M808.9 296.6A35.0 36.1 0 0 1 780.1 292.4M777.4 290.4A35.0 36.1 0 0 1 770.5 283.0M768.7 280.1A35.0 36.1 0 0 1 777.4 233.7M780.1 231.7A35.0 36.1 0 1 1 812.0 295.5" stroke-opacity="0.0183" stroke-width="12.0"/>
<path d="M808.9 296.6A35.0 36.1 0 0 1 780.1 292.4M777.4 290.4A35.0 36.1 0 0 1 770.5 283.0M768.7 280.1A35.0 36.1 0 0 1 777.4 233.7M780.1 231.7A35.0 36.1 0 1 1 812.0 295.5" stroke-opacity="0.0207" stroke-width="5.6"/>
<path d="M834.0 260.3A35.0 36.1 0 0 1 812.0 295.5M808.9 296.6A35.0 36.1 0 0 1 780.1 292.4M777.4 290.4A35.0 36.1 0 0 1 770.5 283.0M768.7 280.1A35.0 36.1 0 0 1 777.4 233.7M783.0 230.0A35.0 36.1 0 0 1 833.6 256.9" stroke-opacity="0.0183" stroke-width="12.0"/>
<path d="M834.0 260.3A35.0 36.1 0 0 1 812.0 295.5M808.9 296.6A35.0 36.1 0 0 1 780.1 292.4M777.4 290.4A35.0 36.1 0 0 1 770.5 283.0M768.7 280.1A35.0 36.1 0 0 1 777.4 233.7M783.0 230.0A35.0 36.1 0 0 1 833.6 256.9" stroke-opacity="0.0207" stroke-width="5.6"/>
<path d="M832.1 250.3A35.0 36.1 0 0 1 833.6 256.9M834.0 260.3A35.0 36.1 0 0 1 812.0 295.5M808.9 296.6A35.0 36.1 0 0 1 780.1 292.4M774.8 288.2A35.0 36.1 0 0 1 770.5 283.0M768.7 280.1A35.0 36.1 0 0 1 777.4 233.7M783.0 230.0A35.0 36.1 0 0 1 830.8 247.1" stroke-opacity="0.0183" stroke-width="12.0"/>
<path d="M832.1 250.3A35.0 36.1 0 0 1 833.6 256.9M834.0 260.3A35.0 36.1 0 0 1 812.0 295.5M808.9 296.6A35.0 36.1 0 0 1 780.1 292.4M774.8 288.2A35.0 36.1 0 0 1 770.5 283.0M768.7 280.1A35.0 36.1 0 0 1 777.4 233.7M783.0 230.0A35.0 36.1 0 0 1 830.8 247.1" stroke-opacity="0.0207" stroke-width="5.6"/>
<path d="M799.0 226.0A35.0 36.1 0 0 1 830.8 247.1M832.1 250.3A35.0 36.1 0 0 1 833.6 256.9M834.0 260.3A35.0 36.1 0 0 1 833.6 267.2M830.8 277.0A35.0 36.1 0 0 1 812.0 295.5M808.9 296.6A35.0 36.1 0 0 1 780.1 292.4M774.8 288.2A35.0 36.1 0 0 1 770.5 283.0M768.7 280.1A35.0 36.1 0 0 1 777.4 233.7M783.0 230.0A35.0 36.1 0 0 1 795.7 226.2" stroke-opacity="0.0183" stroke-width="12.0"/>
<path d="M799.0 226.0A35.0 36.1 0 0 1 830.8 247.1M832.1 250.3A35.0 36.1 0 0 1 833.6 256.9M834.0 260.3A35.0 36.1 0 0 1 833.6 267.2M830.8 277.0A35.0 36.1 0 0 1 812.0 295.5M808.9 296.6A35.0 36.1 0 0 1 780.1 292.4M774.8 288.2A35.0 36.1 0 0 1 770.5 283.0M768.7 280.1A35.0 36.1 0 0 1 777.4 233.7M783.0 230.0A35.0 36.1 0 0 1 795.7 226.2" stroke-opacity="0.0207" stroke-width="5.6"/>
<path d="M799.0 226.0A35.0 36.1 0 0 1 830.8 247.1M832.1 250.3A35.0 36.1 0 0 1 833.6 256.9M834.0 263.8A35.0 36.1 0 0 1 833.6 267.2M830.8 277.0A35.0 36.1 0 0 1 829.3 280.1M827.5 283.0A35.0 36.1 0 0 1 812.0 295.5M808.9 296.6A35.0 36.1 0 0 1 780.1 292.4M774.8 288.2A35.0 36.1 0 0 1 770.5 283.0M768.7 280.1A35.0 36.1 0 0 1 768.7 244.0M770.5 241.1A35.0 36.1 0 0 1 777.4 233.7M783.0 230.0A35.0 36.1 0 0 1 795.7 226.2" stroke-opacity="0.0183" stroke-width="12.0"/>
<path d="M799.0 226.0A35.0 36.1 0 0 1 830.8 247.1M832.1 250.3A35.0 36.1 0 0 1 833.6 256.9M834.0 263.8A35.0 36.1 0 0 1 833.6 267.2M830.8 277.0A35.0 36.1 0 0 1 829.3 280.1M827.5 283.0A35.0 36.1 0 0 1 812.0 295.5M808.9 296.6A35.0 36.1 0 0 1 780.1 292.4M774.8 288.2A35.0 36.1 0 0 1 770.5 283.0M768.7 280.1A35.0 36.1 0 0 1 768.7 244.0M770.5 241.1A35.0 36.1 0 0 1 777.4 233.7M783.0 230.0A35.0 36.1 0 0 1 795.7 226.2" stroke-opacity="0.0207" stroke-width="5.6"/>
<path d="M799.0 226.0A35.0 36.1 0 0 1 812.0 228.6M815.0 230.0A35.0 36.1 0 0 1 820.6 233.7M823.2 236.0A35.0 36.1 0 0 1 830.8 247.1M832.1 250.3A35.0 36.1 0 0 1 833.6 256.9M834.0 263.8A35.0 36.1 0 0 1 833.6 267.2M830.8 277.0A35.0 36.1 0 0 1 829.3 280.1M827.5 283.0A35.0 36.1 0 0 1 812.0 295.5M808.9 296.6A35.0 36.1 0 0 1 783.0 294.1M774.8 288.2A35.0 36.1 0 0 1 770.5 283.0M768.7 280.1A35.0 36.1 0 0 1 768.7 244.0M770.5 241.1A35.0 36.1 0 0 1 774.8 236.0M783.0 230.0A35.0 36.1 0 0 1 789.1 227.5M792.4 226.7A35.0 36.1 0 0 1 795.7 226.2" stroke-opacity="0.0183" stroke-width="12.0"/>
<path d="M799.0 226.0A35.0 36.1 0 0 1 812.0 228.6M815.0 230.0A35.0 36.1 0 0 1 820.6 233.7M823.2 236.0A35.0 36.1 0 0 1 830.8 247.1M832.1 250.3A35.0 36.1 0 0 1 833.6 256.9M834.0 263.8A35.0 36.1 0 0 1 833.6 267.2M830.8 277.0A35.0 36.1 0 0 1 829.3 280.1M827.5 283.0A35.0 36.1 0 0 1 812.0 295.5M808.9 296.6A35.0 36.1 0 0 1 783.0 294.1M774.8 288.2A35.0 36.1 0 0 1 770.5 283.0M768.7 280.1A35.0 36.1 0 0 1 768.7 244.0M770.5 241.1A35.0 36.1 0 0 1 774.8 236.0M783.0 230.0A35.0 36.1 0 0 1 789.1 227.5M792.4 226.7A35.0 36.1 0 0 1 795.7 226.2" stroke-opacity="0.0207" stroke-width="5.6"/>
<path d="M799.0 226.0A35.0 36.1 0 0 1 808.9 227.5M815.0 230.0A35.0 36.1 0 0 1 820.6 233.7M823.2 236.0A35.0 36.1 0 0 1 830.8 247.1M832.1 250.3A35.0 36.1 0 0 1 833.6 256.9M834.0 263.8A35.0 36.1 0 0 1 833.6 267.2M830.8 277.0A35.0 36.1 0 0 1 829.3 280.1M825.5 285.7A35.0 36.1 0 0 1 812.0 295.5M808.9 296.6A35.0 36.1 0 0 1 783.0 294.1M774.8 288.2A35.0 36.1 0 0 1 770.5 283.0M768.7 280.1A35.0 36.1 0 0 1 768.7 244.0M770.5 241.1A35.0 36.1 0 0 1 774.8 236.0M786.0 228.6A35.0 36.1 0 0 1 789.1 227.5M792.4 226.7A35.0 36.1 0 0 1 795.7 226.2" stroke-opacity="0.0183" stroke-width="12.0"/>
<path d="M799.0 226.0A35.0 36.1 0 0 1 808.9 227.5M815.0 230.0A35.0 36.1 0 0 1 820.6 233.7M823.2 236.0A35.0 36.1 0 0 1 830.8 247.1M832.1 250.3A35.0 36.1 0 0 1 833.6 256.9M834.0 263.8A35.0 36.1 0 0 1 833.6 267.2M830.8 277.0A35.0 36.1 0 0 1 829.3 280.1M825.5 285.7A35.0 36.1 0 0 1 812.0 295.5M808.9 296.6A35.0 36.1 0 0 1 783.0 294.1M774.8 288.2A35.0 36.1 0 0 1 770.5 283.0M768.7 280.1A35.0 36.1 0 0 1 768.7 244.0M770.5 241.1A35.0 36.1 0 0 1 774.8 236.0M786.0 228.6A35.0 36.1 0 0 1 789.1 227.5M792.4 226.7A35.0 36.1 0 0 1 795.7 226.2" stroke-opacity="0.0207" stroke-width="5.6"/>
<path d="M799.0 226.0A35.0 36.1 0 0 1 808.9 227.5M815.0 230.0A35.0 36.1 0 0 1 820.6 233.7M823.2 236.0A35.0 36.1 0 0 1 830.8 247.1M832.1 250.3A35.0 36.1 0 0 1 833.6 256.9M834.0 263.8A35.0 36.1 0 0 1 833.6 267.2M830.8 277.0A35.0 36.1 0 0 1 829.3 280.1M825.5 285.7A35.0 36.1 0 0 1 812.0 295.5M808.9 296.6A35.0 36.1 0 0 1 783.0 294.1M774.8 288.2A35.0 36.1 0 0 1 770.5 283.0M768.7 280.1A35.0 36.1 0 0 1 768.7 244.0M770.5 241.1A35.0 36.1 0 0 1 774.8 236.0M786.0 228.6A35.0 36.1 0 0 1 789.1 227.5M792.4 226.7A35.0 36.1 0 0 1 795.7 226.2" stroke-opacity="0.0183" stroke-width="12.0"/>
<path d="M799.0 226.0A35.0 36.1 0 0 1 808.9 227.5M815.0 230.0A35.0 36.1 0 0 1 820.6 233.7M823.2 236.0A35.0 36.1 0 0 1 830.8 247.1M832.1 250.3A35.0 36.1 0 0 1 833.6 256.9M834.0 263.8A35.0 36.1 0 0 1 833.6 267.2M830.8 277.0A35.0 36.1 0 0 1 829.3 280.1M825.5 285.7A35.0 36.1 0 0 1 812.0 295.5M808.9 296.6A35.0 36.1 0 0 1 783.0 294.1M774.8 288.2A35.0 36.1 0 0 1 770.5 283.0M768.7 280.1A35.0 36.1 0 0 1 768.7 244.0M770.5 241.1A35.0 36.1 0 0 1 774.8 236.0M786.0 228.6A35.0 36.1 0 0 1 789.1 227.5M792.4 226.7A35.0 36.1 0 0 1 795.7 226.2" stroke-opacity="0.0207" stroke-width="5.6"/>
<path d="M799.0 226.0A35.0 36.1 0 0 1 808.9 227.5M815.0 230.0A35.0 36.1 0 0 1 817.9 231.7M823.2 236.0A35.0 36.1 0 0 1 830.8 247.1M832.1 250.3A35.0 36.1 0 0 1 833.6 256.9M834.0 263.8A35.0 36.1 0 0 1 833.6 267.2M830.8 277.0A35.0 36.1 0 0 1 829.3 280.1M825.5 285.7A35.0 36.1 0 0 1 812.0 295.5M808.9 296.6A35.0 36.1 0 0 1 783.0 294.1M774.8 288.2A35.0 36.1 0 0 1 770.5 283.0M768.7 280.1A35.0 36.1 0 0 1 768.7 244.0M770.5 241.1A35.0 36.1 0 0 1 774.8 236.0M786.0 228.6A35.0 36.1 0 0 1 789.1 227.5M792.4 226.7A35.0 36.1 0 0 1 795.7 226.2" stroke-opacity="0.0183" stroke-width="12.0"/>
<path d="M799.0 226.0A35.0 36.1 0 0 1 808.9 227.5M815.0 230.0A35.0 36.1 0 0 1 817.9 231.7M823.2 236.0A35.0 36.1 0 0 1 830.8 247.1M832.1 250.3A35.0 36.1 0 0 1 833.6 256.9M834.0 263.8A35.0 36.1 0 0 1 833.6 267.2M830.8 277.0A35.0 36.1 0 0 1 829.3 280.1M825.5 285.7A35.0 36.1 0 0 1 812.0 295.5M808.9 296.6A35.0 36.1 0 0 1 783.0 294.1M774.8 288.2A35.0 36.1 0 0 1 770.5 283.0M768.7 280.1A35.0 36.1 0 0 1 768.7 244.0M770.5 241.1A35.0 36.1 0 0 1 774.8 236.0M786.0 228.6A35.0 36.1 0 0 1 789.1 227.5M792.4 226.7A35.0 36.1 0 0 1 795.7 226.2" stroke-opacity="0.0207" stroke-width="5.6"/>
<path d="M799.0 226.0A35.0 36.1 0 0 1 802.3 226.2M805.6 226.7A35.0 36.1 0 0 1 808.9 227.5M815.0 230.0A35.0 36.1 0 0 1 817.9 231.7M823.2 236.0A35.0 36.1 0 0 1 829.3 244.0M832.1 250.3A35.0 36.1 0 0 1 833.6 256.9M834.0 263.8A35.0 36.1 0 0 1 833.6 267.2M830.8 277.0A35.0 36.1 0 0 1 829.3 280.1M823.2 288.2A35.0 36.1 0 0 1 812.0 295.5M808.9 296.6A35.0 36.1 0 0 1 783.0 294.1M774.8 288.2A35.0 36.1 0 0 1 770.5 283.0M768.7 280.1A35.0 36.1 0 0 1 768.7 244.0M770.5 241.1A35.0 36.1 0 0 1 774.8 236.0M792.4 226.7A35.0 36.1 0 0 1 795.7 226.2" stroke-opacity="0.0183" stroke-width="12.0"/>
<path d="M799.0 226.0A35.0 36.1 0 0 1 802.3 226.2M805.6 226.7A35.0 36.1 0 0 1 808.9 227.5M815.0 230.0A35.0 36.1 0 0 1 817.9 231.7M823.2 236.0A35.0 36.1 0 0 1 829.3 244.0M832.1 250.3A35.0 36.1 0 0 1 833.6 256.9M834.0 263.8A35.0 36.1 0 0 1 833.6 267.2M830.8 277.0A35.0 36.1 0 0 1 829.3 280.1M823.2 288.2A35.0 36.1 0 0 1 812.0 295.5M808.9 296.6A35.0 36.1 0 0 1 783.0 294.1M774.8 288.2A35.0 36.1 0 0 1 770.5 283.0M768.7 280.1A35.0 36.1 0 0 1 768.7 244.0M770.5 241.1A35.0 36.1 0 0 1 774.8 236.0M792.4 226.7A35.0 36.1 0 0 1 795.7 226.2" stroke-opacity="0.0207" stroke-width="5.6"/>
<path d="M799.0 226.0A35.0 36.1 0 0 1 802.3 226.2M805.6 226.7A35.0 36.1 0 0 1 808.9 227.5M815.0 230.0A35.0 36.1 0 0 1 817.9 231.7M823.2 236.0A35.0 36.1 0 0 1 827.5 241.1M832.1 250.3A35.0 36.1 0 0 1 833.0 253.6M834.0 263.8A35.0 36.1 0 0 1 833.6 267.2M830.8 277.0A35.0 36.1 0 0 1 829.3 280.1M823.2 288.2A35.0 36.1 0 0 1 812.0 295.5M805.6 297.5A35.0 36.1 0 0 1 783.0 294.1M772.5 285.7A35.0 36.1 0 0 1 770.5 283.0M768.7 280.1A35.0 36.1 0 0 1 768.7 244.0M770.5 241.1A35.0 36.1 0 0 1 772.5 238.5M792.4 226.7A35.0 36.1 0 0 1 795.7 226.2" stroke-opacity="0.0183" stroke-width="12.0"/>
<path d="M799.0 226.0A35.0 36.1 0 0 1 802.3 226.2M805.6 226.7A35.0 36.1 0 0 1 808.9 227.5M815.0 230.0A35.0 36.1 0 0 1 817.9 231.7M823.2 236.0A35.0 36.1 0 0 1 827.5 241.1M832.1 250.3A35.0 36.1 0 0 1 833.0 253.6M834.0 263.8A35.0 36.1 0 0 1 833.6 267.2M830.8 277.0A35.0 36.1 0 0 1 829.3 280.1M823.2 288.2A35.0 36.1 0 0 1 812.0 295.5M805.6 297.5A35.0 36.1 0 0 1 783.0 294.1M772.5 285.7A35.0 36.1 0 0 1 770.5 283.0M768.7 280.1A35.0 36.1 0 0 1 768.7 244.0M770.5 241.1A35.0 36.1 0 0 1 772.5 238.5M792.4 226.7A35.0 36.1 0 0 1 795.7 226.2" stroke-opacity="0.0207" stroke-width="5.6"/>
<path d="M799.0 226.0A35.0 36.1 0 0 1 802.3 226.2M815.0 230.0A35.0 36.1 0 0 1 817.9 231.7M825.5 238.5A35.0 36.1 0 0 1 827.5 241.1M830.8 277.0A35.0 36.1 0 0 1 829.3 280.1M823.2 288.2A35.0 36.1 0 0 1 817.9 292.4M805.6 297.5A35.0 36.1 0 0 1 799.0 298.1M795.7 297.9A35.0 36.1 0 0 1 786.0 295.5M772.5 285.7A35.0 36.1 0 0 1 770.5 283.0M768.7 280.1A35.0 36.1 0 0 1 764.4 256.9M765.0 253.6A35.0 36.1 0 0 1 767.2 247.1M770.5 241.1A35.0 36.1 0 0 1 772.5 238.5M792.4 226.7A35.0 36.1 0 0 1 795.7 226.2" stroke-opacity="0.0183" stroke-width="12.0"/>
<path d="M799.0 226.0A35.0 36.1 0 0 1 802.3 226.2M815.0 230.0A35.0 36.1 0 0 1 817.9 231.7M825.5 238.5A35.0 36.1 0 0 1 827.5 241.1M830.8 277.0A35.0 36.1 0 0 1 829.3 280.1M823.2 288.2A35.0 36.1 0 0 1 817.9 292.4M805.6 297.5A35.0 36.1 0 0 1 799.0 298.1M795.7 297.9A35.0 36.1 0 0 1 786.0 295.5M772.5 285.7A35.0 36.1 0 0 1 770.5 283.0M768.7 280.1A35.0 36.1 0 0 1 764.4 256.9M765.0 253.6A35.0 36.1 0 0 1 767.2 247.1M770.5 241.1A35.0 36.1 0 0 1 772.5 238.5M792.4 226.7A35.0 36.1 0 0 1 795.7 226.2" stroke-opacity="0.0207" stroke-width="5.6"/>
<path d="M799.0 226.0A35.0 36.1 0 0 1 802.3 226.2M815.0 230.0A35.0 36.1 0 0 1 817.9 231.7M825.5 238.5A35.0 36.1 0 0 1 827.5 241.1M805.6 297.5A35.0 36.1 0 0 1 799.0 298.1M795.7 297.9A35.0 36.1 0 0 1 786.0 295.5M772.5 285.7A35.0 36.1 0 0 1 770.5 283.0M768.7 280.1A35.0 36.1 0 0 1 764.0 260.3M765.0 253.6A35.0 36.1 0 0 1 765.9 250.3M770.5 241.1A35.0 36.1 0 0 1 772.5 238.5M792.4 226.7A35.0 36.1 0 0 1 795.7 226.2" stroke-opacity="0.0183" stroke-width="12.0"/>
<path d="M799.0 226.0A35.0 36.1 0 0 1 802.3 226.2M815.0 230.0A35.0 36.1 0 0 1 817.9 231.7M825.5 238.5A35.0 36.1 0 0 1 827.5 241.1M805.6 297.5A35.0 36.1 0 0 1 799.0 298.1M795.7 297.9A35.0 36.1 0 0 1 786.0 295.5M772.5 285.7A35.0 36.1 0 0 1 770.5 283.0M768.7 280.1A35.0 36.1 0 0 1 764.0 260.3M765.0 253.6A35.0 36.1 0 0 1 765.9 250.3M770.5 241.1A35.0 36.1 0 0 1 772.5 238.5M792.4 226.7A35.0 36.1 0 0 1 795.7 226.2" stroke-opacity="0.0207" stroke-width="5.6"/>
<path d="M799.0 226.0A35.0 36.1 0 0 1 802.3 226.2M815.0 230.0A35.0 36.1 0 0 1 817.9 231.7M825.5 238.5A35.0 36.1 0 0 1 827.5 241.1M805.6 297.5A35.0 36.1 0 0 1 799.0 298.1M795.7 297.9A35.0 36.1 0 0 1 786.0 295.5M772.5 285.7A35.0 36.1 0 0 1 770.5 283.0M768.7 280.1A35.0 36.1 0 0 1 764.0 260.3M770.5 241.1A35.0 36.1 0 0 1 772.5 238.5M792.4 226.7A35.0 36.1 0 0 1 795.7 226.2" stroke-opacity="0.0183" stroke-width="12.0"/>
<path d="M799.0 226.0A35.0 36.1 0 0 1 802.3 226.2M815.0 230.0A35.0 36.1 0 0 1 817.9 231.7M825.5 238.5A35.0 36.1 0 0 1 827.5 241.1M805.6 297.5A35.0 36.1 0 0 1 799.0 298.1M795.7 297.9A35.0 36.1 0 0 1 786.0 295.5M772.5 285.7A35.0 36.1 0 0 1 770.5 283.0M768.7 280.1A35.0 36.1 0 0 1 764.0 260.3M770.5 241.1A35.0 36.1 0 0 1 772.5 238.5M792.4 226.7A35.0 36.1 0 0 1 795.7 226.2" stroke-opacity="0.0207" stroke-width="5.6"/>
<path d="M799.0 226.0A35.0 36.1 0 0 1 802.3 226.2M815.0 230.0A35.0 36.1 0 0 1 817.9 231.7M805.6 297.5A35.0 36.1 0 0 1 799.0 298.1M795.7 297.9A35.0 36.1 0 0 1 792.4 297.5M789.1 296.6A35.0 36.1 0 0 1 786.0 295.5M772.5 285.7A35.0 36.1 0 0 1 770.5 283.0M768.7 280.1A35.0 36.1 0 0 1 765.0 270.6M764.4 267.2A35.0 36.1 0 0 1 764.0 260.3M792.4 226.7A35.0 36.1 0 0 1 795.7 226.2" stroke-opacity="0.0183" stroke-width="12.0"/>
<path d="M799.0 226.0A35.0 36.1 0 0 1 802.3 226.2M815.0 230.0A35.0 36.1 0 0 1 817.9 231.7M805.6 297.5A35.0 36.1 0 0 1 799.0 298.1M795.7 297.9A35.0 36.1 0 0 1 792.4 297.5M789.1 296.6A35.0 36.1 0 0 1 786.0 295.5M772.5 285.7A35.0 36.1 0 0 1 770.5 283.0M768.7 280.1A35.0 36.1 0 0 1 765.0 270.6M764.4 267.2A35.0 36.1 0 0 1 764.0 260.3M792.4 226.7A35.0 36.1 0 0 1 795.7 226.2" stroke-opacity="0.0207" stroke-width="5.6"/>
<path d="M799.0 226.0A35.0 36.1 0 0 1 802.3 226.2M815.0 230.0A35.0 36.1 0 0 1 817.9 231.7M805.6 297.5A35.0 36.1 0 0 1 799.0 298.1M795.7 297.9A35.0 36.1 0 0 1 792.4 297.5M772.5 285.7A35.0 36.1 0 0 1 770.5 283.0M767.2 277.0A35.0 36.1 0 0 1 765.0 270.6M764.4 267.2A35.0 36.1 0 0 1 764.0 260.3M792.4 226.7A35.0 36.1 0 0 1 795.7 226.2" stroke-opacity="0.0183" stroke-width="12.0"/>
<path d="M799.0 226.0A35.0 36.1 0 0 1 802.3 226.2M815.0 230.0A35.0 36.1 0 0 1 817.9 231.7M805.6 297.5A35.0 36.1 0 0 1 799.0 298.1M795.7 297.9A35.0 36.1 0 0 1 792.4 297.5M772.5 285.7A35.0 36.1 0 0 1 770.5 283.0M767.2 277.0A35.0 36.1 0 0 1 765.0 270.6M764.4 267.2A35.0 36.1 0 0 1 764.0 260.3M792.4 226.7A35.0 36.1 0 0 1 795.7 226.2" stroke-opacity="0.0207" stroke-width="5.6"/>
<path d="M799.0 226.0A35.0 36.1 0 0 1 802.3 226.2M805.6 297.5A35.0 36.1 0 0 1 799.0 298.1M795.7 297.9A35.0 36.1 0 0 1 792.4 297.5M772.5 285.7A35.0 36.1 0 0 1 770.5 283.0M767.2 277.0A35.0 36.1 0 0 1 765.0 270.6M764.0 263.8A35.0 36.1 0 0 1 764.0 260.3M792.4 226.7A35.0 36.1 0 0 1 795.7 226.2" stroke-opacity="0.0183" stroke-width="12.0"/>
<path d="M799.0 226.0A35.0 36.1 0 0 1 802.3 226.2M805.6 297.5A35.0 36.1 0 0 1 799.0 298.1M795.7 297.9A35.0 36.1 0 0 1 792.4 297.5M772.5 285.7A35.0 36.1 0 0 1 770.5 283.0M767.2 277.0A35.0 36.1 0 0 1 765.0 270.6M764.0 263.8A35.0 36.1 0 0 1 764.0 260.3M792.4 226.7A35.0 36.1 0 0 1 795.7 226.2" stroke-opacity="0.0207" stroke-width="5.6"/>
<path d="M799.0 226.0A35.0 36.1 0 0 1 802.3 226.2M805.6 297.5A35.0 36.1 0 0 1 799.0 298.1M795.7 297.9A35.0 36.1 0 0 1 792.4 297.5M772.5 285.7A35.0 36.1 0 0 1 770.5 283.0M767.2 277.0A35.0 36.1 0 0 1 765.0 270.6M764.0 263.8A35.0 36.1 0 0 1 764.0 260.3M792.4 226.7A35.0 36.1 0 0 1 795.7 226.2" stroke-opacity="0.0183" stroke-width="12.0"/>
<path d="M799.0 226.0A35.0 36.1 0 0 1 802.3 226.2M805.6 297.5A35.0 36.1 0 0 1 799.0 298.1M795.7 297.9A35.0 36.1 0 0 1 792.4 297.5M772.5 285.7A35.0 36.1 0 0 1 770.5 283.0M767.2 277.0A35.0 36.1 0 0 1 765.0 270.6M764.0 263.8A35.0 36.1 0 0 1 764.0 260.3M792.4 226.7A35.0 36.1 0 0 1 795.7 226.2" stroke-opacity="0.0207" stroke-width="5.6"/>
<path d="M799.0 226.0A35.0 36.1 0 0 1 802.3 226.2M805.6 297.5A35.0 36.1 0 0 1 799.0 298.1M795.7 297.9A35.0 36.1 0 0 1 792.4 297.5M772.5 285.7A35.0 36.1 0 0 1 770.5 283.0M767.2 277.0A35.0 36.1 0 0 1 765.9 273.9" stroke-opacity="0.0183" stroke-width="12.0"/>
<path d="M799.0 226.0A35.0 36.1 0 0 1 802.3 226.2M805.6 297.5A35.0 36.1 0 0 1 799.0 298.1M795.7 297.9A35.0 36.1 0 0 1 792.4 297.5M772.5 285.7A35.0 36.1 0 0 1 770.5 283.0M767.2 277.0A35.0 36.1 0 0 1 765.9 273.9" stroke-opacity="0.0207" stroke-width="5.6"/>
<path d="M799.0 226.0A35.0 36.1 0 0 1 802.3 226.2M805.6 297.5A35.0 36.1 0 0 1 799.0 298.1M795.7 297.9A35.0 36.1 0 0 1 792.4 297.5M772.5 285.7A35.0 36.1 0 0 1 770.5 283.0" stroke-opacity="0.0183" stroke-width="12.0"/>
<path d="M799.0 226.0A35.0 36.1 0 0 1 802.3 226.2M805.6 297.5A35.0 36.1 0 0 1 799.0 298.1M795.7 297.9A35.0 36.1 0 0 1 792.4 297.5M772.5 285.7A35.0 36.1 0 0 1 770.5 283.0" stroke-opacity="0.0207" stroke-width="5.6"/>
<path d="M799.0 226.0A35.0 36.1 0 0 1 802.3 226.2M795.7 297.9A35.0 36.1 0 0 1 792.4 297.5M772.5 285.7A35.0 36.1 0 0 1 770.5 283.0" stroke-opacity="0.0183" stroke-width="12.0"/>
<path d="M799.0 226.0A35.0 36.1 0 0 1 802.3 226.2M795.7 297.9A35.0 36.1 0 0 1 792.4 297.5M772.5 285.7A35.0 36.1 0 0 1 770.5 283.0" stroke-opacity="0.0207" stroke-width="5.6"/>
<path d="M799.0 226.0A35.0 36.1 0 0 1 802.3 226.2M772.5 285.7A35.0 36.1 0 0 1 770.5 283.0" stroke-opacity="0.0183" stroke-width="12.0"/>
<path d="M799.0 226.0A35.0 36.1 0 0 1 802.3 226.2M772.5 285.7A35.0 36.1 0 0 1 770.5 283.0" stroke-opacity="0.0207" stroke-width="5.6"/>
<path d="M799.0 226.0A35.0 36.1 0 0 1 802.3 226.2M772.5 285.7A35.0 36.1 0 0 1 770.5 283.0" stroke-opacity="0.0183" stroke-width="12.0"/>
<path d="M799.0 226.0A35.0 36.1 0 0 1 802.3 226.2M772.5 285.7A35.0 36.1 0 0 1 770.5 283.0" stroke-opacity="0.0207" stroke-width="5.6"/>
<path d="M799.0 226.0A35.0 36.1 0 0 1 802.3 226.2M772.5 285.7A35.0 36.1 0 0 1 770.5 283.0" stroke-opacity="0.0183" stroke-width="12.0"/>
<path d="M799.0 226.0A35.0 36.1 0 0 1 802.3 226.2M772.5 285.7A35.0 36.1 0 0 1 770.5 283.0" stroke-opacity="0.0207" stroke-width="5.6"/>
<path d="M799.0 226.0A35.0 36.1 0 0 1 802.3 226.2M772.5 285.7A35.0 36.1 0 0 1 770.5 283.0" stroke-opacity="0.0183" stroke-width="12.0"/>
<path d="M799.0 226.0A35.0 36.1 0 0 1 802.3 226.2M772.5 285.7A35.0 36.1 0 0 1 770.5 283.0" stroke-opacity="0.0207" stroke-width="5.6"/>
<path d="M799.0 226.0A35.0 36.1 0 0 1 802.3 226.2M772.5 285.7A35.0 36.1 0 0 1 770.5 283.0" stroke-opacity="0.0183" stroke-width="12.0"/>
<path d="M799.0 226.0A35.0 36.1 0 0 1 802.3 226.2M772.5 285.7A35.0 36.1 0 0 1 770.5 283.0" stroke-opacity="0.0207" stroke-width="5.6"/>
<path d="M799.0 226.0A35.0 36.1 0 0 1 802.3 226.2M772.5 285.7A35.0 36.1 0 0 1 770.5 283.0" stroke-opacity="0.0183" stroke-width="12.0"/>
<path d="M799.0 226.0A35.0 36.1 0 0 1 802.3 226.2M772.5 285.7A35.0 36.1 0 0 1 770.5 283.0" stroke-opacity="0.0207" stroke-width="5.6"/>
<path d="M799.0 226.0A35.0 36.1 0 0 1 802.3 226.2M772.5 285.7A35.0 36.1 0 0 1 770.5 283.0" stroke-opacity="0.0183" stroke-width="12.0"/>
<path d="M799.0 226.0A35.0 36.1 0 0 1 802.3 226.2M772.5 285.7A35.0 36.1 0 0 1 770.5 283.0" stroke-opacity="0.0207" stroke-width="5.6"/>
<path d="M772.5 285.7A35.0 36.1 0 0 1 770.5 283.0" stroke-opacity="0.0183" stroke-width="12.0"/>
<path d="M772.5 285.7A35.0 36.1 0 0 1 770.5 283.0" stroke-opacity="0.0207" stroke-width="5.6"/>
<path d="M772.5 285.7A35.0 36.1 0 0 1 770.5 283.0" stroke-opacity="0.0183" stroke-width="12.0"/>
<path d="M772.5 285.7A35.0 36.1 0 0 1 770.5 283.0" stroke-opacity="0.0207" stroke-width="5.6"/>
<path d="M772.5 285.7A35.0 36.1 0 0 1 770.5 283.0" stroke-opacity="0.0183" stroke-width="12.0"/>
<path d="M772.5 285.7A35.0 36.1 0 0 1 770.5 283.0" stroke-opacity="0.0207" stroke-width="5.6"/>
<path d="M772.5 285.7A35.0 36.1 0 0 1 770.5 283.0" stroke-opacity="0.0183" stroke-width="12.0"/>
<path d="M772.5 285.7A35.0 36.1 0 0 1 770.5 283.0" stroke-opacity="0.0207" stroke-width="5.6"/>
<path d="M772.5 285.7A35.0 36.1 0 0 1 770.5 283.0" stroke-opacity="0.0183" stroke-width="12.0"/>
<path d="M772.5 285.7A35.0 36.1 0 0 1 770.5 283.0" stroke-opacity="0.0207" stroke-width="5.6"/>
<path d="M772.5 285.7A35.0 36.1 0 0 1 770.5 283.0" stroke-opacity="0.0183" stroke-width="12.0"/>
<path d="M772.5 285.7A35.0 36.1 0 0 1 770.5 283.0" stroke-opacity="0.0207" stroke-width="5.6"/>
<path d="M772.5 285.7A35.0 36.1 0 0 1 770.5 283.0" stroke-opacity="0.0183" stroke-width="12.0"/>
<path d="M772.5 285.7A35.0 36.1 0 0 1 770.5 283.0" stroke-opacity="0.0207" stroke-width="5.6"/>
</g></g>
<path d="M790.30 259.56a7.3 7.2 0 0 1 6.5 -7.1l0.6 -0.9 0.8 0.8a7.3 7.3 0 1 1 -7.9 7.2Z" fill="#dff6ff"/>
<clipPath id="ic5"><rect x="849.90" y="217.76" width="95.6" height="87.3"/></clipPath>
<g clip-path="url(#ic5)"><g filter="url(#nf5)" fill="none" stroke="#fff">
<rect x="846.90" y="214.76" width="101.6" height="93.3" fill="#0c0c0c" stroke="none"/>
<path d="M862.2 262.1A35.5 36.6 0 1 1 933.2 262.1A35.5 36.6 0 1 1 862.2 262.1Z" stroke-opacity="0.0183" stroke-width="11.4"/>
<path d="M862.2 262.1A35.5 36.6 0 1 1 933.2 262.1A35.5 36.6 0 1 1 862.2 262.1Z" stroke-opacity="0.0207" stroke-width="5.3"/>
<path d="M862.2 262.1A35.5 36.6 0 1 1 933.2 262.1A35.5 36.6 0 1 1 862.2 262.1Z" stroke-opacity="0.0183" stroke-width="11.4"/>
<path d="M862.2 262.1A35.5 36.6 0 1 1 933.2 262.1A35.5 36.6 0 1 1 862.2 262.1Z" stroke-opacity="0.0207" stroke-width="5.3"/>
<path d="M910.9 228.1A35.5 36.6 0 0 1 933.2 260.3M933.2 263.8A35.5 36.6 0 1 1 907.7 227.0" stroke-opacity="0.0183" stroke-width="11.4"/>
<path d="M910.9 228.1A35.5 36.6 0 0 1 933.2 260.3M933.2 263.8A35.5 36.6 0 1 1 907.7 227.0" stroke-opacity="0.0207" stroke-width="5.3"/>
<path d="M910.9 228.1A35.5 36.6 0 0 1 933.2 260.3M933.2 263.8A35.5 36.6 0 0 1 916.9 292.8M914.0 294.6A35.5 36.6 0 0 1 897.7 298.6M894.3 298.5A35.5 36.6 0 0 1 865.4 246.9M867.0 243.8A35.5 36.6 0 0 1 870.9 238.1M873.2 235.6A35.5 36.6 0 0 1 907.7 227.0" stroke-opacity="0.0183" stroke-width="11.4"/>
<path d="M910.9 228.1A35.5 36.6 0 0 1 933.2 260.3M933.2 263.8A35.5 36.6 0 0 1 916.9 292.8M914.0 294.6A35.5 36.6 0 0 1 897.7 298.6M894.3 298.5A35.5 36.6 0 0 1 865.4 246.9M867.0 243.8A35.5 36.6 0 0 1 870.9 238.1M873.2 235.6A35.5 36.6 0 0 1 907.7 227.0" stroke-opacity="0.0207" stroke-width="5.3"/>
<path d="M910.9 228.1A35.5 36.6 0 0 1 922.2 235.6M924.5 238.1A35.5 36.6 0 0 1 933.2 260.3M933.2 263.8A35.5 36.6 0 0 1 916.9 292.8M914.0 294.6A35.5 36.6 0 0 1 904.4 298.0M901.1 298.5A35.5 36.6 0 0 1 897.7 298.6M894.3 298.5A35.5 36.6 0 0 1 881.4 294.6M878.5 292.8A35.5 36.6 0 0 1 875.8 290.8M868.8 283.3A35.5 36.6 0 0 1 865.4 246.9M867.0 243.8A35.5 36.6 0 0 1 870.9 238.1M873.2 235.6A35.5 36.6 0 0 1 907.7 227.0" stroke-opacity="0.0183" stroke-width="11.4"/>
<path d="M910.9 228.1A35.5 36.6 0 0 1 922.2 235.6M924.5 238.1A35.5 36.6 0 0 1 933.2 260.3M933.2 263.8A35.5 36.6 0 0 1 916.9 292.8M914.0 294.6A35.5 36.6 0 0 1 904.4 298.0M901.1 298.5A35.5 36.6 0 0 1 897.7 298.6M894.3 298.5A35.5 36.6 0 0 1 881.4 294.6M878.5 292.8A35.5 36.6 0 0 1 875.8 290.8M868.8 283.3A35.5 36.6 0 0 1 865.4 246.9M867.0 243.8A35.5 36.6 0 0 1 870.9 238.1M873.2 235.6A35.5 36.6 0 0 1 907.7 227.0" stroke-opacity="0.0207" stroke-width="5.3"/>
<path d="M897.7 225.5A35.5 36.6 0 0 1 901.1 225.7M904.4 226.2A35.5 36.6 0 0 1 907.7 227.0M914.0 229.6A35.5 36.6 0 0 1 922.2 235.6M924.5 238.1A35.5 36.6 0 0 1 932.2 253.4M932.8 256.9A35.5 36.6 0 0 1 933.2 260.3M933.2 263.8A35.5 36.6 0 0 1 916.9 292.8M914.0 294.6A35.5 36.6 0 0 1 904.4 298.0M901.1 298.5A35.5 36.6 0 0 1 897.7 298.6M894.3 298.5A35.5 36.6 0 0 1 881.4 294.6M878.5 292.8A35.5 36.6 0 0 1 875.8 290.8M868.8 283.3A35.5 36.6 0 0 1 865.4 246.9M867.0 243.8A35.5 36.6 0 0 1 870.9 238.1M873.2 235.6A35.5 36.6 0 0 1 894.3 225.7" stroke-opacity="0.0183" stroke-width="11.4"/>
<path d="M897.7 225.5A35.5 36.6 0 0 1 901.1 225.7M904.4 226.2A35.5 36.6 0 0 1 907.7 227.0M914.0 229.6A35.5 36.6 0 0 1 922.2 235.6M924.5 238.1A35.5 36.6 0 0 1 932.2 253.4M932.8 256.9A35.5 36.6 0 0 1 933.2 260.3M933.2 263.8A35.5 36.6 0 0 1 916.9 292.8M914.0 294.6A35.5 36.6 0 0 1 904.4 298.0M901.1 298.5A35.5 36.6 0 0 1 897.7 298.6M894.3 298.5A35.5 36.6 0 0 1 881.4 294.6M878.5 292.8A35.5 36.6 0 0 1 875.8 290.8M868.8 283.3A35.5 36.6 0 0 1 865.4 246.9M867.0 243.8A35.5 36.6 0 0 1 870.9 238.1M873.2 235.6A35.5 36.6 0 0 1 894.3 225.7" stroke-opacity="0.0207" stroke-width="5.3"/>
<path d="M897.7 225.5A35.5 36.6 0 0 1 901.1 225.7M904.4 226.2A35.5 36.6 0 0 1 907.7 227.0M914.0 229.6A35.5 36.6 0 0 1 916.9 231.3M919.6 233.3A35.5 36.6 0 0 1 922.2 235.6M924.5 238.1A35.5 36.6 0 0 1 930.0 246.9M931.2 250.1A35.5 36.6 0 0 1 932.2 253.4M932.8 256.9A35.5 36.6 0 0 1 933.2 260.3M933.2 263.8A35.5 36.6 0 0 1 916.9 292.8M914.0 294.6A35.5 36.6 0 0 1 904.4 298.0M901.1 298.5A35.5 36.6 0 0 1 897.7 298.6M894.3 298.5A35.5 36.6 0 0 1 881.4 294.6M878.5 292.8A35.5 36.6 0 0 1 875.8 290.8M868.8 283.3A35.5 36.6 0 0 1 865.4 246.9M867.0 243.8A35.5 36.6 0 0 1 870.9 238.1M873.2 235.6A35.5 36.6 0 0 1 894.3 225.7" stroke-opacity="0.0183" stroke-width="11.4"/>
<path d="M897.7 225.5A35.5 36.6 0 0 1 901.1 225.7M904.4 226.2A35.5 36.6 0 0 1 907.7 227.0M914.0 229.6A35.5 36.6 0 0 1 916.9 231.3M919.6 233.3A35.5 36.6 0 0 1 922.2 235.6M924.5 238.1A35.5 36.6 0 0 1 930.0 246.9M931.2 250.1A35.5 36.6 0 0 1 932.2 253.4M932.8 256.9A35.5 36.6 0 0 1 933.2 260.3M933.2 263.8A35.5 36.6 0 0 1 916.9 292.8M914.0 294.6A35.5 36.6 0 0 1 904.4 298.0M901.1 298.5A35.5 36.6 0 0 1 897.7 298.6M894.3 298.5A35.5 36.6 0 0 1 881.4 294.6M878.5 292.8A35.5 36.6 0 0 1 875.8 290.8M868.8 283.3A35.5 36.6 0 0 1 865.4 246.9M867.0 243.8A35.5 36.6 0 0 1 870.9 238.1M873.2 235.6A35.5 36.6 0 0 1 894.3 225.7" stroke-opacity="0.0207" stroke-width="5.3"/>
<path d="M897.7 225.5A35.5 36.6 0 0 1 901.1 225.7M904.4 226.2A35.5 36.6 0 0 1 907.7 227.0M914.0 229.6A35.5 36.6 0 0 1 916.9 231.3M919.6 233.3A35.5 36.6 0 0 1 922.2 235.6M924.5 238.1A35.5 36.6 0 0 1 930.0 246.9M931.2 250.1A35.5 36.6 0 0 1 932.2 253.4M932.8 256.9A35.5 36.6 0 0 1 933.2 260.3M933.2 263.8A35.5 36.6 0 0 1 916.9 292.8M907.7 297.1A35.5 36.6 0 0 1 904.4 298.0M901.1 298.5A35.5 36.6 0 0 1 897.7 298.6M894.3 298.5A35.5 36.6 0 0 1 887.7 297.1M884.5 296.0A35.5 36.6 0 0 1 881.4 294.6M878.5 292.8A35.5 36.6 0 0 1 875.8 290.8M867.0 280.3A35.5 36.6 0 0 1 865.4 277.2M864.2 274.0A35.5 36.6 0 0 1 865.4 246.9M867.0 243.8A35.5 36.6 0 0 1 870.9 238.1M873.2 235.6A35.5 36.6 0 0 1 887.7 227.0M891.0 226.2A35.5 36.6 0 0 1 894.3 225.7" stroke-opacity="0.0183" stroke-width="11.4"/>
<path d="M897.7 225.5A35.5 36.6 0 0 1 901.1 225.7M904.4 226.2A35.5 36.6 0 0 1 907.7 227.0M914.0 229.6A35.5 36.6 0 0 1 916.9 231.3M919.6 233.3A35.5 36.6 0 0 1 922.2 235.6M924.5 238.1A35.5 36.6 0 0 1 930.0 246.9M931.2 250.1A35.5 36.6 0 0 1 932.2 253.4M932.8 256.9A35.5 36.6 0 0 1 933.2 260.3M933.2 263.8A35.5 36.6 0 0 1 916.9 292.8M907.7 297.1A35.5 36.6 0 0 1 904.4 298.0M901.1 298.5A35.5 36.6 0 0 1 897.7 298.6M894.3 298.5A35.5 36.6 0 0 1 887.7 297.1M884.5 296.0A35.5 36.6 0 0 1 881.4 294.6M878.5 292.8A35.5 36.6 0 0 1 875.8 290.8M867.0 280.3A35.5 36.6 0 0 1 865.4 277.2M864.2 274.0A35.5 36.6 0 0 1 865.4 246.9M867.0 243.8A35.5 36.6 0 0 1 870.9 238.1M873.2 235.6A35.5 36.6 0 0 1 887.7 227.0M891.0 226.2A35.5 36.6 0 0 1 894.3 225.7" stroke-opacity="0.0207" stroke-width="5.3"/>
<path d="M897.7 225.5A35.5 36.6 0 0 1 901.1 225.7M914.0 229.6A35.5 36.6 0 0 1 916.9 231.3M924.5 238.1A35.5 36.6 0 0 1 930.0 246.9M933.2 263.8A35.5 36.6 0 0 1 932.2 270.7M931.2 274.0A35.5 36.6 0 0 1 924.5 286.0M922.2 288.5A35.5 36.6 0 0 1 916.9 292.8M907.7 297.1A35.5 36.6 0 0 1 904.4 298.0M901.1 298.5A35.5 36.6 0 0 1 897.7 298.6M894.3 298.5A35.5 36.6 0 0 1 887.7 297.1M884.5 296.0A35.5 36.6 0 0 1 881.4 294.6M878.5 292.8A35.5 36.6 0 0 1 875.8 290.8M867.0 280.3A35.5 36.6 0 0 1 865.4 277.2M864.2 274.0A35.5 36.6 0 0 1 863.2 270.7M862.6 267.3A35.5 36.6 0 0 1 865.4 246.9M867.0 243.8A35.5 36.6 0 0 1 870.9 238.1M875.8 233.3A35.5 36.6 0 0 1 887.7 227.0" stroke-opacity="0.0183" stroke-width="11.4"/>
<path d="M897.7 225.5A35.5 36.6 0 0 1 901.1 225.7M914.0 229.6A35.5 36.6 0 0 1 916.9 231.3M924.5 238.1A35.5 36.6 0 0 1 930.0 246.9M933.2 263.8A35.5 36.6 0 0 1 932.2 270.7M931.2 274.0A35.5 36.6 0 0 1 924.5 286.0M922.2 288.5A35.5 36.6 0 0 1 916.9 292.8M907.7 297.1A35.5 36.6 0 0 1 904.4 298.0M901.1 298.5A35.5 36.6 0 0 1 897.7 298.6M894.3 298.5A35.5 36.6 0 0 1 887.7 297.1M884.5 296.0A35.5 36.6 0 0 1 881.4 294.6M878.5 292.8A35.5 36.6 0 0 1 875.8 290.8M867.0 280.3A35.5 36.6 0 0 1 865.4 277.2M864.2 274.0A35.5 36.6 0 0 1 863.2 270.7M862.6 267.3A35.5 36.6 0 0 1 865.4 246.9M867.0 243.8A35.5 36.6 0 0 1 870.9 238.1M875.8 233.3A35.5 36.6 0 0 1 887.7 227.0" stroke-opacity="0.0207" stroke-width="5.3"/>
<path d="M914.0 229.6A35.5 36.6 0 0 1 916.9 231.3M924.5 238.1A35.5 36.6 0 0 1 926.6 240.9M928.4 243.8A35.5 36.6 0 0 1 930.0 246.9M932.8 267.3A35.5 36.6 0 0 1 932.2 270.7M931.2 274.0A35.5 36.6 0 0 1 924.5 286.0M919.6 290.8A35.5 36.6 0 0 1 916.9 292.8M907.7 297.1A35.5 36.6 0 0 1 904.4 298.0M901.1 298.5A35.5 36.6 0 0 1 897.7 298.6M894.3 298.5A35.5 36.6 0 0 1 887.7 297.1M884.5 296.0A35.5 36.6 0 0 1 881.4 294.6M867.0 280.3A35.5 36.6 0 0 1 865.4 277.2M864.2 274.0A35.5 36.6 0 0 1 863.2 270.7M862.6 267.3A35.5 36.6 0 0 1 865.4 246.9M868.8 240.9A35.5 36.6 0 0 1 870.9 238.1M878.5 231.3A35.5 36.6 0 0 1 887.7 227.0" stroke-opacity="0.0183" stroke-width="11.4"/>
<path d="M914.0 229.6A35.5 36.6 0 0 1 916.9 231.3M924.5 238.1A35.5 36.6 0 0 1 926.6 240.9M928.4 243.8A35.5 36.6 0 0 1 930.0 246.9M932.8 267.3A35.5 36.6 0 0 1 932.2 270.7M931.2 274.0A35.5 36.6 0 0 1 924.5 286.0M919.6 290.8A35.5 36.6 0 0 1 916.9 292.8M907.7 297.1A35.5 36.6 0 0 1 904.4 298.0M901.1 298.5A35.5 36.6 0 0 1 897.7 298.6M894.3 298.5A35.5 36.6 0 0 1 887.7 297.1M884.5 296.0A35.5 36.6 0 0 1 881.4 294.6M867.0 280.3A35.5 36.6 0 0 1 865.4 277.2M864.2 274.0A35.5 36.6 0 0 1 863.2 270.7M862.6 267.3A35.5 36.6 0 0 1 865.4 246.9M868.8 240.9A35.5 36.6 0 0 1 870.9 238.1M878.5 231.3A35.5 36.6 0 0 1 887.7 227.0" stroke-opacity="0.0207" stroke-width="5.3"/>
<path d="M914.0 229.6A35.5 36.6 0 0 1 916.9 231.3M931.2 274.0A35.5 36.6 0 0 1 926.6 283.3M919.6 290.8A35.5 36.6 0 0 1 916.9 292.8M907.7 297.1A35.5 36.6 0 0 1 904.4 298.0M901.1 298.5A35.5 36.6 0 0 1 897.7 298.6M894.3 298.5A35.5 36.6 0 0 1 891.0 298.0M884.5 296.0A35.5 36.6 0 0 1 881.4 294.6M867.0 280.3A35.5 36.6 0 0 1 865.4 277.2M864.2 274.0A35.5 36.6 0 0 1 863.2 270.7M862.6 267.3A35.5 36.6 0 0 1 865.4 246.9M868.8 240.9A35.5 36.6 0 0 1 870.9 238.1M884.5 228.1A35.5 36.6 0 0 1 887.7 227.0" stroke-opacity="0.0183" stroke-width="11.4"/>
<path d="M914.0 229.6A35.5 36.6 0 0 1 916.9 231.3M931.2 274.0A35.5 36.6 0 0 1 926.6 283.3M919.6 290.8A35.5 36.6 0 0 1 916.9 292.8M907.7 297.1A35.5 36.6 0 0 1 904.4 298.0M901.1 298.5A35.5 36.6 0 0 1 897.7 298.6M894.3 298.5A35.5 36.6 0 0 1 891.0 298.0M884.5 296.0A35.5 36.6 0 0 1 881.4 294.6M867.0 280.3A35.5 36.6 0 0 1 865.4 277.2M864.2 274.0A35.5 36.6 0 0 1 863.2 270.7M862.6 267.3A35.5 36.6 0 0 1 865.4 246.9M868.8 240.9A35.5 36.6 0 0 1 870.9 238.1M884.5 228.1A35.5 36.6 0 0 1 887.7 227.0" stroke-opacity="0.0207" stroke-width="5.3"/>
<path d="M931.2 274.0A35.5 36.6 0 0 1 930.0 277.2M928.4 280.3A35.5 36.6 0 0 1 926.6 283.3M919.6 290.8A35.5 36.6 0 0 1 916.9 292.8M901.1 298.5A35.5 36.6 0 0 1 897.7 298.6M894.3 298.5A35.5 36.6 0 0 1 891.0 298.0M884.5 296.0A35.5 36.6 0 0 1 881.4 294.6M867.0 280.3A35.5 36.6 0 0 1 865.4 277.2M864.2 274.0A35.5 36.6 0 0 1 863.2 270.7M862.6 267.3A35.5 36.6 0 0 1 862.2 260.3M862.6 256.9A35.5 36.6 0 0 1 864.2 250.1M868.8 240.9A35.5 36.6 0 0 1 870.9 238.1" stroke-opacity="0.0183" stroke-width="11.4"/>
<path d="M931.2 274.0A35.5 36.6 0 0 1 930.0 277.2M928.4 280.3A35.5 36.6 0 0 1 926.6 283.3M919.6 290.8A35.5 36.6 0 0 1 916.9 292.8M901.1 298.5A35.5 36.6 0 0 1 897.7 298.6M894.3 298.5A35.5 36.6 0 0 1 891.0 298.0M884.5 296.0A35.5 36.6 0 0 1 881.4 294.6M867.0 280.3A35.5 36.6 0 0 1 865.4 277.2M864.2 274.0A35.5 36.6 0 0 1 863.2 270.7M862.6 267.3A35.5 36.6 0 0 1 862.2 260.3M862.6 256.9A35.5 36.6 0 0 1 864.2 250.1M868.8 240.9A35.5 36.6 0 0 1 870.9 238.1" stroke-opacity="0.0207" stroke-width="5.3"/>
<path d="M931.2 274.0A35.5 36.6 0 0 1 930.0 277.2M928.4 280.3A35.5 36.6 0 0 1 926.6 283.3M919.6 290.8A35.5 36.6 0 0 1 916.9 292.8M901.1 298.5A35.5 36.6 0 0 1 897.7 298.6M894.3 298.5A35.5 36.6 0 0 1 891.0 298.0M884.5 296.0A35.5 36.6 0 0 1 881.4 294.6M867.0 280.3A35.5 36.6 0 0 1 865.4 277.2M864.2 274.0A35.5 36.6 0 0 1 863.2 270.7M862.6 267.3A35.5 36.6 0 0 1 862.2 260.3M862.6 256.9A35.5 36.6 0 0 1 863.2 253.4M868.8 240.9A35.5 36.6 0 0 1 870.9 238.1" stroke-opacity="0.0183" stroke-width="11.4"/>
<path d="M931.2 274.0A35.5 36.6 0 0 1 930.0 277.2M928.4 280.3A35.5 36.6 0 0 1 926.6 283.3M919.6 290.8A35.5 36.6 0 0 1 916.9 292.8M901.1 298.5A35.5 36.6 0 0 1 897.7 298.6M894.3 298.5A35.5 36.6 0 0 1 891.0 298.0M884.5 296.0A35.5 36.6 0 0 1 881.4 294.6M867.0 280.3A35.5 36.6 0 0 1 865.4 277.2M864.2 274.0A35.5 36.6 0 0 1 863.2 270.7M862.6 267.3A35.5 36.6 0 0 1 862.2 260.3M862.6 256.9A35.5 36.6 0 0 1 863.2 253.4M868.8 240.9A35.5 36.6 0 0 1 870.9 238.1" stroke-opacity="0.0207" stroke-width="5.3"/>
<path d="M931.2 274.0A35.5 36.6 0 0 1 930.0 277.2M928.4 280.3A35.5 36.6 0 0 1 926.6 283.3M919.6 290.8A35.5 36.6 0 0 1 916.9 292.8M901.1 298.5A35.5 36.6 0 0 1 897.7 298.6M894.3 298.5A35.5 36.6 0 0 1 891.0 298.0M864.2 274.0A35.5 36.6 0 0 1 863.2 270.7M862.6 267.3A35.5 36.6 0 0 1 862.2 260.3M862.6 256.9A35.5 36.6 0 0 1 863.2 253.4M868.8 240.9A35.5 36.6 0 0 1 870.9 238.1" stroke-opacity="0.0183" stroke-width="11.4"/>
<path d="M931.2 274.0A35.5 36.6 0 0 1 930.0 277.2M928.4 280.3A35.5 36.6 0 0 1 926.6 283.3M919.6 290.8A35.5 36.6 0 0 1 916.9 292.8M901.1 298.5A35.5 36.6 0 0 1 897.7 298.6M894.3 298.5A35.5 36.6 0 0 1 891.0 298.0M864.2 274.0A35.5 36.6 0 0 1 863.2 270.7M862.6 267.3A35.5 36.6 0 0 1 862.2 260.3M862.6 256.9A35.5 36.6 0 0 1 863.2 253.4M868.8 240.9A35.5 36.6 0 0 1 870.9 238.1" stroke-opacity="0.0207" stroke-width="5.3"/>
<path d="M931.2 274.0A35.5 36.6 0 0 1 930.0 277.2M928.4 280.3A35.5 36.6 0 0 1 926.6 283.3M919.6 290.8A35.5 36.6 0 0 1 916.9 292.8M901.1 298.5A35.5 36.6 0 0 1 897.7 298.6M894.3 298.5A35.5 36.6 0 0 1 891.0 298.0M862.2 263.8A35.5 36.6 0 0 1 862.2 260.3" stroke-opacity="0.0183" stroke-width="11.4"/>
<path d="M931.2 274.0A35.5 36.6 0 0 1 930.0 277.2M928.4 280.3A35.5 36.6 0 0 1 926.6 283.3M919.6 290.8A35.5 36.6 0 0 1 916.9 292.8M901.1 298.5A35.5 36.6 0 0 1 897.7 298.6M894.3 298.5A35.5 36.6 0 0 1 891.0 298.0M862.2 263.8A35.5 36.6 0 0 1 862.2 260.3" stroke-opacity="0.0207" stroke-width="5.3"/>
<path d="M931.2 274.0A35.5 36.6 0 0 1 930.0 277.2M928.4 280.3A35.5 36.6 0 0 1 926.6 283.3M919.6 290.8A35.5 36.6 0 0 1 916.9 292.8M901.1 298.5A35.5 36.6 0 0 1 897.7 298.6M894.3 298.5A35.5 36.6 0 0 1 891.0 298.0" stroke-opacity="0.0183" stroke-width="11.4"/>
<path d="M931.2 274.0A35.5 36.6 0 0 1 930.0 277.2M928.4 280.3A35.5 36.6 0 0 1 926.6 283.3M919.6 290.8A35.5 36.6 0 0 1 916.9 292.8M901.1 298.5A35.5 36.6 0 0 1 897.7 298.6M894.3 298.5A35.5 36.6 0 0 1 891.0 298.0" stroke-opacity="0.0207" stroke-width="5.3"/>
<path d="M928.4 280.3A35.5 36.6 0 0 1 926.6 283.3M919.6 290.8A35.5 36.6 0 0 1 916.9 292.8M901.1 298.5A35.5 36.6 0 0 1 897.7 298.6M894.3 298.5A35.5 36.6 0 0 1 891.0 298.0" stroke-opacity="0.0183" stroke-width="11.4"/>
<path d="M928.4 280.3A35.5 36.6 0 0 1 926.6 283.3M919.6 290.8A35.5 36.6 0 0 1 916.9 292.8M901.1 298.5A35.5 36.6 0 0 1 897.7 298.6M894.3 298.5A35.5 36.6 0 0 1 891.0 298.0" stroke-opacity="0.0207" stroke-width="5.3"/>
<path d="M928.4 280.3A35.5 36.6 0 0 1 926.6 283.3M919.6 290.8A35.5 36.6 0 0 1 916.9 292.8" stroke-opacity="0.0183" stroke-width="11.4"/>
<path d="M928.4 280.3A35.5 36.6 0 0 1 926.6 283.3M919.6 290.8A35.5 36.6 0 0 1 916.9 292.8" stroke-opacity="0.0207" stroke-width="5.3"/>
<path d="M928.4 280.3A35.5 36.6 0 0 1 926.6 283.3M919.6 290.8A35.5 36.6 0 0 1 916.9 292.8" stroke-opacity="0.0183" stroke-width="11.4"/>
<path d="M928.4 280.3A35.5 36.6 0 0 1 926.6 283.3M919.6 290.8A35.5 36.6 0 0 1 916.9 292.8" stroke-opacity="0.0207" stroke-width="5.3"/>
<path d="M928.4 280.3A35.5 36.6 0 0 1 926.6 283.3" stroke-opacity="0.0183" stroke-width="11.4"/>
<path d="M928.4 280.3A35.5 36.6 0 0 1 926.6 283.3" stroke-opacity="0.0207" stroke-width="5.3"/>
</g></g>
<path d="M889.00 259.56a7.3 7.2 0 0 1 6.5 -7.1l0.6 -0.9 0.8 0.8a7.3 7.3 0 1 1 -7.9 7.2Z" fill="#dff6ff"/>
<clipPath id="ic6"><rect x="751.20" y="307.99" width="95.6" height="87.3"/></clipPath>
<g clip-path="url(#ic6)"><g filter="url(#nf6)" fill="none" stroke="#fff">
<rect x="748.20" y="304.99" width="101.6" height="93.3" fill="#0c0c0c" stroke="none"/>
<path d="M764.0 352.3A35.0 36.1 0 1 1 834.0 352.3A35.0 36.1 0 1 1 764.0 352.3Z" stroke-opacity="0.0183" stroke-width="12.6"/>
<path d="M764.0 352.3A35.0 36.1 0 1 1 834.0 352.3A35.0 36.1 0 1 1 764.0 352.3Z" stroke-opacity="0.0207" stroke-width="5.9"/>
<path d="M764.0 352.3A35.0 36.1 0 1 1 834.0 352.3A35.0 36.1 0 1 1 764.0 352.3Z" stroke-opacity="0.0183" stroke-width="12.6"/>
<path d="M764.0 352.3A35.0 36.1 0 1 1 834.0 352.3A35.0 36.1 0 1 1 764.0 352.3Z" stroke-opacity="0.0207" stroke-width="5.9"/>
<path d="M764.0 352.3A35.0 36.1 0 1 1 834.0 352.3A35.0 36.1 0 1 1 764.0 352.3Z" stroke-opacity="0.0183" stroke-width="12.6"/>
<path d="M764.0 352.3A35.0 36.1 0 1 1 834.0 352.3A35.0 36.1 0 1 1 764.0 352.3Z" stroke-opacity="0.0207" stroke-width="5.9"/>
<path d="M764.0 352.3A35.0 36.1 0 1 1 834.0 352.3A35.0 36.1 0 1 1 764.0 352.3Z" stroke-opacity="0.0183" stroke-width="12.6"/>
<path d="M764.0 352.3A35.0 36.1 0 1 1 834.0 352.3A35.0 36.1 0 1 1 764.0 352.3Z" stroke-opacity="0.0207" stroke-width="5.9"/>
<path d="M764.0 352.3A35.0 36.1 0 1 1 834.0 352.3A35.0 36.1 0 1 1 764.0 352.3Z" stroke-opacity="0.0183" stroke-width="12.6"/>
<path d="M764.0 352.3A35.0 36.1 0 1 1 834.0 352.3A35.0 36.1 0 1 1 764.0 352.3Z" stroke-opacity="0.0207" stroke-width="5.9"/>
<path d="M764.0 352.3A35.0 36.1 0 1 1 834.0 352.3A35.0 36.1 0 1 1 764.0 352.3Z" stroke-opacity="0.0183" stroke-width="12.6"/>
<path d="M764.0 352.3A35.0 36.1 0 1 1 834.0 352.3A35.0 36.1 0 1 1 764.0 352.3Z" stroke-opacity="0.0207" stroke-width="5.9"/>
<path d="M764.0 352.3A35.0 36.1 0 1 1 834.0 352.3A35.0 36.1 0 1 1 764.0 352.3Z" stroke-opacity="0.0183" stroke-width="12.6"/>
<path d="M764.0 352.3A35.0 36.1 0 1 1 834.0 352.3A35.0 36.1 0 1 1 764.0 352.3Z" stroke-opacity="0.0207" stroke-width="5.9"/>
<path d="M823.2 326.2A35.0 36.1 0 1 1 772.5 328.7M774.8 326.2A35.0 36.1 0 0 1 820.6 324.0" stroke-opacity="0.0183" stroke-width="12.6"/>
<path d="M823.2 326.2A35.0 36.1 0 1 1 772.5 328.7M774.8 326.2A35.0 36.1 0 0 1 820.6 324.0" stroke-opacity="0.0207" stroke-width="5.9"/>
<path d="M805.6 316.9A35.0 36.1 0 0 1 820.6 324.0M823.2 326.2A35.0 36.1 0 1 1 772.5 328.7M774.8 326.2A35.0 36.1 0 0 1 802.3 316.4" stroke-opacity="0.0183" stroke-width="12.6"/>
<path d="M805.6 316.9A35.0 36.1 0 0 1 820.6 324.0M823.2 326.2A35.0 36.1 0 1 1 772.5 328.7M774.8 326.2A35.0 36.1 0 0 1 802.3 316.4" stroke-opacity="0.0207" stroke-width="5.9"/>
<path d="M805.6 316.9A35.0 36.1 0 0 1 820.6 324.0M823.2 326.2A35.0 36.1 0 1 1 772.5 328.7M774.8 326.2A35.0 36.1 0 0 1 802.3 316.4" stroke-opacity="0.0183" stroke-width="12.6"/>
<path d="M805.6 316.9A35.0 36.1 0 0 1 820.6 324.0M823.2 326.2A35.0 36.1 0 1 1 772.5 328.7M774.8 326.2A35.0 36.1 0 0 1 802.3 316.4" stroke-opacity="0.0207" stroke-width="5.9"/>
<path d="M805.6 316.9A35.0 36.1 0 0 1 820.6 324.0M823.2 326.2A35.0 36.1 0 1 1 772.5 328.7M774.8 326.2A35.0 36.1 0 0 1 802.3 316.4" stroke-opacity="0.0183" stroke-width="12.6"/>
<path d="M805.6 316.9A35.0 36.1 0 0 1 820.6 324.0M823.2 326.2A35.0 36.1 0 1 1 772.5 328.7M774.8 326.2A35.0 36.1 0 0 1 802.3 316.4" stroke-opacity="0.0207" stroke-width="5.9"/>
<path d="M805.6 316.9A35.0 36.1 0 0 1 820.6 324.0M823.2 326.2A35.0 36.1 0 1 1 772.5 328.7M774.8 326.2A35.0 36.1 0 0 1 780.1 322.0M783.0 320.2A35.0 36.1 0 0 1 802.3 316.4" stroke-opacity="0.0183" stroke-width="12.6"/>
<path d="M805.6 316.9A35.0 36.1 0 0 1 820.6 324.0M823.2 326.2A35.0 36.1 0 1 1 772.5 328.7M774.8 326.2A35.0 36.1 0 0 1 780.1 322.0M783.0 320.2A35.0 36.1 0 0 1 802.3 316.4" stroke-opacity="0.0207" stroke-width="5.9"/>
<path d="M805.6 316.9A35.0 36.1 0 0 1 820.6 324.0M823.2 326.2A35.0 36.1 0 0 1 832.1 340.5M833.0 343.8A35.0 36.1 0 1 1 772.5 328.7M774.8 326.2A35.0 36.1 0 0 1 780.1 322.0M783.0 320.2A35.0 36.1 0 0 1 802.3 316.4" stroke-opacity="0.0183" stroke-width="12.6"/>
<path d="M805.6 316.9A35.0 36.1 0 0 1 820.6 324.0M823.2 326.2A35.0 36.1 0 0 1 832.1 340.5M833.0 343.8A35.0 36.1 0 1 1 772.5 328.7M774.8 326.2A35.0 36.1 0 0 1 780.1 322.0M783.0 320.2A35.0 36.1 0 0 1 802.3 316.4" stroke-opacity="0.0207" stroke-width="5.9"/>
<path d="M805.6 316.9A35.0 36.1 0 0 1 820.6 324.0M823.2 326.2A35.0 36.1 0 0 1 832.1 340.5M833.0 343.8A35.0 36.1 0 1 1 770.5 331.4M774.8 326.2A35.0 36.1 0 0 1 780.1 322.0M783.0 320.2A35.0 36.1 0 0 1 802.3 316.4" stroke-opacity="0.0183" stroke-width="12.6"/>
<path d="M805.6 316.9A35.0 36.1 0 0 1 820.6 324.0M823.2 326.2A35.0 36.1 0 0 1 832.1 340.5M833.0 343.8A35.0 36.1 0 1 1 770.5 331.4M774.8 326.2A35.0 36.1 0 0 1 780.1 322.0M783.0 320.2A35.0 36.1 0 0 1 802.3 316.4" stroke-opacity="0.0207" stroke-width="5.9"/>
<path d="M805.6 316.9A35.0 36.1 0 0 1 820.6 324.0M823.2 326.2A35.0 36.1 0 0 1 827.5 331.4M829.3 334.3A35.0 36.1 0 0 1 832.1 340.5M833.0 343.8A35.0 36.1 0 1 1 770.5 331.4M774.8 326.2A35.0 36.1 0 0 1 780.1 322.0M783.0 320.2A35.0 36.1 0 0 1 802.3 316.4" stroke-opacity="0.0183" stroke-width="12.6"/>
<path d="M805.6 316.9A35.0 36.1 0 0 1 820.6 324.0M823.2 326.2A35.0 36.1 0 0 1 827.5 331.4M829.3 334.3A35.0 36.1 0 0 1 832.1 340.5M833.0 343.8A35.0 36.1 0 1 1 770.5 331.4M774.8 326.2A35.0 36.1 0 0 1 780.1 322.0M783.0 320.2A35.0 36.1 0 0 1 802.3 316.4" stroke-opacity="0.0207" stroke-width="5.9"/>
<path d="M805.6 316.9A35.0 36.1 0 0 1 820.6 324.0M823.2 326.2A35.0 36.1 0 0 1 827.5 331.4M829.3 334.3A35.0 36.1 0 0 1 830.8 337.3M833.0 343.8A35.0 36.1 0 0 1 808.9 386.9M805.6 387.7A35.0 36.1 0 0 1 767.2 337.3M768.7 334.3A35.0 36.1 0 0 1 770.5 331.4M774.8 326.2A35.0 36.1 0 0 1 780.1 322.0M786.0 318.8A35.0 36.1 0 0 1 802.3 316.4" stroke-opacity="0.0183" stroke-width="12.6"/>
<path d="M805.6 316.9A35.0 36.1 0 0 1 820.6 324.0M823.2 326.2A35.0 36.1 0 0 1 827.5 331.4M829.3 334.3A35.0 36.1 0 0 1 830.8 337.3M833.0 343.8A35.0 36.1 0 0 1 808.9 386.9M805.6 387.7A35.0 36.1 0 0 1 767.2 337.3M768.7 334.3A35.0 36.1 0 0 1 770.5 331.4M774.8 326.2A35.0 36.1 0 0 1 780.1 322.0M786.0 318.8A35.0 36.1 0 0 1 802.3 316.4" stroke-opacity="0.0207" stroke-width="5.9"/>
<path d="M805.6 316.9A35.0 36.1 0 0 1 820.6 324.0M823.2 326.2A35.0 36.1 0 0 1 827.5 331.4M829.3 334.3A35.0 36.1 0 0 1 830.8 337.3M833.0 343.8A35.0 36.1 0 0 1 833.6 347.2M834.0 350.6A35.0 36.1 0 0 1 808.9 386.9M805.6 387.7A35.0 36.1 0 0 1 767.2 337.3M768.7 334.3A35.0 36.1 0 0 1 770.5 331.4M774.8 326.2A35.0 36.1 0 0 1 780.1 322.0M786.0 318.8A35.0 36.1 0 0 1 802.3 316.4" stroke-opacity="0.0183" stroke-width="12.6"/>
<path d="M805.6 316.9A35.0 36.1 0 0 1 820.6 324.0M823.2 326.2A35.0 36.1 0 0 1 827.5 331.4M829.3 334.3A35.0 36.1 0 0 1 830.8 337.3M833.0 343.8A35.0 36.1 0 0 1 833.6 347.2M834.0 350.6A35.0 36.1 0 0 1 808.9 386.9M805.6 387.7A35.0 36.1 0 0 1 767.2 337.3M768.7 334.3A35.0 36.1 0 0 1 770.5 331.4M774.8 326.2A35.0 36.1 0 0 1 780.1 322.0M786.0 318.8A35.0 36.1 0 0 1 802.3 316.4" stroke-opacity="0.0207" stroke-width="5.9"/>
<path d="M805.6 316.9A35.0 36.1 0 0 1 820.6 324.0M823.2 326.2A35.0 36.1 0 0 1 827.5 331.4M829.3 334.3A35.0 36.1 0 0 1 830.8 337.3M833.0 343.8A35.0 36.1 0 0 1 833.6 347.2M834.0 354.0A35.0 36.1 0 0 1 833.6 357.4M833.0 360.8A35.0 36.1 0 0 1 808.9 386.9M805.6 387.7A35.0 36.1 0 0 1 774.8 378.4M772.5 375.9A35.0 36.1 0 0 1 767.2 337.3M768.7 334.3A35.0 36.1 0 0 1 770.5 331.4M774.8 326.2A35.0 36.1 0 0 1 777.4 324.0M786.0 318.8A35.0 36.1 0 0 1 802.3 316.4" stroke-opacity="0.0183" stroke-width="12.6"/>
<path d="M805.6 316.9A35.0 36.1 0 0 1 820.6 324.0M823.2 326.2A35.0 36.1 0 0 1 827.5 331.4M829.3 334.3A35.0 36.1 0 0 1 830.8 337.3M833.0 343.8A35.0 36.1 0 0 1 833.6 347.2M834.0 354.0A35.0 36.1 0 0 1 833.6 357.4M833.0 360.8A35.0 36.1 0 0 1 808.9 386.9M805.6 387.7A35.0 36.1 0 0 1 774.8 378.4M772.5 375.9A35.0 36.1 0 0 1 767.2 337.3M768.7 334.3A35.0 36.1 0 0 1 770.5 331.4M774.8 326.2A35.0 36.1 0 0 1 777.4 324.0M786.0 318.8A35.0 36.1 0 0 1 802.3 316.4" stroke-opacity="0.0207" stroke-width="5.9"/>
<path d="M805.6 316.9A35.0 36.1 0 0 1 820.6 324.0M823.2 326.2A35.0 36.1 0 0 1 827.5 331.4M829.3 334.3A35.0 36.1 0 0 1 830.8 337.3M833.0 343.8A35.0 36.1 0 0 1 833.6 347.2M834.0 354.0A35.0 36.1 0 0 1 833.6 357.4M833.0 360.8A35.0 36.1 0 0 1 827.5 373.2M825.5 375.9A35.0 36.1 0 0 1 808.9 386.9M805.6 387.7A35.0 36.1 0 0 1 802.3 388.2M799.0 388.3A35.0 36.1 0 0 1 774.8 378.4M772.5 375.9A35.0 36.1 0 0 1 764.0 350.6M764.4 347.2A35.0 36.1 0 0 1 767.2 337.3M768.7 334.3A35.0 36.1 0 0 1 770.5 331.4M786.0 318.8A35.0 36.1 0 0 1 802.3 316.4" stroke-opacity="0.0183" stroke-width="12.6"/>
<path d="M805.6 316.9A35.0 36.1 0 0 1 820.6 324.0M823.2 326.2A35.0 36.1 0 0 1 827.5 331.4M829.3 334.3A35.0 36.1 0 0 1 830.8 337.3M833.0 343.8A35.0 36.1 0 0 1 833.6 347.2M834.0 354.0A35.0 36.1 0 0 1 833.6 357.4M833.0 360.8A35.0 36.1 0 0 1 827.5 373.2M825.5 375.9A35.0 36.1 0 0 1 808.9 386.9M805.6 387.7A35.0 36.1 0 0 1 802.3 388.2M799.0 388.3A35.0 36.1 0 0 1 774.8 378.4M772.5 375.9A35.0 36.1 0 0 1 764.0 350.6M764.4 347.2A35.0 36.1 0 0 1 767.2 337.3M768.7 334.3A35.0 36.1 0 0 1 770.5 331.4M786.0 318.8A35.0 36.1 0 0 1 802.3 316.4" stroke-opacity="0.0207" stroke-width="5.9"/>
<path d="M805.6 316.9A35.0 36.1 0 0 1 815.0 320.2M817.9 322.0A35.0 36.1 0 0 1 820.6 324.0M823.2 326.2A35.0 36.1 0 0 1 827.5 331.4M829.3 334.3A35.0 36.1 0 0 1 830.8 337.3M833.0 343.8A35.0 36.1 0 0 1 833.6 347.2M834.0 354.0A35.0 36.1 0 0 1 833.6 357.4M833.0 360.8A35.0 36.1 0 0 1 827.5 373.2M825.5 375.9A35.0 36.1 0 0 1 817.9 382.6M815.0 384.3A35.0 36.1 0 0 1 808.9 386.9M805.6 387.7A35.0 36.1 0 0 1 802.3 388.2M799.0 388.3A35.0 36.1 0 0 1 774.8 378.4M772.5 375.9A35.0 36.1 0 0 1 764.0 350.6M764.4 347.2A35.0 36.1 0 0 1 765.9 340.5M768.7 334.3A35.0 36.1 0 0 1 770.5 331.4M786.0 318.8A35.0 36.1 0 0 1 802.3 316.4" stroke-opacity="0.0183" stroke-width="12.6"/>
<path d="M805.6 316.9A35.0 36.1 0 0 1 815.0 320.2M817.9 322.0A35.0 36.1 0 0 1 820.6 324.0M823.2 326.2A35.0 36.1 0 0 1 827.5 331.4M829.3 334.3A35.0 36.1 0 0 1 830.8 337.3M833.0 343.8A35.0 36.1 0 0 1 833.6 347.2M834.0 354.0A35.0 36.1 0 0 1 833.6 357.4M833.0 360.8A35.0 36.1 0 0 1 827.5 373.2M825.5 375.9A35.0 36.1 0 0 1 817.9 382.6M815.0 384.3A35.0 36.1 0 0 1 808.9 386.9M805.6 387.7A35.0 36.1 0 0 1 802.3 388.2M799.0 388.3A35.0 36.1 0 0 1 774.8 378.4M772.5 375.9A35.0 36.1 0 0 1 764.0 350.6M764.4 347.2A35.0 36.1 0 0 1 765.9 340.5M768.7 334.3A35.0 36.1 0 0 1 770.5 331.4M786.0 318.8A35.0 36.1 0 0 1 802.3 316.4" stroke-opacity="0.0207" stroke-width="5.9"/>
<path d="M805.6 316.9A35.0 36.1 0 0 1 815.0 320.2M817.9 322.0A35.0 36.1 0 0 1 820.6 324.0M823.2 326.2A35.0 36.1 0 0 1 827.5 331.4M829.3 334.3A35.0 36.1 0 0 1 830.8 337.3M833.0 343.8A35.0 36.1 0 0 1 833.6 347.2M833.0 360.8A35.0 36.1 0 0 1 827.5 373.2M825.5 375.9A35.0 36.1 0 0 1 817.9 382.6M815.0 384.3A35.0 36.1 0 0 1 808.9 386.9M805.6 387.7A35.0 36.1 0 0 1 802.3 388.2M795.7 388.2A35.0 36.1 0 0 1 774.8 378.4M772.5 375.9A35.0 36.1 0 0 1 764.0 350.6M764.4 347.2A35.0 36.1 0 0 1 765.9 340.5M789.1 317.7A35.0 36.1 0 0 1 799.0 316.2" stroke-opacity="0.0183" stroke-width="12.6"/>
<path d="M805.6 316.9A35.0 36.1 0 0 1 815.0 320.2M817.9 322.0A35.0 36.1 0 0 1 820.6 324.0M823.2 326.2A35.0 36.1 0 0 1 827.5 331.4M829.3 334.3A35.0 36.1 0 0 1 830.8 337.3M833.0 343.8A35.0 36.1 0 0 1 833.6 347.2M833.0 360.8A35.0 36.1 0 0 1 827.5 373.2M825.5 375.9A35.0 36.1 0 0 1 817.9 382.6M815.0 384.3A35.0 36.1 0 0 1 808.9 386.9M805.6 387.7A35.0 36.1 0 0 1 802.3 388.2M795.7 388.2A35.0 36.1 0 0 1 774.8 378.4M772.5 375.9A35.0 36.1 0 0 1 764.0 350.6M764.4 347.2A35.0 36.1 0 0 1 765.9 340.5M789.1 317.7A35.0 36.1 0 0 1 799.0 316.2" stroke-opacity="0.0207" stroke-width="5.9"/>
<path d="M805.6 316.9A35.0 36.1 0 0 1 815.0 320.2M817.9 322.0A35.0 36.1 0 0 1 820.6 324.0M823.2 326.2A35.0 36.1 0 0 1 827.5 331.4M829.3 334.3A35.0 36.1 0 0 1 830.8 337.3M833.0 343.8A35.0 36.1 0 0 1 833.6 347.2M833.0 360.8A35.0 36.1 0 0 1 827.5 373.2M823.2 378.4A35.0 36.1 0 0 1 817.9 382.6M815.0 384.3A35.0 36.1 0 0 1 808.9 386.9M805.6 387.7A35.0 36.1 0 0 1 802.3 388.2M795.7 388.2A35.0 36.1 0 0 1 774.8 378.4M772.5 375.9A35.0 36.1 0 0 1 765.0 360.8M764.4 357.4A35.0 36.1 0 0 1 764.0 350.6M764.4 347.2A35.0 36.1 0 0 1 765.9 340.5M789.1 317.7A35.0 36.1 0 0 1 799.0 316.2" stroke-opacity="0.0183" stroke-width="12.6"/>
<path d="M805.6 316.9A35.0 36.1 0 0 1 815.0 320.2M817.9 322.0A35.0 36.1 0 0 1 820.6 324.0M823.2 326.2A35.0 36.1 0 0 1 827.5 331.4M829.3 334.3A35.0 36.1 0 0 1 830.8 337.3M833.0 343.8A35.0 36.1 0 0 1 833.6 347.2M833.0 360.8A35.0 36.1 0 0 1 827.5 373.2M823.2 378.4A35.0 36.1 0 0 1 817.9 382.6M815.0 384.3A35.0 36.1 0 0 1 808.9 386.9M805.6 387.7A35.0 36.1 0 0 1 802.3 388.2M795.7 388.2A35.0 36.1 0 0 1 774.8 378.4M772.5 375.9A35.0 36.1 0 0 1 765.0 360.8M764.4 357.4A35.0 36.1 0 0 1 764.0 350.6M764.4 347.2A35.0 36.1 0 0 1 765.9 340.5M789.1 317.7A35.0 36.1 0 0 1 799.0 316.2" stroke-opacity="0.0207" stroke-width="5.9"/>
<path d="M805.6 316.9A35.0 36.1 0 0 1 815.0 320.2M817.9 322.0A35.0 36.1 0 0 1 820.6 324.0M823.2 326.2A35.0 36.1 0 0 1 827.5 331.4M829.3 334.3A35.0 36.1 0 0 1 830.8 337.3M833.0 343.8A35.0 36.1 0 0 1 833.6 347.2M833.0 360.8A35.0 36.1 0 0 1 830.8 367.3M829.3 370.3A35.0 36.1 0 0 1 827.5 373.2M823.2 378.4A35.0 36.1 0 0 1 817.9 382.6M815.0 384.3A35.0 36.1 0 0 1 808.9 386.9M805.6 387.7A35.0 36.1 0 0 1 802.3 388.2M792.4 387.7A35.0 36.1 0 0 1 774.8 378.4M772.5 375.9A35.0 36.1 0 0 1 765.0 360.8M764.4 357.4A35.0 36.1 0 0 1 764.0 350.6M764.4 347.2A35.0 36.1 0 0 1 765.0 343.8M789.1 317.7A35.0 36.1 0 0 1 799.0 316.2" stroke-opacity="0.0183" stroke-width="12.6"/>
<path d="M805.6 316.9A35.0 36.1 0 0 1 815.0 320.2M817.9 322.0A35.0 36.1 0 0 1 820.6 324.0M823.2 326.2A35.0 36.1 0 0 1 827.5 331.4M829.3 334.3A35.0 36.1 0 0 1 830.8 337.3M833.0 343.8A35.0 36.1 0 0 1 833.6 347.2M833.0 360.8A35.0 36.1 0 0 1 830.8 367.3M829.3 370.3A35.0 36.1 0 0 1 827.5 373.2M823.2 378.4A35.0 36.1 0 0 1 817.9 382.6M815.0 384.3A35.0 36.1 0 0 1 808.9 386.9M805.6 387.7A35.0 36.1 0 0 1 802.3 388.2M792.4 387.7A35.0 36.1 0 0 1 774.8 378.4M772.5 375.9A35.0 36.1 0 0 1 765.0 360.8M764.4 357.4A35.0 36.1 0 0 1 764.0 350.6M764.4 347.2A35.0 36.1 0 0 1 765.0 343.8M789.1 317.7A35.0 36.1 0 0 1 799.0 316.2" stroke-opacity="0.0207" stroke-width="5.9"/>
<path d="M805.6 316.9A35.0 36.1 0 0 1 815.0 320.2M817.9 322.0A35.0 36.1 0 0 1 820.6 324.0M823.2 326.2A35.0 36.1 0 0 1 827.5 331.4M829.3 334.3A35.0 36.1 0 0 1 830.8 337.3M833.0 360.8A35.0 36.1 0 0 1 830.8 367.3M823.2 378.4A35.0 36.1 0 0 1 820.6 380.6M815.0 384.3A35.0 36.1 0 0 1 808.9 386.9M805.6 387.7A35.0 36.1 0 0 1 802.3 388.2M792.4 387.7A35.0 36.1 0 0 1 783.0 384.3M780.1 382.6A35.0 36.1 0 0 1 774.8 378.4M772.5 375.9A35.0 36.1 0 0 1 765.0 360.8M764.4 357.4A35.0 36.1 0 0 1 764.0 350.6M764.4 347.2A35.0 36.1 0 0 1 765.0 343.8M792.4 316.9A35.0 36.1 0 0 1 799.0 316.2" stroke-opacity="0.0183" stroke-width="12.6"/>
<path d="M805.6 316.9A35.0 36.1 0 0 1 815.0 320.2M817.9 322.0A35.0 36.1 0 0 1 820.6 324.0M823.2 326.2A35.0 36.1 0 0 1 827.5 331.4M829.3 334.3A35.0 36.1 0 0 1 830.8 337.3M833.0 360.8A35.0 36.1 0 0 1 830.8 367.3M823.2 378.4A35.0 36.1 0 0 1 820.6 380.6M815.0 384.3A35.0 36.1 0 0 1 808.9 386.9M805.6 387.7A35.0 36.1 0 0 1 802.3 388.2M792.4 387.7A35.0 36.1 0 0 1 783.0 384.3M780.1 382.6A35.0 36.1 0 0 1 774.8 378.4M772.5 375.9A35.0 36.1 0 0 1 765.0 360.8M764.4 357.4A35.0 36.1 0 0 1 764.0 350.6M764.4 347.2A35.0 36.1 0 0 1 765.0 343.8M792.4 316.9A35.0 36.1 0 0 1 799.0 316.2" stroke-opacity="0.0207" stroke-width="5.9"/>
<path d="M805.6 316.9A35.0 36.1 0 0 1 812.0 318.8M817.9 322.0A35.0 36.1 0 0 1 820.6 324.0M823.2 326.2A35.0 36.1 0 0 1 827.5 331.4M829.3 334.3A35.0 36.1 0 0 1 830.8 337.3M833.0 360.8A35.0 36.1 0 0 1 832.1 364.1M815.0 384.3A35.0 36.1 0 0 1 808.9 386.9M805.6 387.7A35.0 36.1 0 0 1 802.3 388.2M792.4 387.7A35.0 36.1 0 0 1 783.0 384.3M780.1 382.6A35.0 36.1 0 0 1 774.8 378.4M770.5 373.2A35.0 36.1 0 0 1 765.0 360.8M764.4 357.4A35.0 36.1 0 0 1 764.0 354.0M764.4 347.2A35.0 36.1 0 0 1 765.0 343.8M792.4 316.9A35.0 36.1 0 0 1 799.0 316.2" stroke-opacity="0.0183" stroke-width="12.6"/>
<path d="M805.6 316.9A35.0 36.1 0 0 1 812.0 318.8M817.9 322.0A35.0 36.1 0 0 1 820.6 324.0M823.2 326.2A35.0 36.1 0 0 1 827.5 331.4M829.3 334.3A35.0 36.1 0 0 1 830.8 337.3M833.0 360.8A35.0 36.1 0 0 1 832.1 364.1M815.0 384.3A35.0 36.1 0 0 1 808.9 386.9M805.6 387.7A35.0 36.1 0 0 1 802.3 388.2M792.4 387.7A35.0 36.1 0 0 1 783.0 384.3M780.1 382.6A35.0 36.1 0 0 1 774.8 378.4M770.5 373.2A35.0 36.1 0 0 1 765.0 360.8M764.4 357.4A35.0 36.1 0 0 1 764.0 354.0M764.4 347.2A35.0 36.1 0 0 1 765.0 343.8M792.4 316.9A35.0 36.1 0 0 1 799.0 316.2" stroke-opacity="0.0207" stroke-width="5.9"/>
<path d="M805.6 316.9A35.0 36.1 0 0 1 812.0 318.8M823.2 326.2A35.0 36.1 0 0 1 827.5 331.4M829.3 334.3A35.0 36.1 0 0 1 830.8 337.3M815.0 384.3A35.0 36.1 0 0 1 808.9 386.9M805.6 387.7A35.0 36.1 0 0 1 802.3 388.2M792.4 387.7A35.0 36.1 0 0 1 783.0 384.3M780.1 382.6A35.0 36.1 0 0 1 777.4 380.6M768.7 370.3A35.0 36.1 0 0 1 765.0 360.8M764.4 357.4A35.0 36.1 0 0 1 764.0 354.0M764.4 347.2A35.0 36.1 0 0 1 765.0 343.8M792.4 316.9A35.0 36.1 0 0 1 799.0 316.2" stroke-opacity="0.0183" stroke-width="12.6"/>
<path d="M805.6 316.9A35.0 36.1 0 0 1 812.0 318.8M823.2 326.2A35.0 36.1 0 0 1 827.5 331.4M829.3 334.3A35.0 36.1 0 0 1 830.8 337.3M815.0 384.3A35.0 36.1 0 0 1 808.9 386.9M805.6 387.7A35.0 36.1 0 0 1 802.3 388.2M792.4 387.7A35.0 36.1 0 0 1 783.0 384.3M780.1 382.6A35.0 36.1 0 0 1 777.4 380.6M768.7 370.3A35.0 36.1 0 0 1 765.0 360.8M764.4 357.4A35.0 36.1 0 0 1 764.0 354.0M764.4 347.2A35.0 36.1 0 0 1 765.0 343.8M792.4 316.9A35.0 36.1 0 0 1 799.0 316.2" stroke-opacity="0.0207" stroke-width="5.9"/>
<path d="M805.6 316.9A35.0 36.1 0 0 1 808.9 317.7M825.5 328.7A35.0 36.1 0 0 1 827.5 331.4M829.3 334.3A35.0 36.1 0 0 1 830.8 337.3M815.0 384.3A35.0 36.1 0 0 1 808.9 386.9M805.6 387.7A35.0 36.1 0 0 1 802.3 388.2M792.4 387.7A35.0 36.1 0 0 1 783.0 384.3M780.1 382.6A35.0 36.1 0 0 1 777.4 380.6M768.7 370.3A35.0 36.1 0 0 1 765.0 360.8M764.4 357.4A35.0 36.1 0 0 1 764.0 354.0M764.4 347.2A35.0 36.1 0 0 1 765.0 343.8M792.4 316.9A35.0 36.1 0 0 1 799.0 316.2" stroke-opacity="0.0183" stroke-width="12.6"/>
<path d="M805.6 316.9A35.0 36.1 0 0 1 808.9 317.7M825.5 328.7A35.0 36.1 0 0 1 827.5 331.4M829.3 334.3A35.0 36.1 0 0 1 830.8 337.3M815.0 384.3A35.0 36.1 0 0 1 808.9 386.9M805.6 387.7A35.0 36.1 0 0 1 802.3 388.2M792.4 387.7A35.0 36.1 0 0 1 783.0 384.3M780.1 382.6A35.0 36.1 0 0 1 777.4 380.6M768.7 370.3A35.0 36.1 0 0 1 765.0 360.8M764.4 357.4A35.0 36.1 0 0 1 764.0 354.0M764.4 347.2A35.0 36.1 0 0 1 765.0 343.8M792.4 316.9A35.0 36.1 0 0 1 799.0 316.2" stroke-opacity="0.0207" stroke-width="5.9"/>
<path d="M805.6 316.9A35.0 36.1 0 0 1 808.9 317.7M825.5 328.7A35.0 36.1 0 0 1 827.5 331.4M815.0 384.3A35.0 36.1 0 0 1 808.9 386.9M805.6 387.7A35.0 36.1 0 0 1 802.3 388.2M792.4 387.7A35.0 36.1 0 0 1 783.0 384.3M780.1 382.6A35.0 36.1 0 0 1 777.4 380.6M768.7 370.3A35.0 36.1 0 0 1 765.0 360.8M764.4 357.4A35.0 36.1 0 0 1 764.0 354.0M764.4 347.2A35.0 36.1 0 0 1 765.0 343.8M792.4 316.9A35.0 36.1 0 0 1 799.0 316.2" stroke-opacity="0.0183" stroke-width="12.6"/>
<path d="M805.6 316.9A35.0 36.1 0 0 1 808.9 317.7M825.5 328.7A35.0 36.1 0 0 1 827.5 331.4M815.0 384.3A35.0 36.1 0 0 1 808.9 386.9M805.6 387.7A35.0 36.1 0 0 1 802.3 388.2M792.4 387.7A35.0 36.1 0 0 1 783.0 384.3M780.1 382.6A35.0 36.1 0 0 1 777.4 380.6M768.7 370.3A35.0 36.1 0 0 1 765.0 360.8M764.4 357.4A35.0 36.1 0 0 1 764.0 354.0M764.4 347.2A35.0 36.1 0 0 1 765.0 343.8M792.4 316.9A35.0 36.1 0 0 1 799.0 316.2" stroke-opacity="0.0207" stroke-width="5.9"/>
<path d="M805.6 316.9A35.0 36.1 0 0 1 808.9 317.7M825.5 328.7A35.0 36.1 0 0 1 827.5 331.4M815.0 384.3A35.0 36.1 0 0 1 808.9 386.9M805.6 387.7A35.0 36.1 0 0 1 802.3 388.2M792.4 387.7A35.0 36.1 0 0 1 783.0 384.3M768.7 370.3A35.0 36.1 0 0 1 765.0 360.8M764.4 357.4A35.0 36.1 0 0 1 764.0 354.0M764.4 347.2A35.0 36.1 0 0 1 765.0 343.8M792.4 316.9A35.0 36.1 0 0 1 799.0 316.2" stroke-opacity="0.0183" stroke-width="12.6"/>
<path d="M805.6 316.9A35.0 36.1 0 0 1 808.9 317.7M825.5 328.7A35.0 36.1 0 0 1 827.5 331.4M815.0 384.3A35.0 36.1 0 0 1 808.9 386.9M805.6 387.7A35.0 36.1 0 0 1 802.3 388.2M792.4 387.7A35.0 36.1 0 0 1 783.0 384.3M768.7 370.3A35.0 36.1 0 0 1 765.0 360.8M764.4 357.4A35.0 36.1 0 0 1 764.0 354.0M764.4 347.2A35.0 36.1 0 0 1 765.0 343.8M792.4 316.9A35.0 36.1 0 0 1 799.0 316.2" stroke-opacity="0.0207" stroke-width="5.9"/>
<path d="M805.6 316.9A35.0 36.1 0 0 1 808.9 317.7M825.5 328.7A35.0 36.1 0 0 1 827.5 331.4M812.0 385.8A35.0 36.1 0 0 1 808.9 386.9M805.6 387.7A35.0 36.1 0 0 1 802.3 388.2M768.7 370.3A35.0 36.1 0 0 1 765.0 360.8M764.4 357.4A35.0 36.1 0 0 1 764.0 354.0M764.4 347.2A35.0 36.1 0 0 1 765.0 343.8M792.4 316.9A35.0 36.1 0 0 1 799.0 316.2" stroke-opacity="0.0183" stroke-width="12.6"/>
<path d="M805.6 316.9A35.0 36.1 0 0 1 808.9 317.7M825.5 328.7A35.0 36.1 0 0 1 827.5 331.4M812.0 385.8A35.0 36.1 0 0 1 808.9 386.9M805.6 387.7A35.0 36.1 0 0 1 802.3 388.2M768.7 370.3A35.0 36.1 0 0 1 765.0 360.8M764.4 357.4A35.0 36.1 0 0 1 764.0 354.0M764.4 347.2A35.0 36.1 0 0 1 765.0 343.8M792.4 316.9A35.0 36.1 0 0 1 799.0 316.2" stroke-opacity="0.0207" stroke-width="5.9"/>
<path d="M805.6 316.9A35.0 36.1 0 0 1 808.9 317.7M825.5 328.7A35.0 36.1 0 0 1 827.5 331.4M812.0 385.8A35.0 36.1 0 0 1 808.9 386.9M805.6 387.7A35.0 36.1 0 0 1 802.3 388.2M768.7 370.3A35.0 36.1 0 0 1 765.0 360.8M764.4 357.4A35.0 36.1 0 0 1 764.0 354.0M792.4 316.9A35.0 36.1 0 0 1 799.0 316.2" stroke-opacity="0.0183" stroke-width="12.6"/>
<path d="M805.6 316.9A35.0 36.1 0 0 1 808.9 317.7M825.5 328.7A35.0 36.1 0 0 1 827.5 331.4M812.0 385.8A35.0 36.1 0 0 1 808.9 386.9M805.6 387.7A35.0 36.1 0 0 1 802.3 388.2M768.7 370.3A35.0 36.1 0 0 1 765.0 360.8M764.4 357.4A35.0 36.1 0 0 1 764.0 354.0M792.4 316.9A35.0 36.1 0 0 1 799.0 316.2" stroke-opacity="0.0207" stroke-width="5.9"/>
<path d="M805.6 316.9A35.0 36.1 0 0 1 808.9 317.7M825.5 328.7A35.0 36.1 0 0 1 827.5 331.4M812.0 385.8A35.0 36.1 0 0 1 808.9 386.9M768.7 370.3A35.0 36.1 0 0 1 765.0 360.8M764.4 357.4A35.0 36.1 0 0 1 764.0 354.0M792.4 316.9A35.0 36.1 0 0 1 795.7 316.4" stroke-opacity="0.0183" stroke-width="12.6"/>
<path d="M805.6 316.9A35.0 36.1 0 0 1 808.9 317.7M825.5 328.7A35.0 36.1 0 0 1 827.5 331.4M812.0 385.8A35.0 36.1 0 0 1 808.9 386.9M768.7 370.3A35.0 36.1 0 0 1 765.0 360.8M764.4 357.4A35.0 36.1 0 0 1 764.0 354.0M792.4 316.9A35.0 36.1 0 0 1 795.7 316.4" stroke-opacity="0.0207" stroke-width="5.9"/>
<path d="M805.6 316.9A35.0 36.1 0 0 1 808.9 317.7M825.5 328.7A35.0 36.1 0 0 1 827.5 331.4M812.0 385.8A35.0 36.1 0 0 1 808.9 386.9M767.2 367.3A35.0 36.1 0 0 1 765.0 360.8M764.4 357.4A35.0 36.1 0 0 1 764.0 354.0M792.4 316.9A35.0 36.1 0 0 1 795.7 316.4" stroke-opacity="0.0183" stroke-width="12.6"/>
<path d="M805.6 316.9A35.0 36.1 0 0 1 808.9 317.7M825.5 328.7A35.0 36.1 0 0 1 827.5 331.4M812.0 385.8A35.0 36.1 0 0 1 808.9 386.9M767.2 367.3A35.0 36.1 0 0 1 765.0 360.8M764.4 357.4A35.0 36.1 0 0 1 764.0 354.0M792.4 316.9A35.0 36.1 0 0 1 795.7 316.4" stroke-opacity="0.0207" stroke-width="5.9"/>
<path d="M805.6 316.9A35.0 36.1 0 0 1 808.9 317.7M825.5 328.7A35.0 36.1 0 0 1 827.5 331.4M812.0 385.8A35.0 36.1 0 0 1 808.9 386.9M767.2 367.3A35.0 36.1 0 0 1 765.0 360.8M764.4 357.4A35.0 36.1 0 0 1 764.0 354.0M792.4 316.9A35.0 36.1 0 0 1 795.7 316.4" stroke-opacity="0.0183" stroke-width="12.6"/>
<path d="M805.6 316.9A35.0 36.1 0 0 1 808.9 317.7M825.5 328.7A35.0 36.1 0 0 1 827.5 331.4M812.0 385.8A35.0 36.1 0 0 1 808.9 386.9M767.2 367.3A35.0 36.1 0 0 1 765.0 360.8M764.4 357.4A35.0 36.1 0 0 1 764.0 354.0M792.4 316.9A35.0 36.1 0 0 1 795.7 316.4" stroke-opacity="0.0207" stroke-width="5.9"/>
<path d="M805.6 316.9A35.0 36.1 0 0 1 808.9 317.7M825.5 328.7A35.0 36.1 0 0 1 827.5 331.4M812.0 385.8A35.0 36.1 0 0 1 808.9 386.9M767.2 367.3A35.0 36.1 0 0 1 765.0 360.8M764.4 357.4A35.0 36.1 0 0 1 764.0 354.0" stroke-opacity="0.0183" stroke-width="12.6"/>
<path d="M805.6 316.9A35.0 36.1 0 0 1 808.9 317.7M825.5 328.7A35.0 36.1 0 0 1 827.5 331.4M812.0 385.8A35.0 36.1 0 0 1 808.9 386.9M767.2 367.3A35.0 36.1 0 0 1 765.0 360.8M764.4 357.4A35.0 36.1 0 0 1 764.0 354.0" stroke-opacity="0.0207" stroke-width="5.9"/>
<path d="M805.6 316.9A35.0 36.1 0 0 1 808.9 317.7M825.5 328.7A35.0 36.1 0 0 1 827.5 331.4M812.0 385.8A35.0 36.1 0 0 1 808.9 386.9M765.9 364.1A35.0 36.1 0 0 1 765.0 360.8M764.4 357.4A35.0 36.1 0 0 1 764.0 354.0" stroke-opacity="0.0183" stroke-width="12.6"/>
<path d="M805.6 316.9A35.0 36.1 0 0 1 808.9 317.7M825.5 328.7A35.0 36.1 0 0 1 827.5 331.4M812.0 385.8A35.0 36.1 0 0 1 808.9 386.9M765.9 364.1A35.0 36.1 0 0 1 765.0 360.8M764.4 357.4A35.0 36.1 0 0 1 764.0 354.0" stroke-opacity="0.0207" stroke-width="5.9"/>
<path d="M805.6 316.9A35.0 36.1 0 0 1 808.9 317.7M812.0 385.8A35.0 36.1 0 0 1 808.9 386.9M765.9 364.1A35.0 36.1 0 0 1 765.0 360.8M764.4 357.4A35.0 36.1 0 0 1 764.0 354.0" stroke-opacity="0.0183" stroke-width="12.6"/>
<path d="M805.6 316.9A35.0 36.1 0 0 1 808.9 317.7M812.0 385.8A35.0 36.1 0 0 1 808.9 386.9M765.9 364.1A35.0 36.1 0 0 1 765.0 360.8M764.4 357.4A35.0 36.1 0 0 1 764.0 354.0" stroke-opacity="0.0207" stroke-width="5.9"/>
<path d="M805.6 316.9A35.0 36.1 0 0 1 808.9 317.7M812.0 385.8A35.0 36.1 0 0 1 808.9 386.9M765.9 364.1A35.0 36.1 0 0 1 765.0 360.8M764.4 357.4A35.0 36.1 0 0 1 764.0 354.0" stroke-opacity="0.0183" stroke-width="12.6"/>
<path d="M805.6 316.9A35.0 36.1 0 0 1 808.9 317.7M812.0 385.8A35.0 36.1 0 0 1 808.9 386.9M765.9 364.1A35.0 36.1 0 0 1 765.0 360.8M764.4 357.4A35.0 36.1 0 0 1 764.0 354.0" stroke-opacity="0.0207" stroke-width="5.9"/>
<path d="M805.6 316.9A35.0 36.1 0 0 1 808.9 317.7M765.9 364.1A35.0 36.1 0 0 1 765.0 360.8M764.4 357.4A35.0 36.1 0 0 1 764.0 354.0" stroke-opacity="0.0183" stroke-width="12.6"/>
<path d="M805.6 316.9A35.0 36.1 0 0 1 808.9 317.7M765.9 364.1A35.0 36.1 0 0 1 765.0 360.8M764.4 357.4A35.0 36.1 0 0 1 764.0 354.0" stroke-opacity="0.0207" stroke-width="5.9"/>
<path d="M805.6 316.9A35.0 36.1 0 0 1 808.9 317.7" stroke-opacity="0.0183" stroke-width="12.6"/>
<path d="M805.6 316.9A35.0 36.1 0 0 1 808.9 317.7" stroke-opacity="0.0207" stroke-width="5.9"/>
<path d="M805.6 316.9A35.0 36.1 0 0 1 808.9 317.7" stroke-opacity="0.0183" stroke-width="12.6"/>
<path d="M805.6 316.9A35.0 36.1 0 0 1 808.9 317.7" stroke-opacity="0.0207" stroke-width="5.9"/>
<path d="M805.6 316.9A35.0 36.1 0 0 1 808.9 317.7" stroke-opacity="0.0183" stroke-width="12.6"/>
<path d="M805.6 316.9A35.0 36.1 0 0 1 808.9 317.7" stroke-opacity="0.0207" stroke-width="5.9"/>
<path d="M805.6 316.9A35.0 36.1 0 0 1 808.9 317.7" stroke-opacity="0.0183" stroke-width="12.6"/>
<path d="M805.6 316.9A35.0 36.1 0 0 1 808.9 317.7" stroke-opacity="0.0207" stroke-width="5.9"/>
<path d="M805.6 316.9A35.0 36.1 0 0 1 808.9 317.7" stroke-opacity="0.0183" stroke-width="12.6"/>
<path d="M805.6 316.9A35.0 36.1 0 0 1 808.9 317.7" stroke-opacity="0.0207" stroke-width="5.9"/>
<path d="M805.6 316.9A35.0 36.1 0 0 1 808.9 317.7" stroke-opacity="0.0183" stroke-width="12.6"/>
<path d="M805.6 316.9A35.0 36.1 0 0 1 808.9 317.7" stroke-opacity="0.0207" stroke-width="5.9"/>
</g></g>
<path d="M790.30 349.79a7.3 7.2 0 0 1 6.5 -7.1l0.6 -0.9 0.8 0.8a7.3 7.3 0 1 1 -7.9 7.2Z" fill="#dff6ff"/>
<clipPath id="ic7"><rect x="849.90" y="307.99" width="95.6" height="87.3"/></clipPath>
<g clip-path="url(#ic7)"><g filter="url(#nf7)" fill="none" stroke="#fff">
<rect x="846.90" y="304.99" width="101.6" height="93.3" fill="#0c0c0c" stroke="none"/>
<path d="M861.7 352.3A36.0 37.1 0 1 1 933.7 352.3A36.0 37.1 0 1 1 861.7 352.3Z" stroke-opacity="0.0183" stroke-width="12.3"/>
<path d="M861.7 352.3A36.0 37.1 0 1 1 933.7 352.3A36.0 37.1 0 1 1 861.7 352.3Z" stroke-opacity="0.0207" stroke-width="5.7"/>
<path d="M861.7 352.3A36.0 37.1 0 1 1 933.7 352.3A36.0 37.1 0 1 1 861.7 352.3Z" stroke-opacity="0.0183" stroke-width="12.3"/>
<path d="M861.7 352.3A36.0 37.1 0 1 1 933.7 352.3A36.0 37.1 0 1 1 861.7 352.3Z" stroke-opacity="0.0207" stroke-width="5.7"/>
<path d="M881.2 385.2A36.0 37.1 0 1 1 884.3 386.7" stroke-opacity="0.0183" stroke-width="12.3"/>
<path d="M881.2 385.2A36.0 37.1 0 1 1 884.3 386.7" stroke-opacity="0.0207" stroke-width="5.7"/>
<path d="M928.9 333.8A36.0 37.1 0 0 1 933.7 350.5M933.7 354.1A36.0 37.1 0 0 1 890.9 388.7M887.6 387.9A36.0 37.1 0 0 1 884.3 386.7M881.2 385.2A36.0 37.1 0 0 1 870.5 376.6M868.4 373.8A36.0 37.1 0 0 1 861.7 350.5M862.1 347.0A36.0 37.1 0 0 1 881.2 319.3M884.3 317.9A36.0 37.1 0 0 1 927.0 330.8" stroke-opacity="0.0183" stroke-width="12.3"/>
<path d="M928.9 333.8A36.0 37.1 0 0 1 933.7 350.5M933.7 354.1A36.0 37.1 0 0 1 890.9 388.7M887.6 387.9A36.0 37.1 0 0 1 884.3 386.7M881.2 385.2A36.0 37.1 0 0 1 870.5 376.6M868.4 373.8A36.0 37.1 0 0 1 861.7 350.5M862.1 347.0A36.0 37.1 0 0 1 881.2 319.3M884.3 317.9A36.0 37.1 0 0 1 927.0 330.8" stroke-opacity="0.0207" stroke-width="5.7"/>
<path d="M914.2 319.3A36.0 37.1 0 0 1 924.9 328.0M930.4 336.9A36.0 37.1 0 0 1 933.7 350.5M933.7 354.1A36.0 37.1 0 0 1 890.9 388.7M887.6 387.9A36.0 37.1 0 0 1 884.3 386.7M881.2 385.2A36.0 37.1 0 0 1 870.5 376.6M866.5 370.8A36.0 37.1 0 0 1 861.7 354.1M862.1 347.0A36.0 37.1 0 0 1 863.7 340.2M865.0 336.9A36.0 37.1 0 0 1 868.4 330.8M875.4 323.1A36.0 37.1 0 0 1 881.2 319.3M884.3 317.9A36.0 37.1 0 0 1 887.6 316.7M890.9 315.9A36.0 37.1 0 0 1 911.1 317.9" stroke-opacity="0.0183" stroke-width="12.3"/>
<path d="M914.2 319.3A36.0 37.1 0 0 1 924.9 328.0M930.4 336.9A36.0 37.1 0 0 1 933.7 350.5M933.7 354.1A36.0 37.1 0 0 1 890.9 388.7M887.6 387.9A36.0 37.1 0 0 1 884.3 386.7M881.2 385.2A36.0 37.1 0 0 1 870.5 376.6M866.5 370.8A36.0 37.1 0 0 1 861.7 354.1M862.1 347.0A36.0 37.1 0 0 1 863.7 340.2M865.0 336.9A36.0 37.1 0 0 1 868.4 330.8M875.4 323.1A36.0 37.1 0 0 1 881.2 319.3M884.3 317.9A36.0 37.1 0 0 1 887.6 316.7M890.9 315.9A36.0 37.1 0 0 1 911.1 317.9" stroke-opacity="0.0207" stroke-width="5.7"/>
<path d="M914.2 319.3A36.0 37.1 0 0 1 924.9 328.0M930.4 336.9A36.0 37.1 0 0 1 933.7 350.5M933.3 357.6A36.0 37.1 0 0 1 907.8 387.9M904.5 388.7A36.0 37.1 0 0 1 890.9 388.7M887.6 387.9A36.0 37.1 0 0 1 884.3 386.7M881.2 385.2A36.0 37.1 0 0 1 878.2 383.5M875.4 381.4A36.0 37.1 0 0 1 870.5 376.6M866.5 370.8A36.0 37.1 0 0 1 865.0 367.7M863.7 364.4A36.0 37.1 0 0 1 861.7 354.1M862.1 347.0A36.0 37.1 0 0 1 863.7 340.2M866.5 333.8A36.0 37.1 0 0 1 868.4 330.8M875.4 323.1A36.0 37.1 0 0 1 881.2 319.3M884.3 317.9A36.0 37.1 0 0 1 887.6 316.7M890.9 315.9A36.0 37.1 0 0 1 907.8 316.7" stroke-opacity="0.0183" stroke-width="12.3"/>
<path d="M914.2 319.3A36.0 37.1 0 0 1 924.9 328.0M930.4 336.9A36.0 37.1 0 0 1 933.7 350.5M933.3 357.6A36.0 37.1 0 0 1 907.8 387.9M904.5 388.7A36.0 37.1 0 0 1 890.9 388.7M887.6 387.9A36.0 37.1 0 0 1 884.3 386.7M881.2 385.2A36.0 37.1 0 0 1 878.2 383.5M875.4 381.4A36.0 37.1 0 0 1 870.5 376.6M866.5 370.8A36.0 37.1 0 0 1 865.0 367.7M863.7 364.4A36.0 37.1 0 0 1 861.7 354.1M862.1 347.0A36.0 37.1 0 0 1 863.7 340.2M866.5 333.8A36.0 37.1 0 0 1 868.4 330.8M875.4 323.1A36.0 37.1 0 0 1 881.2 319.3M884.3 317.9A36.0 37.1 0 0 1 887.6 316.7M890.9 315.9A36.0 37.1 0 0 1 907.8 316.7" stroke-opacity="0.0207" stroke-width="5.7"/>
<path d="M901.1 315.4A36.0 37.1 0 0 1 907.8 316.7M917.2 321.1A36.0 37.1 0 0 1 922.5 325.5M930.4 336.9A36.0 37.1 0 0 1 931.7 340.2M932.7 343.5A36.0 37.1 0 0 1 933.7 350.5M933.3 357.6A36.0 37.1 0 0 1 932.7 361.0M930.4 367.7A36.0 37.1 0 0 1 920.0 381.4M917.2 383.5A36.0 37.1 0 0 1 911.1 386.7M901.1 389.2A36.0 37.1 0 0 1 890.9 388.7M887.6 387.9A36.0 37.1 0 0 1 884.3 386.7M875.4 381.4A36.0 37.1 0 0 1 870.5 376.6M866.5 370.8A36.0 37.1 0 0 1 865.0 367.7M863.7 364.4A36.0 37.1 0 0 1 861.7 354.1M862.1 347.0A36.0 37.1 0 0 1 863.7 340.2M866.5 333.8A36.0 37.1 0 0 1 868.4 330.8M875.4 323.1A36.0 37.1 0 0 1 881.2 319.3M884.3 317.9A36.0 37.1 0 0 1 887.6 316.7M890.9 315.9A36.0 37.1 0 0 1 894.3 315.4" stroke-opacity="0.0183" stroke-width="12.3"/>
<path d="M901.1 315.4A36.0 37.1 0 0 1 907.8 316.7M917.2 321.1A36.0 37.1 0 0 1 922.5 325.5M930.4 336.9A36.0 37.1 0 0 1 931.7 340.2M932.7 343.5A36.0 37.1 0 0 1 933.7 350.5M933.3 357.6A36.0 37.1 0 0 1 932.7 361.0M930.4 367.7A36.0 37.1 0 0 1 920.0 381.4M917.2 383.5A36.0 37.1 0 0 1 911.1 386.7M901.1 389.2A36.0 37.1 0 0 1 890.9 388.7M887.6 387.9A36.0 37.1 0 0 1 884.3 386.7M875.4 381.4A36.0 37.1 0 0 1 870.5 376.6M866.5 370.8A36.0 37.1 0 0 1 865.0 367.7M863.7 364.4A36.0 37.1 0 0 1 861.7 354.1M862.1 347.0A36.0 37.1 0 0 1 863.7 340.2M866.5 333.8A36.0 37.1 0 0 1 868.4 330.8M875.4 323.1A36.0 37.1 0 0 1 881.2 319.3M884.3 317.9A36.0 37.1 0 0 1 887.6 316.7M890.9 315.9A36.0 37.1 0 0 1 894.3 315.4" stroke-opacity="0.0207" stroke-width="5.7"/>
<path d="M901.1 315.4A36.0 37.1 0 0 1 907.8 316.7M917.2 321.1A36.0 37.1 0 0 1 922.5 325.5M930.4 336.9A36.0 37.1 0 0 1 931.7 340.2M933.3 347.0A36.0 37.1 0 0 1 933.7 350.5M933.3 357.6A36.0 37.1 0 0 1 932.7 361.0M927.0 373.8A36.0 37.1 0 0 1 924.9 376.6M917.2 383.5A36.0 37.1 0 0 1 911.1 386.7M901.1 389.2A36.0 37.1 0 0 1 890.9 388.7M872.9 379.1A36.0 37.1 0 0 1 870.5 376.6M866.5 370.8A36.0 37.1 0 0 1 865.0 367.7M863.7 364.4A36.0 37.1 0 0 1 862.1 357.6M862.1 347.0A36.0 37.1 0 0 1 863.7 340.2M866.5 333.8A36.0 37.1 0 0 1 868.4 330.8M884.3 317.9A36.0 37.1 0 0 1 887.6 316.7M890.9 315.9A36.0 37.1 0 0 1 894.3 315.4" stroke-opacity="0.0183" stroke-width="12.3"/>
<path d="M901.1 315.4A36.0 37.1 0 0 1 907.8 316.7M917.2 321.1A36.0 37.1 0 0 1 922.5 325.5M930.4 336.9A36.0 37.1 0 0 1 931.7 340.2M933.3 347.0A36.0 37.1 0 0 1 933.7 350.5M933.3 357.6A36.0 37.1 0 0 1 932.7 361.0M927.0 373.8A36.0 37.1 0 0 1 924.9 376.6M917.2 383.5A36.0 37.1 0 0 1 911.1 386.7M901.1 389.2A36.0 37.1 0 0 1 890.9 388.7M872.9 379.1A36.0 37.1 0 0 1 870.5 376.6M866.5 370.8A36.0 37.1 0 0 1 865.0 367.7M863.7 364.4A36.0 37.1 0 0 1 862.1 357.6M862.1 347.0A36.0 37.1 0 0 1 863.7 340.2M866.5 333.8A36.0 37.1 0 0 1 868.4 330.8M884.3 317.9A36.0 37.1 0 0 1 887.6 316.7M890.9 315.9A36.0 37.1 0 0 1 894.3 315.4" stroke-opacity="0.0207" stroke-width="5.7"/>
<path d="M917.2 321.1A36.0 37.1 0 0 1 922.5 325.5M933.3 347.0A36.0 37.1 0 0 1 933.7 350.5M917.2 383.5A36.0 37.1 0 0 1 914.2 385.2M897.7 389.4A36.0 37.1 0 0 1 890.9 388.7M872.9 379.1A36.0 37.1 0 0 1 870.5 376.6M866.5 370.8A36.0 37.1 0 0 1 865.0 367.7M863.7 364.4A36.0 37.1 0 0 1 862.7 361.0M862.7 343.5A36.0 37.1 0 0 1 863.7 340.2M884.3 317.9A36.0 37.1 0 0 1 887.6 316.7M890.9 315.9A36.0 37.1 0 0 1 894.3 315.4" stroke-opacity="0.0183" stroke-width="12.3"/>
<path d="M917.2 321.1A36.0 37.1 0 0 1 922.5 325.5M933.3 347.0A36.0 37.1 0 0 1 933.7 350.5M917.2 383.5A36.0 37.1 0 0 1 914.2 385.2M897.7 389.4A36.0 37.1 0 0 1 890.9 388.7M872.9 379.1A36.0 37.1 0 0 1 870.5 376.6M866.5 370.8A36.0 37.1 0 0 1 865.0 367.7M863.7 364.4A36.0 37.1 0 0 1 862.7 361.0M862.7 343.5A36.0 37.1 0 0 1 863.7 340.2M884.3 317.9A36.0 37.1 0 0 1 887.6 316.7M890.9 315.9A36.0 37.1 0 0 1 894.3 315.4" stroke-opacity="0.0207" stroke-width="5.7"/>
<path d="M917.2 321.1A36.0 37.1 0 0 1 922.5 325.5M933.3 347.0A36.0 37.1 0 0 1 933.7 350.5M897.7 389.4A36.0 37.1 0 0 1 894.3 389.2M866.5 370.8A36.0 37.1 0 0 1 865.0 367.7M863.7 364.4A36.0 37.1 0 0 1 862.7 361.0M884.3 317.9A36.0 37.1 0 0 1 887.6 316.7" stroke-opacity="0.0183" stroke-width="12.3"/>
<path d="M917.2 321.1A36.0 37.1 0 0 1 922.5 325.5M933.3 347.0A36.0 37.1 0 0 1 933.7 350.5M897.7 389.4A36.0 37.1 0 0 1 894.3 389.2M866.5 370.8A36.0 37.1 0 0 1 865.0 367.7M863.7 364.4A36.0 37.1 0 0 1 862.7 361.0M884.3 317.9A36.0 37.1 0 0 1 887.6 316.7" stroke-opacity="0.0207" stroke-width="5.7"/>
<path d="M920.0 323.1A36.0 37.1 0 0 1 922.5 325.5M897.7 389.4A36.0 37.1 0 0 1 894.3 389.2M866.5 370.8A36.0 37.1 0 0 1 865.0 367.7M863.7 364.4A36.0 37.1 0 0 1 862.7 361.0M884.3 317.9A36.0 37.1 0 0 1 887.6 316.7" stroke-opacity="0.0183" stroke-width="12.3"/>
<path d="M920.0 323.1A36.0 37.1 0 0 1 922.5 325.5M897.7 389.4A36.0 37.1 0 0 1 894.3 389.2M866.5 370.8A36.0 37.1 0 0 1 865.0 367.7M863.7 364.4A36.0 37.1 0 0 1 862.7 361.0M884.3 317.9A36.0 37.1 0 0 1 887.6 316.7" stroke-opacity="0.0207" stroke-width="5.7"/>
<path d="M866.5 370.8A36.0 37.1 0 0 1 865.0 367.7M863.7 364.4A36.0 37.1 0 0 1 862.7 361.0M884.3 317.9A36.0 37.1 0 0 1 887.6 316.7" stroke-opacity="0.0183" stroke-width="12.3"/>
<path d="M866.5 370.8A36.0 37.1 0 0 1 865.0 367.7M863.7 364.4A36.0 37.1 0 0 1 862.7 361.0M884.3 317.9A36.0 37.1 0 0 1 887.6 316.7" stroke-opacity="0.0207" stroke-width="5.7"/>
<path d="M863.7 364.4A36.0 37.1 0 0 1 862.7 361.0M884.3 317.9A36.0 37.1 0 0 1 887.6 316.7" stroke-opacity="0.0183" stroke-width="12.3"/>
<path d="M863.7 364.4A36.0 37.1 0 0 1 862.7 361.0M884.3 317.9A36.0 37.1 0 0 1 887.6 316.7" stroke-opacity="0.0207" stroke-width="5.7"/>
<path d="M863.7 364.4A36.0 37.1 0 0 1 862.7 361.0" stroke-opacity="0.0183" stroke-width="12.3"/>
<path d="M863.7 364.4A36.0 37.1 0 0 1 862.7 361.0" stroke-opacity="0.0207" stroke-width="5.7"/>
</g></g>
<path d="M889.00 349.79a7.3 7.2 0 0 1 6.5 -7.1l0.6 -0.9 0.8 0.8a7.3 7.3 0 1 1 -7.9 7.2Z" fill="#dff6ff"/>
<rect x="753.9" y="53" width="17.9" height="2.7" fill="#fff"/>
<text x="753.6" y="50.2" font-size="11.5" text-anchor="start" fill="#fff" font-family="Liberation Sans, sans-serif" >30 <tspan font-style="italic">μ</tspan>m</text>
<text x="941.2" y="50.2" font-size="11.5" text-anchor="end" fill="#fff" font-family="Liberation Sans, sans-serif" ><tspan font-style="italic">τ</tspan> = 3.60</text>
<text x="941.2" y="140.43" font-size="11.5" text-anchor="end" fill="#fff" font-family="Liberation Sans, sans-serif" >4.68</text>
<text x="941.2" y="230.66000000000003" font-size="11.5" text-anchor="end" fill="#fff" font-family="Liberation Sans, sans-serif" >5.28</text>
<text x="941.2" y="320.89" font-size="11.5" text-anchor="end" fill="#fff" font-family="Liberation Sans, sans-serif" >5.76 ms</text>
<defs><linearGradient id="cb" x1="0" x2="1" y1="0" y2="0">
<stop offset="0" stop-color="#000000"/>
<stop offset="0.3" stop-color="#000003"/>
<stop offset="0.36" stop-color="#000a2a"/>
<stop offset="0.43" stop-color="#00236e"/>
<stop offset="0.52" stop-color="#0046c0"/>
<stop offset="0.62" stop-color="#0c68ee"/>
<stop offset="0.7" stop-color="#2a86f8"/>
<stop offset="0.8" stop-color="#5aabff"/>
<stop offset="0.9" stop-color="#98d0ff"/>
<stop offset="1.0" stop-color="#e6f6ff"/>
</linearGradient></defs>
<rect x="756.3" y="397.6" width="184.2" height="9.6" fill="url(#cb)" stroke="#888" stroke-width="0.5"/>
<text x="758.4" y="422.7" font-size="11" text-anchor="middle" fill="#000" font-family="Liberation Sans, sans-serif" >0</text>
<text x="818.9" y="422.7" font-size="11" text-anchor="middle" fill="#000" font-family="Liberation Sans, sans-serif" >1</text>
<text x="878.9" y="422.7" font-size="11" text-anchor="middle" fill="#000" font-family="Liberation Sans, sans-serif" >2</text>
<text x="939" y="422.7" font-size="11" text-anchor="middle" fill="#000" font-family="Liberation Sans, sans-serif" >3</text>
<text x="848" y="438" font-size="16" text-anchor="middle" fill="#000" font-family="Liberation Sans, sans-serif" >Density (<tspan font-style="italic">μ</tspan>m<tspan font-size="11" dy="-6">−2</tspan><tspan dy="6">)</tspan></text>
</g></svg></body></html>
